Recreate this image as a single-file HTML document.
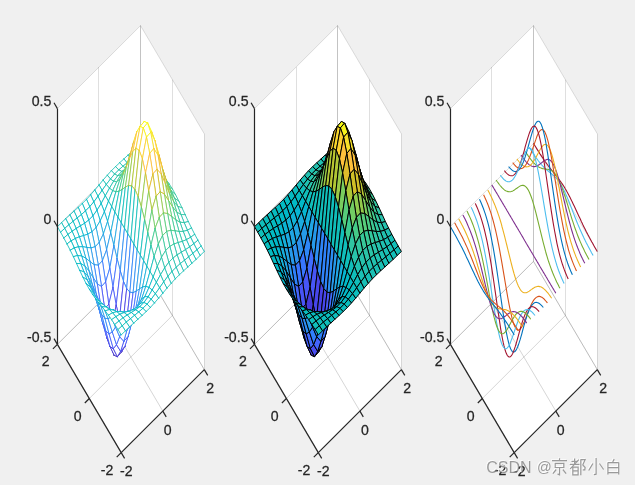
<!DOCTYPE html><html><head><meta charset="utf-8"><style>html,body{margin:0;padding:0;background:#f0f0f0}svg{display:block}</style></head><body><svg width="635" height="485" viewBox="0 0 635 485">
<rect width="635" height="485" fill="#f0f0f0"/>
<polygon points="57.4,344.4 57.4,108.6 140.5,25.6 204.3,133.8 204.3,369.6 121.2,452.6" fill="#fff"/>
<g stroke="#262626" stroke-opacity="0.19" stroke-width="1" fill="none">
<path d="M121.2 452.6L57.4 344.4"/>
<path d="M162.8 411.1L99 302.9"/>
<path d="M204.3 369.6L140.5 261.4"/>
<path d="M121.2 452.6L204.3 369.6"/>
<path d="M89.3 398.5L172.4 315.5"/>
<path d="M57.4 344.4L140.5 261.4"/>
</g>
<g stroke="#262626" stroke-opacity="0.15" stroke-width="1" fill="none">
<path d="M57.5 344.4L57.5 108.6"/>
<path d="M98.5 302.9L98.5 67.1"/>
<path d="M140.5 261.4L140.5 25.6"/>
<path d="M57.4 344.4L140.5 261.4"/>
<path d="M57.4 226.5L140.5 143.5"/>
<path d="M57.4 108.6L140.5 25.6"/>
<path d="M204.5 369.6L204.5 133.8"/>
<path d="M172.5 315.5L172.5 79.7"/>
<path d="M140.5 261.4L140.5 25.6"/>
<path d="M204.3 369.6L140.5 261.4"/>
<path d="M204.3 251.7L140.5 143.5"/>
<path d="M204.3 133.8L140.5 25.6"/>
</g>
<g stroke-width="0.85" stroke-linecap="round" fill="none">
<path d="M139.5 152.4L143.7 148.6L140.5 143.3L136.3 147.3z" fill="#fff"/>
<path d="M139.5 152.4L143.7 148.6" stroke="#13beb8"/>
<path d="M139.5 152.4L136.3 147.3" stroke="#13beb8"/>
<path d="M136.3 147.3L140.5 143.3" stroke="#13beb8"/>
<path d="M143.7 148.6L140.5 143.3" stroke="#13beb8"/>
<path d="M135.4 156.1L139.5 152.4L136.3 147.3L132.2 151.3z" fill="#fff"/>
<path d="M135.4 156.1L139.5 152.4" stroke="#17bfb6"/>
<path d="M135.4 156.1L132.2 151.3" stroke="#17bfb6"/>
<path d="M132.2 151.3L136.3 147.3" stroke="#13beb8"/>
<path d="M139.5 152.4L136.3 147.3" stroke="#13beb8"/>
<path d="M142.7 157.2L146.9 153.7L143.7 148.6L139.5 152.4z" fill="#fff"/>
<path d="M142.7 157.2L146.9 153.7" stroke="#17bfb6"/>
<path d="M142.7 157.2L139.5 152.4" stroke="#17bfb6"/>
<path d="M139.5 152.4L143.7 148.6" stroke="#13beb8"/>
<path d="M146.9 153.7L143.7 148.6" stroke="#13beb8"/>
<path d="M131.2 159.5L135.4 156.1L132.2 151.3L128 155.1z" fill="#fff"/>
<path d="M131.2 159.5L135.4 156.1" stroke="#1ac0b5"/>
<path d="M131.2 159.5L128 155.1" stroke="#1ac0b5"/>
<path d="M128 155.1L132.2 151.3" stroke="#17bfb6"/>
<path d="M135.4 156.1L132.2 151.3" stroke="#17bfb6"/>
<path d="M138.6 160.4L142.7 157.2L139.5 152.4L135.4 156.1z" fill="#fff"/>
<path d="M138.6 160.4L142.7 157.2" stroke="#1ac0b5"/>
<path d="M138.6 160.4L135.4 156.1" stroke="#1ac0b5"/>
<path d="M135.4 156.1L139.5 152.4" stroke="#17bfb6"/>
<path d="M142.7 157.2L139.5 152.4" stroke="#17bfb6"/>
<path d="M145.9 161.5L150.1 158.5L146.9 153.7L142.7 157.2z" fill="#fff"/>
<path d="M145.9 161.5L150.1 158.5" stroke="#1dc0b3"/>
<path d="M145.9 161.5L142.7 157.2" stroke="#1dc0b3"/>
<path d="M142.7 157.2L146.9 153.7" stroke="#17bfb6"/>
<path d="M150.1 158.5L146.9 153.7" stroke="#17bfb6"/>
<path d="M127.1 162.9L131.2 159.5L128 155.1L123.9 158.9z" fill="#fff"/>
<path d="M127.1 162.9L131.2 159.5" stroke="#1dc0b3"/>
<path d="M127.1 162.9L123.9 158.9" stroke="#1dc0b3"/>
<path d="M123.9 158.9L128 155.1" stroke="#17bfb6"/>
<path d="M131.2 159.5L128 155.1" stroke="#1ac0b5"/>
<path d="M134.4 163.2L138.6 160.4L135.4 156.1L131.2 159.5z" fill="#fff"/>
<path d="M134.4 163.2L138.6 160.4" stroke="#20c1b1"/>
<path d="M134.4 163.2L131.2 159.5" stroke="#20c1b1"/>
<path d="M131.2 159.5L135.4 156.1" stroke="#1ac0b5"/>
<path d="M138.6 160.4L135.4 156.1" stroke="#1ac0b5"/>
<path d="M141.8 163.9L145.9 161.5L142.7 157.2L138.6 160.4z" fill="#fff"/>
<path d="M141.8 163.9L145.9 161.5" stroke="#22c1af"/>
<path d="M141.8 163.9L138.6 160.4" stroke="#22c1af"/>
<path d="M138.6 160.4L142.7 157.2" stroke="#1ac0b5"/>
<path d="M145.9 161.5L142.7 157.2" stroke="#1dc0b3"/>
<path d="M149.1 165.4L153.3 163.1L150.1 158.5L145.9 161.5z" fill="#fff"/>
<path d="M149.1 165.4L153.3 163.1" stroke="#22c1af"/>
<path d="M149.1 165.4L145.9 161.5" stroke="#22c1af"/>
<path d="M145.9 161.5L150.1 158.5" stroke="#1dc0b3"/>
<path d="M153.3 163.1L150.1 158.5" stroke="#1ac0b5"/>
<path d="M122.9 166.3L127.1 162.9L123.9 158.9L119.7 162.7z" fill="#fff"/>
<path d="M122.9 166.3L127.1 162.9" stroke="#20c1b1"/>
<path d="M122.9 166.3L119.7 162.7" stroke="#20c1b1"/>
<path d="M119.7 162.7L123.9 158.9" stroke="#1ac0b5"/>
<path d="M127.1 162.9L123.9 158.9" stroke="#1dc0b3"/>
<path d="M130.3 165.7L134.4 163.2L131.2 159.5L127.1 162.9z" fill="#fff"/>
<path d="M130.3 165.7L134.4 163.2" stroke="#25c2ae"/>
<path d="M130.3 165.7L127.1 162.9" stroke="#25c2ae"/>
<path d="M127.1 162.9L131.2 159.5" stroke="#1dc0b3"/>
<path d="M134.4 163.2L131.2 159.5" stroke="#20c1b1"/>
<path d="M137.6 165.6L141.8 163.9L138.6 160.4L134.4 163.2z" fill="#fff"/>
<path d="M137.6 165.6L141.8 163.9" stroke="#29c3aa"/>
<path d="M137.6 165.6L134.4 163.2" stroke="#29c3aa"/>
<path d="M134.4 163.2L138.6 160.4" stroke="#20c1b1"/>
<path d="M141.8 163.9L138.6 160.4" stroke="#22c1af"/>
<path d="M144.9 166.5L149.1 165.4L145.9 161.5L141.8 163.9z" fill="#fff"/>
<path d="M144.9 166.5L149.1 165.4" stroke="#29c3aa"/>
<path d="M144.9 166.5L141.8 163.9" stroke="#29c3aa"/>
<path d="M141.8 163.9L145.9 161.5" stroke="#22c1af"/>
<path d="M149.1 165.4L145.9 161.5" stroke="#22c1af"/>
<path d="M118.8 169.9L122.9 166.3L119.7 162.7L115.6 166.6z" fill="#fff"/>
<path d="M118.8 169.9L122.9 166.3" stroke="#22c1af"/>
<path d="M118.8 169.9L115.6 166.6" stroke="#22c1af"/>
<path d="M115.6 166.6L119.7 162.7" stroke="#1ac0b5"/>
<path d="M122.9 166.3L119.7 162.7" stroke="#20c1b1"/>
<path d="M152.3 168.6L156.4 167.4L153.3 163.1L149.1 165.4z" fill="#fff"/>
<path d="M152.3 168.6L156.4 167.4" stroke="#27c2ac"/>
<path d="M152.3 168.6L149.1 165.4" stroke="#27c2ac"/>
<path d="M149.1 165.4L153.3 163.1" stroke="#22c1af"/>
<path d="M156.4 167.4L153.3 163.1" stroke="#20c1b1"/>
<path d="M126.1 168.4L130.3 165.7L127.1 162.9L122.9 166.3z" fill="#fff"/>
<path d="M126.1 168.4L130.3 165.7" stroke="#29c3aa"/>
<path d="M126.1 168.4L122.9 166.3" stroke="#29c3aa"/>
<path d="M122.9 166.3L127.1 162.9" stroke="#20c1b1"/>
<path d="M130.3 165.7L127.1 162.9" stroke="#25c2ae"/>
<path d="M133.4 166.9L137.6 165.6L134.4 163.2L130.3 165.7z" fill="#fff"/>
<path d="M133.4 166.9L137.6 165.6" stroke="#2fc5a3"/>
<path d="M133.4 166.9L130.3 165.7" stroke="#2fc5a3"/>
<path d="M130.3 165.7L134.4 163.2" stroke="#25c2ae"/>
<path d="M137.6 165.6L134.4 163.2" stroke="#29c3aa"/>
<path d="M140.8 166.6L144.9 166.5L141.8 163.9L137.6 165.6z" fill="#fff"/>
<path d="M140.8 166.6L144.9 166.5" stroke="#32c69f"/>
<path d="M140.8 166.6L137.6 165.6" stroke="#32c69f"/>
<path d="M137.6 165.6L141.8 163.9" stroke="#29c3aa"/>
<path d="M144.9 166.5L141.8 163.9" stroke="#29c3aa"/>
<path d="M114.6 174.1L118.8 169.9L115.6 166.6L111.4 170.7z" fill="#fff"/>
<path d="M114.6 174.1L118.8 169.9" stroke="#20c1b1"/>
<path d="M114.6 174.1L111.4 170.7" stroke="#20c1b1"/>
<path d="M111.4 170.7L115.6 166.6" stroke="#1ac0b5"/>
<path d="M118.8 169.9L115.6 166.6" stroke="#22c1af"/>
<path d="M148.1 168.1L152.3 168.6L149.1 165.4L144.9 166.5z" fill="#fff"/>
<path d="M148.1 168.1L152.3 168.6" stroke="#30c5a1"/>
<path d="M148.1 168.1L144.9 166.5" stroke="#30c5a1"/>
<path d="M144.9 166.5L149.1 165.4" stroke="#29c3aa"/>
<path d="M152.3 168.6L149.1 165.4" stroke="#27c2ac"/>
<path d="M121.9 171.5L126.1 168.4L122.9 166.3L118.8 169.9z" fill="#fff"/>
<path d="M121.9 171.5L126.1 168.4" stroke="#2bc3a8"/>
<path d="M121.9 171.5L118.8 169.9" stroke="#2bc3a8"/>
<path d="M118.8 169.9L122.9 166.3" stroke="#22c1af"/>
<path d="M126.1 168.4L122.9 166.3" stroke="#29c3aa"/>
<path d="M155.5 171.3L159.6 171.4L156.4 167.4L152.3 168.6z" fill="#fff"/>
<path d="M155.5 171.3L159.6 171.4" stroke="#2ec4a4"/>
<path d="M155.5 171.3L152.3 168.6" stroke="#2ec4a4"/>
<path d="M152.3 168.6L156.4 167.4" stroke="#27c2ac"/>
<path d="M159.6 171.4L156.4 167.4" stroke="#22c1af"/>
<path d="M129.3 168.3L133.4 166.9L130.3 165.7L126.1 168.4z" fill="#fff"/>
<path d="M129.3 168.3L133.4 166.9" stroke="#33c79d"/>
<path d="M129.3 168.3L126.1 168.4" stroke="#33c79d"/>
<path d="M126.1 168.4L130.3 165.7" stroke="#29c3aa"/>
<path d="M133.4 166.9L130.3 165.7" stroke="#2fc5a3"/>
<path d="M136.6 165.9L140.8 166.6L137.6 165.6L133.4 166.9z" fill="#fff"/>
<path d="M136.6 165.9L140.8 166.6" stroke="#3cc992"/>
<path d="M136.6 165.9L133.4 166.9" stroke="#3cc992"/>
<path d="M133.4 166.9L137.6 165.6" stroke="#2fc5a3"/>
<path d="M140.8 166.6L137.6 165.6" stroke="#32c69f"/>
<path d="M110.5 179L114.6 174.1L111.4 170.7L107.3 175.2z" fill="#fff"/>
<path d="M110.5 179L114.6 174.1" stroke="#20c1b1"/>
<path d="M110.5 179L107.3 175.2" stroke="#20c1b1"/>
<path d="M107.3 175.2L111.4 170.7" stroke="#17bfb6"/>
<path d="M114.6 174.1L111.4 170.7" stroke="#20c1b1"/>
<path d="M144 165.9L148.1 168.1L144.9 166.5L140.8 166.6z" fill="#fff"/>
<path d="M144 165.9L148.1 168.1" stroke="#40ca8d"/>
<path d="M144 165.9L140.8 166.6" stroke="#40ca8d"/>
<path d="M140.8 166.6L144.9 166.5" stroke="#32c69f"/>
<path d="M148.1 168.1L144.9 166.5" stroke="#30c5a1"/>
<path d="M117.8 175.7L121.9 171.5L118.8 169.9L114.6 174.1z" fill="#fff"/>
<path d="M117.8 175.7L121.9 171.5" stroke="#2bc3a8"/>
<path d="M117.8 175.7L114.6 174.1" stroke="#2bc3a8"/>
<path d="M114.6 174.1L118.8 169.9" stroke="#20c1b1"/>
<path d="M121.9 171.5L118.8 169.9" stroke="#2bc3a8"/>
<path d="M151.3 168.9L155.5 171.3L152.3 168.6L148.1 168.1z" fill="#fff"/>
<path d="M151.3 168.9L155.5 171.3" stroke="#3ac994"/>
<path d="M151.3 168.9L148.1 168.1" stroke="#3ac994"/>
<path d="M148.1 168.1L152.3 168.6" stroke="#30c5a1"/>
<path d="M155.5 171.3L152.3 168.6" stroke="#2ec4a4"/>
<path d="M125.1 170.6L129.3 168.3L126.1 168.4L121.9 171.5z" fill="#fff"/>
<path d="M125.1 170.6L129.3 168.3" stroke="#38c896"/>
<path d="M125.1 170.6L121.9 171.5" stroke="#38c896"/>
<path d="M121.9 171.5L126.1 168.4" stroke="#2bc3a8"/>
<path d="M129.3 168.3L126.1 168.4" stroke="#33c79d"/>
<path d="M158.7 173.9L162.8 175.3L159.6 171.4L155.5 171.3z" fill="#fff"/>
<path d="M158.7 173.9L162.8 175.3" stroke="#32c69f"/>
<path d="M158.7 173.9L155.5 171.3" stroke="#32c69f"/>
<path d="M155.5 171.3L159.6 171.4" stroke="#2ec4a4"/>
<path d="M162.8 175.3L159.6 171.4" stroke="#27c2ac"/>
<path d="M132.5 165.3L136.6 165.9L133.4 166.9L129.3 168.3z" fill="#fff"/>
<path d="M132.5 165.3L136.6 165.9" stroke="#4bcb84"/>
<path d="M132.5 165.3L129.3 168.3" stroke="#4bcb84"/>
<path d="M129.3 168.3L133.4 166.9" stroke="#33c79d"/>
<path d="M136.6 165.9L133.4 166.9" stroke="#3cc992"/>
<path d="M106.3 184.5L110.5 179L107.3 175.2L103.1 180z" fill="#fff"/>
<path d="M106.3 184.5L110.5 179" stroke="#1ac0b5"/>
<path d="M106.3 184.5L103.1 180" stroke="#1ac0b5"/>
<path d="M103.1 180L107.3 175.2" stroke="#17bfb6"/>
<path d="M110.5 179L107.3 175.2" stroke="#20c1b1"/>
<path d="M139.8 162.5L144 165.9L140.8 166.6L136.6 165.9z" fill="#fff"/>
<path d="M139.8 162.5L144 165.9" stroke="#5acc77"/>
<path d="M139.8 162.5L136.6 165.9" stroke="#5acc77"/>
<path d="M136.6 165.9L140.8 166.6" stroke="#3cc992"/>
<path d="M144 165.9L140.8 166.6" stroke="#40ca8d"/>
<path d="M113.6 181.3L117.8 175.7L114.6 174.1L110.5 179z" fill="#fff"/>
<path d="M113.6 181.3L117.8 175.7" stroke="#27c2ac"/>
<path d="M113.6 181.3L110.5 179" stroke="#27c2ac"/>
<path d="M110.5 179L114.6 174.1" stroke="#20c1b1"/>
<path d="M117.8 175.7L114.6 174.1" stroke="#2bc3a8"/>
<path d="M147.2 163.9L151.3 168.9L148.1 168.1L144 165.9z" fill="#fff"/>
<path d="M147.2 163.9L151.3 168.9" stroke="#5acc77"/>
<path d="M147.2 163.9L144 165.9" stroke="#5acc77"/>
<path d="M144 165.9L148.1 168.1" stroke="#40ca8d"/>
<path d="M151.3 168.9L148.1 168.1" stroke="#3ac994"/>
<path d="M121 174.9L125.1 170.6L121.9 171.5L117.8 175.7z" fill="#fff"/>
<path d="M121 174.9L125.1 170.6" stroke="#36c899"/>
<path d="M121 174.9L117.8 175.7" stroke="#36c899"/>
<path d="M117.8 175.7L121.9 171.5" stroke="#2bc3a8"/>
<path d="M125.1 170.6L121.9 171.5" stroke="#38c896"/>
<path d="M154.5 169.3L158.7 173.9L155.5 171.3L151.3 168.9z" fill="#fff"/>
<path d="M154.5 169.3L158.7 173.9" stroke="#4bcb84"/>
<path d="M154.5 169.3L151.3 168.9" stroke="#4bcb84"/>
<path d="M151.3 168.9L155.5 171.3" stroke="#3ac994"/>
<path d="M158.7 173.9L155.5 171.3" stroke="#32c69f"/>
<path d="M128.3 166.5L132.5 165.3L129.3 168.3L125.1 170.6z" fill="#fff"/>
<path d="M128.3 166.5L132.5 165.3" stroke="#57cc7a"/>
<path d="M128.3 166.5L125.1 170.6" stroke="#57cc7a"/>
<path d="M125.1 170.6L129.3 168.3" stroke="#38c896"/>
<path d="M132.5 165.3L129.3 168.3" stroke="#4bcb84"/>
<path d="M102.1 190.4L106.3 184.5L103.1 180L99 185z" fill="#fff"/>
<path d="M102.1 190.4L106.3 184.5" stroke="#10beba"/>
<path d="M102.1 190.4L99 185" stroke="#10beba"/>
<path d="M99 185L103.1 180" stroke="#10beba"/>
<path d="M106.3 184.5L103.1 180" stroke="#1ac0b5"/>
<path d="M161.9 176.8L166 179.4L162.8 175.3L158.7 173.9z" fill="#fff"/>
<path d="M161.9 176.8L166 179.4" stroke="#38c896"/>
<path d="M161.9 176.8L158.7 173.9" stroke="#38c896"/>
<path d="M158.7 173.9L162.8 175.3" stroke="#32c69f"/>
<path d="M166 179.4L162.8 175.3" stroke="#2bc3a8"/>
<path d="M135.7 159.4L139.8 162.5L136.6 165.9L132.5 165.3z" fill="#fff"/>
<path d="M135.7 159.4L139.8 162.5" stroke="#7dcc5b"/>
<path d="M135.7 159.4L132.5 165.3" stroke="#7dcc5b"/>
<path d="M132.5 165.3L136.6 165.9" stroke="#4bcb84"/>
<path d="M139.8 162.5L136.6 165.9" stroke="#5acc77"/>
<path d="M109.5 188.2L113.6 181.3L110.5 179L106.3 184.5z" fill="#fff"/>
<path d="M109.5 188.2L113.6 181.3" stroke="#20c1b1"/>
<path d="M109.5 188.2L106.3 184.5" stroke="#20c1b1"/>
<path d="M106.3 184.5L110.5 179" stroke="#1ac0b5"/>
<path d="M113.6 181.3L110.5 179" stroke="#27c2ac"/>
<path d="M143 157.2L147.2 163.9L144 165.9L139.8 162.5z" fill="#fff"/>
<path d="M143 157.2L147.2 163.9" stroke="#8bcb51"/>
<path d="M143 157.2L139.8 162.5" stroke="#8bcb51"/>
<path d="M139.8 162.5L144 165.9" stroke="#5acc77"/>
<path d="M147.2 163.9L144 165.9" stroke="#5acc77"/>
<path d="M116.8 181.6L121 174.9L117.8 175.7L113.6 181.3z" fill="#fff"/>
<path d="M116.8 181.6L121 174.9" stroke="#32c69f"/>
<path d="M116.8 181.6L113.6 181.3" stroke="#32c69f"/>
<path d="M113.6 181.3L117.8 175.7" stroke="#27c2ac"/>
<path d="M121 174.9L117.8 175.7" stroke="#36c899"/>
<path d="M150.4 161.4L154.5 169.3L151.3 168.9L147.2 163.9z" fill="#fff"/>
<path d="M150.4 161.4L154.5 169.3" stroke="#7dcc5b"/>
<path d="M150.4 161.4L147.2 163.9" stroke="#7dcc5b"/>
<path d="M147.2 163.9L151.3 168.9" stroke="#5acc77"/>
<path d="M154.5 169.3L151.3 168.9" stroke="#4bcb84"/>
<path d="M124.2 170.8L128.3 166.5L125.1 170.6L121 174.9z" fill="#fff"/>
<path d="M124.2 170.8L128.3 166.5" stroke="#57cc7a"/>
<path d="M124.2 170.8L121 174.9" stroke="#57cc7a"/>
<path d="M121 174.9L125.1 170.6" stroke="#36c899"/>
<path d="M128.3 166.5L125.1 170.6" stroke="#57cc7a"/>
<path d="M98 196.3L102.1 190.4L99 185L94.8 190z" fill="#fff"/>
<path d="M98 196.3L102.1 190.4" stroke="#0abdbd"/>
<path d="M98 196.3L94.8 190" stroke="#0abdbd"/>
<path d="M94.8 190L99 185" stroke="#0dbdbc"/>
<path d="M102.1 190.4L99 185" stroke="#10beba"/>
<path d="M157.7 170.2L161.9 176.8L158.7 173.9L154.5 169.3z" fill="#fff"/>
<path d="M157.7 170.2L161.9 176.8" stroke="#5acc77"/>
<path d="M157.7 170.2L154.5 169.3" stroke="#5acc77"/>
<path d="M154.5 169.3L158.7 173.9" stroke="#4bcb84"/>
<path d="M161.9 176.8L158.7 173.9" stroke="#38c896"/>
<path d="M131.5 158.9L135.7 159.4L132.5 165.3L128.3 166.5z" fill="#fff"/>
<path d="M131.5 158.9L135.7 159.4" stroke="#93ca4b"/>
<path d="M131.5 158.9L128.3 166.5" stroke="#93ca4b"/>
<path d="M128.3 166.5L132.5 165.3" stroke="#57cc7a"/>
<path d="M135.7 159.4L132.5 165.3" stroke="#7dcc5b"/>
<path d="M105.3 195.8L109.5 188.2L106.3 184.5L102.1 190.4z" fill="#fff"/>
<path d="M105.3 195.8L109.5 188.2" stroke="#10beba"/>
<path d="M105.3 195.8L102.1 190.4" stroke="#10beba"/>
<path d="M102.1 190.4L106.3 184.5" stroke="#10beba"/>
<path d="M109.5 188.2L106.3 184.5" stroke="#20c1b1"/>
<path d="M165.1 180.4L169.2 183.9L166 179.4L161.9 176.8z" fill="#fff"/>
<path d="M165.1 180.4L169.2 183.9" stroke="#3cc992"/>
<path d="M165.1 180.4L161.9 176.8" stroke="#3cc992"/>
<path d="M161.9 176.8L166 179.4" stroke="#38c896"/>
<path d="M169.2 183.9L166 179.4" stroke="#2cc4a6"/>
<path d="M138.9 151L143 157.2L139.8 162.5L135.7 159.4z" fill="#fff"/>
<path d="M138.9 151L143 157.2" stroke="#b8c431"/>
<path d="M138.9 151L135.7 159.4" stroke="#b8c431"/>
<path d="M135.7 159.4L139.8 162.5" stroke="#7dcc5b"/>
<path d="M143 157.2L139.8 162.5" stroke="#8bcb51"/>
<path d="M112.7 190.7L116.8 181.6L113.6 181.3L109.5 188.2z" fill="#fff"/>
<path d="M112.7 190.7L116.8 181.6" stroke="#29c3aa"/>
<path d="M112.7 190.7L109.5 188.2" stroke="#29c3aa"/>
<path d="M109.5 188.2L113.6 181.3" stroke="#20c1b1"/>
<path d="M116.8 181.6L113.6 181.3" stroke="#32c69f"/>
<path d="M146.2 151.2L150.4 161.4L147.2 163.9L143 157.2z" fill="#fff"/>
<path d="M146.2 151.2L150.4 161.4" stroke="#bec32e"/>
<path d="M146.2 151.2L143 157.2" stroke="#bec32e"/>
<path d="M143 157.2L147.2 163.9" stroke="#8bcb51"/>
<path d="M150.4 161.4L147.2 163.9" stroke="#7dcc5b"/>
<path d="M120 179.3L124.2 170.8L121 174.9L116.8 181.6z" fill="#fff"/>
<path d="M120 179.3L124.2 170.8" stroke="#45cb89"/>
<path d="M120 179.3L116.8 181.6" stroke="#45cb89"/>
<path d="M116.8 181.6L121 174.9" stroke="#32c69f"/>
<path d="M124.2 170.8L121 174.9" stroke="#57cc7a"/>
<path d="M93.8 201.9L98 196.3L94.8 190L90.6 194.8z" fill="#fff"/>
<path d="M93.8 201.9L98 196.3" stroke="#05bbc1"/>
<path d="M93.8 201.9L90.6 194.8" stroke="#05bbc1"/>
<path d="M90.6 194.8L94.8 190" stroke="#0dbdbc"/>
<path d="M98 196.3L94.8 190" stroke="#0abdbd"/>
<path d="M153.6 159.6L157.7 170.2L154.5 169.3L150.4 161.4z" fill="#fff"/>
<path d="M153.6 159.6L157.7 170.2" stroke="#9dc943"/>
<path d="M153.6 159.6L150.4 161.4" stroke="#9dc943"/>
<path d="M150.4 161.4L154.5 169.3" stroke="#7dcc5b"/>
<path d="M157.7 170.2L154.5 169.3" stroke="#5acc77"/>
<path d="M127.4 163.3L131.5 158.9L128.3 166.5L124.2 170.8z" fill="#fff"/>
<path d="M127.4 163.3L131.5 158.9" stroke="#8fcb4e"/>
<path d="M127.4 163.3L124.2 170.8" stroke="#8fcb4e"/>
<path d="M124.2 170.8L128.3 166.5" stroke="#57cc7a"/>
<path d="M131.5 158.9L128.3 166.5" stroke="#93ca4b"/>
<path d="M101.2 203.5L105.3 195.8L102.1 190.4L98 196.3z" fill="#fff"/>
<path d="M101.2 203.5L105.3 195.8" stroke="#05bbc1"/>
<path d="M101.2 203.5L98 196.3" stroke="#05bbc1"/>
<path d="M98 196.3L102.1 190.4" stroke="#0abdbd"/>
<path d="M105.3 195.8L102.1 190.4" stroke="#10beba"/>
<path d="M160.9 172.5L165.1 180.4L161.9 176.8L157.7 170.2z" fill="#fff"/>
<path d="M160.9 172.5L165.1 180.4" stroke="#6bcd69"/>
<path d="M160.9 172.5L157.7 170.2" stroke="#6bcd69"/>
<path d="M157.7 170.2L161.9 176.8" stroke="#5acc77"/>
<path d="M165.1 180.4L161.9 176.8" stroke="#3cc992"/>
<path d="M134.7 148.4L138.9 151L135.7 159.4L131.5 158.9z" fill="#fff"/>
<path d="M134.7 148.4L138.9 151" stroke="#d3bf27"/>
<path d="M134.7 148.4L131.5 158.9" stroke="#d3bf27"/>
<path d="M131.5 158.9L135.7 159.4" stroke="#93ca4b"/>
<path d="M138.9 151L135.7 159.4" stroke="#b8c431"/>
<path d="M108.5 201.2L112.7 190.7L109.5 188.2L105.3 195.8z" fill="#fff"/>
<path d="M108.5 201.2L112.7 190.7" stroke="#10beba"/>
<path d="M108.5 201.2L105.3 195.8" stroke="#10beba"/>
<path d="M105.3 195.8L109.5 188.2" stroke="#10beba"/>
<path d="M112.7 190.7L109.5 188.2" stroke="#29c3aa"/>
<path d="M168.2 185.1L172.4 189L169.2 183.9L165.1 180.4z" fill="#fff"/>
<path d="M168.2 185.1L172.4 189" stroke="#3eca90"/>
<path d="M168.2 185.1L165.1 180.4" stroke="#3eca90"/>
<path d="M165.1 180.4L169.2 183.9" stroke="#3cc992"/>
<path d="M172.4 189L169.2 183.9" stroke="#2ec4a4"/>
<path d="M142.1 141.6L146.2 151.2L143 157.2L138.9 151z" fill="#fff"/>
<path d="M142.1 141.6L146.2 151.2" stroke="#ecba33"/>
<path d="M142.1 141.6L138.9 151" stroke="#ecba33"/>
<path d="M138.9 151L143 157.2" stroke="#b8c431"/>
<path d="M146.2 151.2L143 157.2" stroke="#bec32e"/>
<path d="M115.9 191.8L120 179.3L116.8 181.6L112.7 190.7z" fill="#fff"/>
<path d="M115.9 191.8L120 179.3" stroke="#30c5a1"/>
<path d="M115.9 191.8L112.7 190.7" stroke="#30c5a1"/>
<path d="M112.7 190.7L116.8 181.6" stroke="#29c3aa"/>
<path d="M120 179.3L116.8 181.6" stroke="#45cb89"/>
<path d="M89.7 206.7L93.8 201.9L90.6 194.8L86.5 199.3z" fill="#fff"/>
<path d="M89.7 206.7L93.8 201.9" stroke="#05bbc1"/>
<path d="M89.7 206.7L86.5 199.3" stroke="#05bbc1"/>
<path d="M86.5 199.3L90.6 194.8" stroke="#0abdbd"/>
<path d="M93.8 201.9L90.6 194.8" stroke="#05bbc1"/>
<path d="M149.4 146.3L153.6 159.6L150.4 161.4L146.2 151.2z" fill="#fff"/>
<path d="M149.4 146.3L153.6 159.6" stroke="#e3bc2c"/>
<path d="M149.4 146.3L146.2 151.2" stroke="#e3bc2c"/>
<path d="M146.2 151.2L150.4 161.4" stroke="#bec32e"/>
<path d="M153.6 159.6L150.4 161.4" stroke="#9dc943"/>
<path d="M123.2 174.2L127.4 163.3L124.2 170.8L120 179.3z" fill="#fff"/>
<path d="M123.2 174.2L127.4 163.3" stroke="#72cd64"/>
<path d="M123.2 174.2L120 179.3" stroke="#72cd64"/>
<path d="M120 179.3L124.2 170.8" stroke="#45cb89"/>
<path d="M127.4 163.3L124.2 170.8" stroke="#8fcb4e"/>
<path d="M97 210.3L101.2 203.5L98 196.3L93.8 201.9z" fill="#fff"/>
<path d="M97 210.3L101.2 203.5" stroke="#01b9c6"/>
<path d="M97 210.3L93.8 201.9" stroke="#01b9c6"/>
<path d="M93.8 201.9L98 196.3" stroke="#05bbc1"/>
<path d="M101.2 203.5L98 196.3" stroke="#05bbc1"/>
<path d="M156.7 160L160.9 172.5L157.7 170.2L153.6 159.6z" fill="#fff"/>
<path d="M156.7 160L160.9 172.5" stroke="#b5c533"/>
<path d="M156.7 160L153.6 159.6" stroke="#b5c533"/>
<path d="M153.6 159.6L157.7 170.2" stroke="#9dc943"/>
<path d="M160.9 172.5L157.7 170.2" stroke="#6bcd69"/>
<path d="M130.6 153L134.7 148.4L131.5 158.9L127.4 163.3z" fill="#fff"/>
<path d="M130.6 153L134.7 148.4" stroke="#d0bf27"/>
<path d="M130.6 153L127.4 163.3" stroke="#d0bf27"/>
<path d="M127.4 163.3L131.5 158.9" stroke="#8fcb4e"/>
<path d="M134.7 148.4L131.5 158.9" stroke="#d3bf27"/>
<path d="M104.4 211.8L108.5 201.2L105.3 195.8L101.2 203.5z" fill="#fff"/>
<path d="M104.4 211.8L108.5 201.2" stroke="#01b9c7"/>
<path d="M104.4 211.8L101.2 203.5" stroke="#01b9c7"/>
<path d="M101.2 203.5L105.3 195.8" stroke="#05bbc1"/>
<path d="M108.5 201.2L105.3 195.8" stroke="#10beba"/>
<path d="M164.1 176.7L168.2 185.1L165.1 180.4L160.9 172.5z" fill="#fff"/>
<path d="M164.1 176.7L168.2 185.1" stroke="#6ecd66"/>
<path d="M164.1 176.7L160.9 172.5" stroke="#6ecd66"/>
<path d="M160.9 172.5L165.1 180.4" stroke="#6bcd69"/>
<path d="M168.2 185.1L165.1 180.4" stroke="#3eca90"/>
<path d="M137.9 136.9L142.1 141.6L138.9 151L134.7 148.4z" fill="#fff"/>
<path d="M137.9 136.9L142.1 141.6" stroke="#fec13a"/>
<path d="M137.9 136.9L134.7 148.4" stroke="#fec13a"/>
<path d="M134.7 148.4L138.9 151" stroke="#d3bf27"/>
<path d="M142.1 141.6L138.9 151" stroke="#ecba33"/>
<path d="M111.7 206.6L115.9 191.8L112.7 190.7L108.5 201.2z" fill="#fff"/>
<path d="M111.7 206.6L115.9 191.8" stroke="#10beba"/>
<path d="M111.7 206.6L108.5 201.2" stroke="#10beba"/>
<path d="M108.5 201.2L112.7 190.7" stroke="#10beba"/>
<path d="M115.9 191.8L112.7 190.7" stroke="#30c5a1"/>
<path d="M85.5 210.9L89.7 206.7L86.5 199.3L82.3 203.4z" fill="#fff"/>
<path d="M85.5 210.9L89.7 206.7" stroke="#03bbc2"/>
<path d="M85.5 210.9L82.3 203.4" stroke="#03bbc2"/>
<path d="M82.3 203.4L86.5 199.3" stroke="#0abdbd"/>
<path d="M89.7 206.7L86.5 199.3" stroke="#05bbc1"/>
<path d="M171.4 191.2L175.6 194.7L172.4 189L168.2 185.1z" fill="#fff"/>
<path d="M171.4 191.2L175.6 194.7" stroke="#3cc992"/>
<path d="M171.4 191.2L168.2 185.1" stroke="#3cc992"/>
<path d="M168.2 185.1L172.4 189" stroke="#3eca90"/>
<path d="M175.6 194.7L172.4 189" stroke="#2cc4a6"/>
<path d="M145.2 133.6L149.4 146.3L146.2 151.2L142.1 141.6z" fill="#fff"/>
<path d="M145.2 133.6L149.4 146.3" stroke="#feca33"/>
<path d="M145.2 133.6L142.1 141.6" stroke="#feca33"/>
<path d="M142.1 141.6L146.2 151.2" stroke="#ecba33"/>
<path d="M149.4 146.3L146.2 151.2" stroke="#e3bc2c"/>
<path d="M119.1 191.2L123.2 174.2L120 179.3L115.9 191.8z" fill="#fff"/>
<path d="M119.1 191.2L123.2 174.2" stroke="#3eca90"/>
<path d="M119.1 191.2L115.9 191.8" stroke="#3eca90"/>
<path d="M115.9 191.8L120 179.3" stroke="#30c5a1"/>
<path d="M123.2 174.2L120 179.3" stroke="#72cd64"/>
<path d="M92.9 215.9L97 210.3L93.8 201.9L89.7 206.7z" fill="#fff"/>
<path d="M92.9 215.9L97 210.3" stroke="#01b8c9"/>
<path d="M92.9 215.9L89.7 206.7" stroke="#01b8c9"/>
<path d="M89.7 206.7L93.8 201.9" stroke="#05bbc1"/>
<path d="M97 210.3L93.8 201.9" stroke="#01b9c6"/>
<path d="M152.6 144.4L156.7 160L153.6 159.6L149.4 146.3z" fill="#fff"/>
<path d="M152.6 144.4L156.7 160" stroke="#f7ba3c"/>
<path d="M152.6 144.4L149.4 146.3" stroke="#f7ba3c"/>
<path d="M149.4 146.3L153.6 159.6" stroke="#e3bc2c"/>
<path d="M156.7 160L153.6 159.6" stroke="#b5c533"/>
<path d="M126.4 166.8L130.6 153L127.4 163.3L123.2 174.2z" fill="#fff"/>
<path d="M126.4 166.8L130.6 153" stroke="#abc739"/>
<path d="M126.4 166.8L123.2 174.2" stroke="#abc739"/>
<path d="M123.2 174.2L127.4 163.3" stroke="#72cd64"/>
<path d="M130.6 153L127.4 163.3" stroke="#d0bf27"/>
<path d="M100.2 220.9L104.4 211.8L101.2 203.5L97 210.3z" fill="#fff"/>
<path d="M100.2 220.9L104.4 211.8" stroke="#08b4d1"/>
<path d="M100.2 220.9L97 210.3" stroke="#08b4d1"/>
<path d="M97 210.3L101.2 203.5" stroke="#01b9c6"/>
<path d="M104.4 211.8L101.2 203.5" stroke="#01b9c7"/>
<path d="M159.9 163.5L164.1 176.7L160.9 172.5L156.7 160z" fill="#fff"/>
<path d="M159.9 163.5L164.1 176.7" stroke="#bbc42f"/>
<path d="M159.9 163.5L156.7 160" stroke="#bbc42f"/>
<path d="M156.7 160L160.9 172.5" stroke="#b5c533"/>
<path d="M164.1 176.7L160.9 172.5" stroke="#6ecd66"/>
<path d="M133.7 141.6L137.9 136.9L134.7 148.4L130.6 153z" fill="#fff"/>
<path d="M133.7 141.6L137.9 136.9" stroke="#fec03b"/>
<path d="M133.7 141.6L130.6 153" stroke="#fec03b"/>
<path d="M130.6 153L134.7 148.4" stroke="#d0bf27"/>
<path d="M137.9 136.9L134.7 148.4" stroke="#fec13a"/>
<path d="M107.6 221.5L111.7 206.6L108.5 201.2L104.4 211.8z" fill="#fff"/>
<path d="M107.6 221.5L111.7 206.6" stroke="#06b5cf"/>
<path d="M107.6 221.5L104.4 211.8" stroke="#06b5cf"/>
<path d="M104.4 211.8L108.5 201.2" stroke="#01b9c7"/>
<path d="M111.7 206.6L108.5 201.2" stroke="#10beba"/>
<path d="M81.4 214.6L85.5 210.9L82.3 203.4L78.2 207.3z" fill="#fff"/>
<path d="M81.4 214.6L85.5 210.9" stroke="#05bbc1"/>
<path d="M81.4 214.6L78.2 207.3" stroke="#05bbc1"/>
<path d="M78.2 207.3L82.3 203.4" stroke="#0abdbd"/>
<path d="M85.5 210.9L82.3 203.4" stroke="#03bbc2"/>
<path d="M167.3 183.3L171.4 191.2L168.2 185.1L164.1 176.7z" fill="#fff"/>
<path d="M167.3 183.3L171.4 191.2" stroke="#6bcd69"/>
<path d="M167.3 183.3L164.1 176.7" stroke="#6bcd69"/>
<path d="M164.1 176.7L168.2 185.1" stroke="#6ecd66"/>
<path d="M171.4 191.2L168.2 185.1" stroke="#3cc992"/>
<path d="M141.1 126.9L145.2 133.6L142.1 141.6L137.9 136.9z" fill="#fff"/>
<path d="M141.1 126.9L145.2 133.6" stroke="#f6e028"/>
<path d="M141.1 126.9L137.9 136.9" stroke="#f6e028"/>
<path d="M137.9 136.9L142.1 141.6" stroke="#fec13a"/>
<path d="M145.2 133.6L142.1 141.6" stroke="#feca33"/>
<path d="M114.9 212.1L119.1 191.2L115.9 191.8L111.7 206.6z" fill="#fff"/>
<path d="M114.9 212.1L119.1 191.2" stroke="#10beba"/>
<path d="M114.9 212.1L111.7 206.6" stroke="#10beba"/>
<path d="M111.7 206.6L115.9 191.8" stroke="#10beba"/>
<path d="M119.1 191.2L115.9 191.8" stroke="#3eca90"/>
<path d="M88.7 220.1L92.9 215.9L89.7 206.7L85.5 210.9z" fill="#fff"/>
<path d="M88.7 220.1L92.9 215.9" stroke="#01b8c9"/>
<path d="M88.7 220.1L85.5 210.9" stroke="#01b8c9"/>
<path d="M85.5 210.9L89.7 206.7" stroke="#03bbc2"/>
<path d="M92.9 215.9L89.7 206.7" stroke="#01b8c9"/>
<path d="M174.6 198.4L178.8 201.1L175.6 194.7L171.4 191.2z" fill="#fff"/>
<path d="M174.6 198.4L178.8 201.1" stroke="#38c896"/>
<path d="M174.6 198.4L171.4 191.2" stroke="#38c896"/>
<path d="M171.4 191.2L175.6 194.7" stroke="#3cc992"/>
<path d="M178.8 201.1L175.6 194.7" stroke="#2bc3a8"/>
<path d="M148.4 129.6L152.6 144.4L149.4 146.3L145.2 133.6z" fill="#fff"/>
<path d="M148.4 129.6L152.6 144.4" stroke="#f7dd2a"/>
<path d="M148.4 129.6L145.2 133.6" stroke="#f7dd2a"/>
<path d="M145.2 133.6L149.4 146.3" stroke="#feca33"/>
<path d="M152.6 144.4L149.4 146.3" stroke="#f7ba3c"/>
<path d="M122.2 189.4L126.4 166.8L123.2 174.2L119.1 191.2z" fill="#fff"/>
<path d="M122.2 189.4L126.4 166.8" stroke="#57cc7a"/>
<path d="M122.2 189.4L119.1 191.2" stroke="#57cc7a"/>
<path d="M119.1 191.2L123.2 174.2" stroke="#3eca90"/>
<path d="M126.4 166.8L123.2 174.2" stroke="#abc739"/>
<path d="M96.1 227.6L100.2 220.9L97 210.3L92.9 215.9z" fill="#fff"/>
<path d="M96.1 227.6L100.2 220.9" stroke="#10b2d5"/>
<path d="M96.1 227.6L92.9 215.9" stroke="#10b2d5"/>
<path d="M92.9 215.9L97 210.3" stroke="#01b8c9"/>
<path d="M100.2 220.9L97 210.3" stroke="#08b4d1"/>
<path d="M155.8 147.2L159.9 163.5L156.7 160L152.6 144.4z" fill="#fff"/>
<path d="M155.8 147.2L159.9 163.5" stroke="#fdbd3d"/>
<path d="M155.8 147.2L152.6 144.4" stroke="#fdbd3d"/>
<path d="M152.6 144.4L156.7 160" stroke="#f7ba3c"/>
<path d="M159.9 163.5L156.7 160" stroke="#bbc42f"/>
<path d="M129.6 158.5L133.7 141.6L130.6 153L126.4 166.8z" fill="#fff"/>
<path d="M129.6 158.5L133.7 141.6" stroke="#e0bc2b"/>
<path d="M129.6 158.5L126.4 166.8" stroke="#e0bc2b"/>
<path d="M126.4 166.8L130.6 153" stroke="#abc739"/>
<path d="M133.7 141.6L130.6 153" stroke="#fec03b"/>
<path d="M103.4 234L107.6 221.5L104.4 211.8L100.2 220.9z" fill="#fff"/>
<path d="M103.4 234L107.6 221.5" stroke="#1babde"/>
<path d="M103.4 234L100.2 220.9" stroke="#1babde"/>
<path d="M100.2 220.9L104.4 211.8" stroke="#08b4d1"/>
<path d="M107.6 221.5L104.4 211.8" stroke="#06b5cf"/>
<path d="M77.2 217.9L81.4 214.6L78.2 207.3L74 211.1z" fill="#fff"/>
<path d="M77.2 217.9L81.4 214.6" stroke="#08bcbf"/>
<path d="M77.2 217.9L74 211.1" stroke="#08bcbf"/>
<path d="M74 211.1L78.2 207.3" stroke="#0dbdbc"/>
<path d="M81.4 214.6L78.2 207.3" stroke="#05bbc1"/>
<path d="M163.1 170.8L167.3 183.3L164.1 176.7L159.9 163.5z" fill="#fff"/>
<path d="M163.1 170.8L167.3 183.3" stroke="#b5c533"/>
<path d="M163.1 170.8L159.9 163.5" stroke="#b5c533"/>
<path d="M159.9 163.5L164.1 176.7" stroke="#bbc42f"/>
<path d="M167.3 183.3L164.1 176.7" stroke="#6bcd69"/>
<path d="M136.9 131.7L141.1 126.9L137.9 136.9L133.7 141.6z" fill="#fff"/>
<path d="M136.9 131.7L141.1 126.9" stroke="#f6de29"/>
<path d="M136.9 131.7L133.7 141.6" stroke="#f6de29"/>
<path d="M133.7 141.6L137.9 136.9" stroke="#fec03b"/>
<path d="M141.1 126.9L137.9 136.9" stroke="#f6e028"/>
<path d="M110.7 232.9L114.9 212.1L111.7 206.6L107.6 221.5z" fill="#fff"/>
<path d="M110.7 232.9L114.9 212.1" stroke="#17aeda"/>
<path d="M110.7 232.9L107.6 221.5" stroke="#17aeda"/>
<path d="M107.6 221.5L111.7 206.6" stroke="#06b5cf"/>
<path d="M114.9 212.1L111.7 206.6" stroke="#10beba"/>
<path d="M84.6 223.3L88.7 220.1L85.5 210.9L81.4 214.6z" fill="#fff"/>
<path d="M84.6 223.3L88.7 220.1" stroke="#01b9c7"/>
<path d="M84.6 223.3L81.4 214.6" stroke="#01b9c7"/>
<path d="M81.4 214.6L85.5 210.9" stroke="#05bbc1"/>
<path d="M88.7 220.1L85.5 210.9" stroke="#01b8c9"/>
<path d="M170.5 191.9L174.6 198.4L171.4 191.2L167.3 183.3z" fill="#fff"/>
<path d="M170.5 191.9L174.6 198.4" stroke="#5acc77"/>
<path d="M170.5 191.9L167.3 183.3" stroke="#5acc77"/>
<path d="M167.3 183.3L171.4 191.2" stroke="#6bcd69"/>
<path d="M174.6 198.4L171.4 191.2" stroke="#38c896"/>
<path d="M144.3 121.5L148.4 129.6L145.2 133.6L141.1 126.9z" fill="#fff"/>
<path d="M144.3 121.5L148.4 129.6" stroke="#f7f41c"/>
<path d="M144.3 121.5L141.1 126.9" stroke="#f7f41c"/>
<path d="M141.1 126.9L145.2 133.6" stroke="#f6e028"/>
<path d="M148.4 129.6L145.2 133.6" stroke="#f7dd2a"/>
<path d="M118.1 217.5L122.2 189.4L119.1 191.2L114.9 212.1z" fill="#fff"/>
<path d="M118.1 217.5L122.2 189.4" stroke="#10beba"/>
<path d="M118.1 217.5L114.9 212.1" stroke="#10beba"/>
<path d="M114.9 212.1L119.1 191.2" stroke="#10beba"/>
<path d="M122.2 189.4L119.1 191.2" stroke="#57cc7a"/>
<path d="M91.9 231.8L96.1 227.6L92.9 215.9L88.7 220.1z" fill="#fff"/>
<path d="M91.9 231.8L96.1 227.6" stroke="#12b1d6"/>
<path d="M91.9 231.8L88.7 220.1" stroke="#12b1d6"/>
<path d="M88.7 220.1L92.9 215.9" stroke="#01b8c9"/>
<path d="M96.1 227.6L92.9 215.9" stroke="#10b2d5"/>
<path d="M177.8 206.4L182 207.8L178.8 201.1L174.6 198.4z" fill="#fff"/>
<path d="M177.8 206.4L182 207.8" stroke="#32c69f"/>
<path d="M177.8 206.4L174.6 198.4" stroke="#32c69f"/>
<path d="M174.6 198.4L178.8 201.1" stroke="#38c896"/>
<path d="M182 207.8L178.8 201.1" stroke="#27c2ac"/>
<path d="M151.6 131.6L155.8 147.2L152.6 144.4L148.4 129.6z" fill="#fff"/>
<path d="M151.6 131.6L155.8 147.2" stroke="#f5e327"/>
<path d="M151.6 131.6L148.4 129.6" stroke="#f5e327"/>
<path d="M148.4 129.6L152.6 144.4" stroke="#f7dd2a"/>
<path d="M155.8 147.2L152.6 144.4" stroke="#fdbd3d"/>
<path d="M125.4 187.1L129.6 158.5L126.4 166.8L122.2 189.4z" fill="#fff"/>
<path d="M125.4 187.1L129.6 158.5" stroke="#79cc5e"/>
<path d="M125.4 187.1L122.2 189.4" stroke="#79cc5e"/>
<path d="M122.2 189.4L126.4 166.8" stroke="#57cc7a"/>
<path d="M129.6 158.5L126.4 166.8" stroke="#e0bc2b"/>
<path d="M99.2 242.5L103.4 234L100.2 220.9L96.1 227.6z" fill="#fff"/>
<path d="M99.2 242.5L103.4 234" stroke="#20a5e3"/>
<path d="M99.2 242.5L96.1 227.6" stroke="#20a5e3"/>
<path d="M96.1 227.6L100.2 220.9" stroke="#10b2d5"/>
<path d="M103.4 234L100.2 220.9" stroke="#1babde"/>
<path d="M73.1 221.3L77.2 217.9L74 211.1L69.9 214.9z" fill="#fff"/>
<path d="M73.1 221.3L77.2 217.9" stroke="#0abdbd"/>
<path d="M73.1 221.3L69.9 214.9" stroke="#0abdbd"/>
<path d="M69.9 214.9L74 211.1" stroke="#0dbdbc"/>
<path d="M77.2 217.9L74 211.1" stroke="#08bcbf"/>
<path d="M159 155.2L163.1 170.8L159.9 163.5L155.8 147.2z" fill="#fff"/>
<path d="M159 155.2L163.1 170.8" stroke="#f7ba3c"/>
<path d="M159 155.2L155.8 147.2" stroke="#f7ba3c"/>
<path d="M155.8 147.2L159.9 163.5" stroke="#fdbd3d"/>
<path d="M163.1 170.8L159.9 163.5" stroke="#b5c533"/>
<path d="M132.8 151.5L136.9 131.7L133.7 141.6L129.6 158.5z" fill="#fff"/>
<path d="M132.8 151.5L136.9 131.7" stroke="#fec03b"/>
<path d="M132.8 151.5L129.6 158.5" stroke="#fec03b"/>
<path d="M129.6 158.5L133.7 141.6" stroke="#e0bc2b"/>
<path d="M136.9 131.7L133.7 141.6" stroke="#f6de29"/>
<path d="M106.6 249.9L110.7 232.9L107.6 221.5L103.4 234z" fill="#fff"/>
<path d="M106.6 249.9L110.7 232.9" stroke="#259be8"/>
<path d="M106.6 249.9L103.4 234" stroke="#259be8"/>
<path d="M103.4 234L107.6 221.5" stroke="#1babde"/>
<path d="M110.7 232.9L107.6 221.5" stroke="#17aeda"/>
<path d="M80.4 225.9L84.6 223.3L81.4 214.6L77.2 217.9z" fill="#fff"/>
<path d="M80.4 225.9L84.6 223.3" stroke="#02bac4"/>
<path d="M80.4 225.9L77.2 217.9" stroke="#02bac4"/>
<path d="M77.2 217.9L81.4 214.6" stroke="#08bcbf"/>
<path d="M84.6 223.3L81.4 214.6" stroke="#01b9c7"/>
<path d="M166.3 181.2L170.5 191.9L167.3 183.3L163.1 170.8z" fill="#fff"/>
<path d="M166.3 181.2L170.5 191.9" stroke="#9dc943"/>
<path d="M166.3 181.2L163.1 170.8" stroke="#9dc943"/>
<path d="M163.1 170.8L167.3 183.3" stroke="#b5c533"/>
<path d="M170.5 191.9L167.3 183.3" stroke="#5acc77"/>
<path d="M140.1 126.4L144.3 121.5L141.1 126.9L136.9 131.7z" fill="#fff"/>
<path d="M140.1 126.4L144.3 121.5" stroke="#f7f41c"/>
<path d="M140.1 126.4L136.9 131.7" stroke="#f7f41c"/>
<path d="M136.9 131.7L141.1 126.9" stroke="#f6de29"/>
<path d="M144.3 121.5L141.1 126.9" stroke="#f7f41c"/>
<path d="M113.9 245.5L118.1 217.5L114.9 212.1L110.7 232.9z" fill="#fff"/>
<path d="M113.9 245.5L118.1 217.5" stroke="#20a5e3"/>
<path d="M113.9 245.5L110.7 232.9" stroke="#20a5e3"/>
<path d="M110.7 232.9L114.9 212.1" stroke="#17aeda"/>
<path d="M118.1 217.5L114.9 212.1" stroke="#10beba"/>
<path d="M87.7 234.2L91.9 231.8L88.7 220.1L84.6 223.3z" fill="#fff"/>
<path d="M87.7 234.2L91.9 231.8" stroke="#0bb3d2"/>
<path d="M87.7 234.2L84.6 223.3" stroke="#0bb3d2"/>
<path d="M84.6 223.3L88.7 220.1" stroke="#01b9c7"/>
<path d="M91.9 231.8L88.7 220.1" stroke="#12b1d6"/>
<path d="M173.7 201.8L177.8 206.4L174.6 198.4L170.5 191.9z" fill="#fff"/>
<path d="M173.7 201.8L177.8 206.4" stroke="#4bcb84"/>
<path d="M173.7 201.8L170.5 191.9" stroke="#4bcb84"/>
<path d="M170.5 191.9L174.6 198.4" stroke="#5acc77"/>
<path d="M177.8 206.4L174.6 198.4" stroke="#32c69f"/>
<path d="M147.5 123L151.6 131.6L148.4 129.6L144.3 121.5z" fill="#fff"/>
<path d="M147.5 123L151.6 131.6" stroke="#f9fb15"/>
<path d="M147.5 123L144.3 121.5" stroke="#f9fb15"/>
<path d="M144.3 121.5L148.4 129.6" stroke="#f7f41c"/>
<path d="M151.6 131.6L148.4 129.6" stroke="#f5e327"/>
<path d="M121.3 222.9L125.4 187.1L122.2 189.4L118.1 217.5z" fill="#fff"/>
<path d="M121.3 222.9L125.4 187.1" stroke="#10beba"/>
<path d="M121.3 222.9L118.1 217.5" stroke="#10beba"/>
<path d="M118.1 217.5L122.2 189.4" stroke="#10beba"/>
<path d="M125.4 187.1L122.2 189.4" stroke="#79cc5e"/>
<path d="M95.1 246.8L99.2 242.5L96.1 227.6L91.9 231.8z" fill="#fff"/>
<path d="M95.1 246.8L99.2 242.5" stroke="#20a5e3"/>
<path d="M95.1 246.8L91.9 231.8" stroke="#20a5e3"/>
<path d="M91.9 231.8L96.1 227.6" stroke="#12b1d6"/>
<path d="M99.2 242.5L96.1 227.6" stroke="#20a5e3"/>
<path d="M181 214.6L185.2 214.7L182 207.8L177.8 206.4z" fill="#fff"/>
<path d="M181 214.6L185.2 214.7" stroke="#2ec4a4"/>
<path d="M181 214.6L177.8 206.4" stroke="#2ec4a4"/>
<path d="M177.8 206.4L182 207.8" stroke="#32c69f"/>
<path d="M185.2 214.7L182 207.8" stroke="#22c1af"/>
<path d="M68.9 224.8L73.1 221.3L69.9 214.9L65.7 218.7z" fill="#fff"/>
<path d="M68.9 224.8L73.1 221.3" stroke="#0dbdbc"/>
<path d="M68.9 224.8L65.7 218.7" stroke="#0dbdbc"/>
<path d="M65.7 218.7L69.9 214.9" stroke="#10beba"/>
<path d="M73.1 221.3L69.9 214.9" stroke="#0abdbd"/>
<path d="M154.8 140.4L159 155.2L155.8 147.2L151.6 131.6z" fill="#fff"/>
<path d="M154.8 140.4L159 155.2" stroke="#f7dd2a"/>
<path d="M154.8 140.4L151.6 131.6" stroke="#f7dd2a"/>
<path d="M151.6 131.6L155.8 147.2" stroke="#f5e327"/>
<path d="M159 155.2L155.8 147.2" stroke="#f7ba3c"/>
<path d="M128.6 185.5L132.8 151.5L129.6 158.5L125.4 187.1z" fill="#fff"/>
<path d="M128.6 185.5L132.8 151.5" stroke="#9ac946"/>
<path d="M128.6 185.5L125.4 187.1" stroke="#9ac946"/>
<path d="M125.4 187.1L129.6 158.5" stroke="#79cc5e"/>
<path d="M132.8 151.5L129.6 158.5" stroke="#fec03b"/>
<path d="M102.4 260.8L106.6 249.9L103.4 234L99.2 242.5z" fill="#fff"/>
<path d="M102.4 260.8L106.6 249.9" stroke="#2b91ef"/>
<path d="M102.4 260.8L99.2 242.5" stroke="#2b91ef"/>
<path d="M99.2 242.5L103.4 234" stroke="#20a5e3"/>
<path d="M106.6 249.9L103.4 234" stroke="#259be8"/>
<path d="M76.2 228.5L80.4 225.9L77.2 217.9L73.1 221.3z" fill="#fff"/>
<path d="M76.2 228.5L80.4 225.9" stroke="#05bbc1"/>
<path d="M76.2 228.5L73.1 221.3" stroke="#05bbc1"/>
<path d="M73.1 221.3L77.2 217.9" stroke="#0abdbd"/>
<path d="M80.4 225.9L77.2 217.9" stroke="#02bac4"/>
<path d="M162.2 167.9L166.3 181.2L163.1 170.8L159 155.2z" fill="#fff"/>
<path d="M162.2 167.9L166.3 181.2" stroke="#e3bc2c"/>
<path d="M162.2 167.9L159 155.2" stroke="#e3bc2c"/>
<path d="M159 155.2L163.1 170.8" stroke="#f7ba3c"/>
<path d="M166.3 181.2L163.1 170.8" stroke="#9dc943"/>
<path d="M136 148.2L140.1 126.4L136.9 131.7L132.8 151.5z" fill="#fff"/>
<path d="M136 148.2L140.1 126.4" stroke="#fcd030"/>
<path d="M136 148.2L132.8 151.5" stroke="#fcd030"/>
<path d="M132.8 151.5L136.9 131.7" stroke="#fec03b"/>
<path d="M140.1 126.4L136.9 131.7" stroke="#f7f41c"/>
<path d="M109.8 268.1L113.9 245.5L110.7 232.9L106.6 249.9z" fill="#fff"/>
<path d="M109.8 268.1L113.9 245.5" stroke="#2e87f7"/>
<path d="M109.8 268.1L106.6 249.9" stroke="#2e87f7"/>
<path d="M106.6 249.9L110.7 232.9" stroke="#259be8"/>
<path d="M113.9 245.5L110.7 232.9" stroke="#20a5e3"/>
<path d="M83.6 235.6L87.7 234.2L84.6 223.3L80.4 225.9z" fill="#fff"/>
<path d="M83.6 235.6L87.7 234.2" stroke="#05b6ce"/>
<path d="M83.6 235.6L80.4 225.9" stroke="#05b6ce"/>
<path d="M80.4 225.9L84.6 223.3" stroke="#02bac4"/>
<path d="M87.7 234.2L84.6 223.3" stroke="#0bb3d2"/>
<path d="M169.5 193.8L173.7 201.8L170.5 191.9L166.3 181.2z" fill="#fff"/>
<path d="M169.5 193.8L173.7 201.8" stroke="#7dcc5b"/>
<path d="M169.5 193.8L166.3 181.2" stroke="#7dcc5b"/>
<path d="M166.3 181.2L170.5 191.9" stroke="#9dc943"/>
<path d="M173.7 201.8L170.5 191.9" stroke="#4bcb84"/>
<path d="M143.3 127.9L147.5 123L144.3 121.5L140.1 126.4z" fill="#fff"/>
<path d="M143.3 127.9L147.5 123" stroke="#f9fb15"/>
<path d="M143.3 127.9L140.1 126.4" stroke="#f9fb15"/>
<path d="M140.1 126.4L144.3 121.5" stroke="#f7f41c"/>
<path d="M147.5 123L144.3 121.5" stroke="#f9fb15"/>
<path d="M117.1 258.6L121.3 222.9L118.1 217.5L113.9 245.5z" fill="#fff"/>
<path d="M117.1 258.6L121.3 222.9" stroke="#2699e9"/>
<path d="M117.1 258.6L113.9 245.5" stroke="#2699e9"/>
<path d="M113.9 245.5L118.1 217.5" stroke="#20a5e3"/>
<path d="M121.3 222.9L118.1 217.5" stroke="#10beba"/>
<path d="M90.9 247.9L95.1 246.8L91.9 231.8L87.7 234.2z" fill="#fff"/>
<path d="M90.9 247.9L95.1 246.8" stroke="#1da9e0"/>
<path d="M90.9 247.9L87.7 234.2" stroke="#1da9e0"/>
<path d="M87.7 234.2L91.9 231.8" stroke="#0bb3d2"/>
<path d="M95.1 246.8L91.9 231.8" stroke="#20a5e3"/>
<path d="M176.8 212.2L181 214.6L177.8 206.4L173.7 201.8z" fill="#fff"/>
<path d="M176.8 212.2L181 214.6" stroke="#3ac994"/>
<path d="M176.8 212.2L173.7 201.8" stroke="#3ac994"/>
<path d="M173.7 201.8L177.8 206.4" stroke="#4bcb84"/>
<path d="M181 214.6L177.8 206.4" stroke="#2ec4a4"/>
<path d="M64.7 228.4L68.9 224.8L65.7 218.7L61.6 222.7z" fill="#fff"/>
<path d="M64.7 228.4L68.9 224.8" stroke="#10beba"/>
<path d="M64.7 228.4L61.6 222.7" stroke="#10beba"/>
<path d="M61.6 222.7L65.7 218.7" stroke="#10beba"/>
<path d="M68.9 224.8L65.7 218.7" stroke="#0dbdbc"/>
<path d="M150.7 132.3L154.8 140.4L151.6 131.6L147.5 123z" fill="#fff"/>
<path d="M150.7 132.3L154.8 140.4" stroke="#f7f41c"/>
<path d="M150.7 132.3L147.5 123" stroke="#f7f41c"/>
<path d="M147.5 123L151.6 131.6" stroke="#f9fb15"/>
<path d="M154.8 140.4L151.6 131.6" stroke="#f7dd2a"/>
<path d="M124.5 228.3L128.6 185.5L125.4 187.1L121.3 222.9z" fill="#fff"/>
<path d="M124.5 228.3L128.6 185.5" stroke="#10beba"/>
<path d="M124.5 228.3L121.3 222.9" stroke="#10beba"/>
<path d="M121.3 222.9L125.4 187.1" stroke="#10beba"/>
<path d="M128.6 185.5L125.4 187.1" stroke="#9ac946"/>
<path d="M98.3 265.2L102.4 260.8L99.2 242.5L95.1 246.8z" fill="#fff"/>
<path d="M98.3 265.2L102.4 260.8" stroke="#2b90f0"/>
<path d="M98.3 265.2L95.1 246.8" stroke="#2b90f0"/>
<path d="M95.1 246.8L99.2 242.5" stroke="#20a5e3"/>
<path d="M102.4 260.8L99.2 242.5" stroke="#2b91ef"/>
<path d="M184.2 222.7L188.3 221.5L185.2 214.7L181 214.6z" fill="#fff"/>
<path d="M184.2 222.7L188.3 221.5" stroke="#27c2ac"/>
<path d="M184.2 222.7L181 214.6" stroke="#27c2ac"/>
<path d="M181 214.6L185.2 214.7" stroke="#2ec4a4"/>
<path d="M188.3 221.5L185.2 214.7" stroke="#20c1b1"/>
<path d="M72.1 231.3L76.2 228.5L73.1 221.3L68.9 224.8z" fill="#fff"/>
<path d="M72.1 231.3L76.2 228.5" stroke="#0abdbd"/>
<path d="M72.1 231.3L68.9 224.8" stroke="#0abdbd"/>
<path d="M68.9 224.8L73.1 221.3" stroke="#0dbdbc"/>
<path d="M76.2 228.5L73.1 221.3" stroke="#05bbc1"/>
<path d="M158 155.2L162.2 167.9L159 155.2L154.8 140.4z" fill="#fff"/>
<path d="M158 155.2L162.2 167.9" stroke="#feca33"/>
<path d="M158 155.2L154.8 140.4" stroke="#feca33"/>
<path d="M154.8 140.4L159 155.2" stroke="#f7dd2a"/>
<path d="M162.2 167.9L159 155.2" stroke="#e3bc2c"/>
<path d="M131.8 186L136 148.2L132.8 151.5L128.6 185.5z" fill="#fff"/>
<path d="M131.8 186L136 148.2" stroke="#b1c635"/>
<path d="M131.8 186L128.6 185.5" stroke="#b1c635"/>
<path d="M128.6 185.5L132.8 151.5" stroke="#9ac946"/>
<path d="M136 148.2L132.8 151.5" stroke="#fcd030"/>
<path d="M105.6 282L109.8 268.1L106.6 249.9L102.4 260.8z" fill="#fff"/>
<path d="M105.6 282L109.8 268.1" stroke="#3876fe"/>
<path d="M105.6 282L102.4 260.8" stroke="#3876fe"/>
<path d="M102.4 260.8L106.6 249.9" stroke="#2b91ef"/>
<path d="M109.8 268.1L106.6 249.9" stroke="#2e87f7"/>
<path d="M79.4 236.8L83.6 235.6L80.4 225.9L76.2 228.5z" fill="#fff"/>
<path d="M79.4 236.8L83.6 235.6" stroke="#01b9c7"/>
<path d="M79.4 236.8L76.2 228.5" stroke="#01b9c7"/>
<path d="M76.2 228.5L80.4 225.9" stroke="#05bbc1"/>
<path d="M83.6 235.6L80.4 225.9" stroke="#05b6ce"/>
<path d="M165.3 183.7L169.5 193.8L166.3 181.2L162.2 167.9z" fill="#fff"/>
<path d="M165.3 183.7L169.5 193.8" stroke="#bec32e"/>
<path d="M165.3 183.7L162.2 167.9" stroke="#bec32e"/>
<path d="M162.2 167.9L166.3 181.2" stroke="#e3bc2c"/>
<path d="M169.5 193.8L166.3 181.2" stroke="#7dcc5b"/>
<path d="M139.2 150.4L143.3 127.9L140.1 126.4L136 148.2z" fill="#fff"/>
<path d="M139.2 150.4L143.3 127.9" stroke="#f9d62d"/>
<path d="M139.2 150.4L136 148.2" stroke="#f9d62d"/>
<path d="M136 148.2L140.1 126.4" stroke="#fcd030"/>
<path d="M143.3 127.9L140.1 126.4" stroke="#f9fb15"/>
<path d="M113 287.2L117.1 258.6L113.9 245.5L109.8 268.1z" fill="#fff"/>
<path d="M113 287.2L117.1 258.6" stroke="#406dfe"/>
<path d="M113 287.2L109.8 268.1" stroke="#406dfe"/>
<path d="M109.8 268.1L113.9 245.5" stroke="#2e87f7"/>
<path d="M117.1 258.6L113.9 245.5" stroke="#2699e9"/>
<path d="M86.8 247.4L90.9 247.9L87.7 234.2L83.6 235.6z" fill="#fff"/>
<path d="M86.8 247.4L90.9 247.9" stroke="#15afd9"/>
<path d="M86.8 247.4L83.6 235.6" stroke="#15afd9"/>
<path d="M83.6 235.6L87.7 234.2" stroke="#05b6ce"/>
<path d="M90.9 247.9L87.7 234.2" stroke="#1da9e0"/>
<path d="M172.7 207.2L176.8 212.2L173.7 201.8L169.5 193.8z" fill="#fff"/>
<path d="M172.7 207.2L176.8 212.2" stroke="#5acc77"/>
<path d="M172.7 207.2L169.5 193.8" stroke="#5acc77"/>
<path d="M169.5 193.8L173.7 201.8" stroke="#7dcc5b"/>
<path d="M176.8 212.2L173.7 201.8" stroke="#3ac994"/>
<path d="M60.6 232.2L64.7 228.4L61.6 222.7L57.4 226.7z" fill="#fff"/>
<path d="M60.6 232.2L64.7 228.4" stroke="#10beba"/>
<path d="M60.6 232.2L57.4 226.7" stroke="#10beba"/>
<path d="M57.4 226.7L61.6 222.7" stroke="#10beba"/>
<path d="M64.7 228.4L61.6 222.7" stroke="#10beba"/>
<path d="M146.5 137.2L150.7 132.3L147.5 123L143.3 127.9z" fill="#fff"/>
<path d="M146.5 137.2L150.7 132.3" stroke="#f7f41c"/>
<path d="M146.5 137.2L143.3 127.9" stroke="#f7f41c"/>
<path d="M143.3 127.9L147.5 123" stroke="#f9fb15"/>
<path d="M150.7 132.3L147.5 123" stroke="#f7f41c"/>
<path d="M120.3 271L124.5 228.3L121.3 222.9L117.1 258.6z" fill="#fff"/>
<path d="M120.3 271L124.5 228.3" stroke="#2c8ef2"/>
<path d="M120.3 271L117.1 258.6" stroke="#2c8ef2"/>
<path d="M117.1 258.6L121.3 222.9" stroke="#2699e9"/>
<path d="M124.5 228.3L121.3 222.9" stroke="#10beba"/>
<path d="M94.1 264.7L98.3 265.2L95.1 246.8L90.9 247.9z" fill="#fff"/>
<path d="M94.1 264.7L98.3 265.2" stroke="#2798ea"/>
<path d="M94.1 264.7L90.9 247.9" stroke="#2798ea"/>
<path d="M90.9 247.9L95.1 246.8" stroke="#1da9e0"/>
<path d="M98.3 265.2L95.1 246.8" stroke="#2b90f0"/>
<path d="M180 222.2L184.2 222.7L181 214.6L176.8 212.2z" fill="#fff"/>
<path d="M180 222.2L184.2 222.7" stroke="#30c5a1"/>
<path d="M180 222.2L176.8 212.2" stroke="#30c5a1"/>
<path d="M176.8 212.2L181 214.6" stroke="#3ac994"/>
<path d="M184.2 222.7L181 214.6" stroke="#27c2ac"/>
<path d="M67.9 234.5L72.1 231.3L68.9 224.8L64.7 228.4z" fill="#fff"/>
<path d="M67.9 234.5L72.1 231.3" stroke="#0dbdbc"/>
<path d="M67.9 234.5L64.7 228.4" stroke="#0dbdbc"/>
<path d="M64.7 228.4L68.9 224.8" stroke="#10beba"/>
<path d="M72.1 231.3L68.9 224.8" stroke="#0abdbd"/>
<path d="M153.8 148.6L158 155.2L154.8 140.4L150.7 132.3z" fill="#fff"/>
<path d="M153.8 148.6L158 155.2" stroke="#f6e028"/>
<path d="M153.8 148.6L150.7 132.3" stroke="#f6e028"/>
<path d="M150.7 132.3L154.8 140.4" stroke="#f7f41c"/>
<path d="M158 155.2L154.8 140.4" stroke="#feca33"/>
<path d="M127.7 233.7L131.8 186L128.6 185.5L124.5 228.3z" fill="#fff"/>
<path d="M127.7 233.7L131.8 186" stroke="#10beba"/>
<path d="M127.7 233.7L124.5 228.3" stroke="#10beba"/>
<path d="M124.5 228.3L128.6 185.5" stroke="#10beba"/>
<path d="M131.8 186L128.6 185.5" stroke="#b1c635"/>
<path d="M101.5 286.5L105.6 282L102.4 260.8L98.3 265.2z" fill="#fff"/>
<path d="M101.5 286.5L105.6 282" stroke="#3974fe"/>
<path d="M101.5 286.5L98.3 265.2" stroke="#3974fe"/>
<path d="M98.3 265.2L102.4 260.8" stroke="#2b90f0"/>
<path d="M105.6 282L102.4 260.8" stroke="#3876fe"/>
<path d="M187.4 230.3L191.5 228L188.3 221.5L184.2 222.7z" fill="#fff"/>
<path d="M187.4 230.3L191.5 228" stroke="#22c1af"/>
<path d="M187.4 230.3L184.2 222.7" stroke="#22c1af"/>
<path d="M184.2 222.7L188.3 221.5" stroke="#27c2ac"/>
<path d="M191.5 228L188.3 221.5" stroke="#1ac0b5"/>
<path d="M75.3 238.5L79.4 236.8L76.2 228.5L72.1 231.3z" fill="#fff"/>
<path d="M75.3 238.5L79.4 236.8" stroke="#03bbc2"/>
<path d="M75.3 238.5L72.1 231.3" stroke="#03bbc2"/>
<path d="M72.1 231.3L76.2 228.5" stroke="#0abdbd"/>
<path d="M79.4 236.8L76.2 228.5" stroke="#01b9c7"/>
<path d="M161.2 174.1L165.3 183.7L162.2 167.9L158 155.2z" fill="#fff"/>
<path d="M161.2 174.1L165.3 183.7" stroke="#ecba33"/>
<path d="M161.2 174.1L158 155.2" stroke="#ecba33"/>
<path d="M158 155.2L162.2 167.9" stroke="#feca33"/>
<path d="M165.3 183.7L162.2 167.9" stroke="#bec32e"/>
<path d="M135 189.6L139.2 150.4L136 148.2L131.8 186z" fill="#fff"/>
<path d="M135 189.6L139.2 150.4" stroke="#b8c431"/>
<path d="M135 189.6L131.8 186" stroke="#b8c431"/>
<path d="M131.8 186L136 148.2" stroke="#b1c635"/>
<path d="M139.2 150.4L136 148.2" stroke="#f9d62d"/>
<path d="M108.8 304.2L113 287.2L109.8 268.1L105.6 282z" fill="#fff"/>
<path d="M108.8 304.2L113 287.2" stroke="#4756f7"/>
<path d="M108.8 304.2L105.6 282" stroke="#4756f7"/>
<path d="M105.6 282L109.8 268.1" stroke="#3876fe"/>
<path d="M113 287.2L109.8 268.1" stroke="#406dfe"/>
<path d="M82.6 246.7L86.8 247.4L83.6 235.6L79.4 236.8z" fill="#fff"/>
<path d="M82.6 246.7L86.8 247.4" stroke="#08b4d1"/>
<path d="M82.6 246.7L79.4 236.8" stroke="#08b4d1"/>
<path d="M79.4 236.8L83.6 235.6" stroke="#01b9c7"/>
<path d="M86.8 247.4L83.6 235.6" stroke="#15afd9"/>
<path d="M168.5 200.5L172.7 207.2L169.5 193.8L165.3 183.7z" fill="#fff"/>
<path d="M168.5 200.5L172.7 207.2" stroke="#8bcb51"/>
<path d="M168.5 200.5L165.3 183.7" stroke="#8bcb51"/>
<path d="M165.3 183.7L169.5 193.8" stroke="#bec32e"/>
<path d="M172.7 207.2L169.5 193.8" stroke="#5acc77"/>
<path d="M142.4 159L146.5 137.2L143.3 127.9L139.2 150.4z" fill="#fff"/>
<path d="M142.4 159L146.5 137.2" stroke="#fcd030"/>
<path d="M142.4 159L139.2 150.4" stroke="#fcd030"/>
<path d="M139.2 150.4L143.3 127.9" stroke="#f9d62d"/>
<path d="M146.5 137.2L143.3 127.9" stroke="#f7f41c"/>
<path d="M116.2 305.1L120.3 271L117.1 258.6L113 287.2z" fill="#fff"/>
<path d="M116.2 305.1L120.3 271" stroke="#4756f7"/>
<path d="M116.2 305.1L113 287.2" stroke="#4756f7"/>
<path d="M113 287.2L117.1 258.6" stroke="#406dfe"/>
<path d="M120.3 271L117.1 258.6" stroke="#2c8ef2"/>
<path d="M90 261.6L94.1 264.7L90.9 247.9L86.8 247.4z" fill="#fff"/>
<path d="M90 261.6L94.1 264.7" stroke="#21a3e3"/>
<path d="M90 261.6L86.8 247.4" stroke="#21a3e3"/>
<path d="M86.8 247.4L90.9 247.9" stroke="#15afd9"/>
<path d="M94.1 264.7L90.9 247.9" stroke="#2798ea"/>
<path d="M175.9 220L180 222.2L176.8 212.2L172.7 207.2z" fill="#fff"/>
<path d="M175.9 220L180 222.2" stroke="#40ca8d"/>
<path d="M175.9 220L172.7 207.2" stroke="#40ca8d"/>
<path d="M172.7 207.2L176.8 212.2" stroke="#5acc77"/>
<path d="M180 222.2L176.8 212.2" stroke="#30c5a1"/>
<path d="M63.8 238L67.9 234.5L64.7 228.4L60.6 232.2z" fill="#fff"/>
<path d="M63.8 238L67.9 234.5" stroke="#10beba"/>
<path d="M63.8 238L60.6 232.2" stroke="#10beba"/>
<path d="M60.6 232.2L64.7 228.4" stroke="#10beba"/>
<path d="M67.9 234.5L64.7 228.4" stroke="#0dbdbc"/>
<path d="M149.7 153.4L153.8 148.6L150.7 132.3L146.5 137.2z" fill="#fff"/>
<path d="M149.7 153.4L153.8 148.6" stroke="#f6de29"/>
<path d="M149.7 153.4L146.5 137.2" stroke="#f6de29"/>
<path d="M146.5 137.2L150.7 132.3" stroke="#f7f41c"/>
<path d="M153.8 148.6L150.7 132.3" stroke="#f6e028"/>
<path d="M123.5 281.4L127.7 233.7L124.5 228.3L120.3 271z" fill="#fff"/>
<path d="M123.5 281.4L127.7 233.7" stroke="#2e84f8"/>
<path d="M123.5 281.4L120.3 271" stroke="#2e84f8"/>
<path d="M120.3 271L124.5 228.3" stroke="#2c8ef2"/>
<path d="M127.7 233.7L124.5 228.3" stroke="#10beba"/>
<path d="M97.3 284L101.5 286.5L98.3 265.2L94.1 264.7z" fill="#fff"/>
<path d="M97.3 284L101.5 286.5" stroke="#2f82fa"/>
<path d="M97.3 284L94.1 264.7" stroke="#2f82fa"/>
<path d="M94.1 264.7L98.3 265.2" stroke="#2798ea"/>
<path d="M101.5 286.5L98.3 265.2" stroke="#3974fe"/>
<path d="M183.2 231.4L187.4 230.3L184.2 222.7L180 222.2z" fill="#fff"/>
<path d="M183.2 231.4L187.4 230.3" stroke="#29c3aa"/>
<path d="M183.2 231.4L180 222.2" stroke="#29c3aa"/>
<path d="M180 222.2L184.2 222.7" stroke="#30c5a1"/>
<path d="M187.4 230.3L184.2 222.7" stroke="#22c1af"/>
<path d="M71.1 240.9L75.3 238.5L72.1 231.3L67.9 234.5z" fill="#fff"/>
<path d="M71.1 240.9L75.3 238.5" stroke="#08bcbf"/>
<path d="M71.1 240.9L67.9 234.5" stroke="#08bcbf"/>
<path d="M67.9 234.5L72.1 231.3" stroke="#0dbdbc"/>
<path d="M75.3 238.5L72.1 231.3" stroke="#03bbc2"/>
<path d="M157 169.3L161.2 174.1L158 155.2L153.8 148.6z" fill="#fff"/>
<path d="M157 169.3L161.2 174.1" stroke="#fec13a"/>
<path d="M157 169.3L153.8 148.6" stroke="#fec13a"/>
<path d="M153.8 148.6L158 155.2" stroke="#f6e028"/>
<path d="M161.2 174.1L158 155.2" stroke="#ecba33"/>
<path d="M130.9 239.1L135 189.6L131.8 186L127.7 233.7z" fill="#fff"/>
<path d="M130.9 239.1L135 189.6" stroke="#10beba"/>
<path d="M130.9 239.1L127.7 233.7" stroke="#10beba"/>
<path d="M127.7 233.7L131.8 186" stroke="#10beba"/>
<path d="M135 189.6L131.8 186" stroke="#b8c431"/>
<path d="M104.7 308.9L108.8 304.2L105.6 282L101.5 286.5z" fill="#fff"/>
<path d="M104.7 308.9L108.8 304.2" stroke="#4854f6"/>
<path d="M104.7 308.9L101.5 286.5" stroke="#4854f6"/>
<path d="M101.5 286.5L105.6 282" stroke="#3974fe"/>
<path d="M108.8 304.2L105.6 282" stroke="#4756f7"/>
<path d="M190.6 237.3L194.7 234.3L191.5 228L187.4 230.3z" fill="#fff"/>
<path d="M190.6 237.3L194.7 234.3" stroke="#1dc0b3"/>
<path d="M190.6 237.3L187.4 230.3" stroke="#1dc0b3"/>
<path d="M187.4 230.3L191.5 228" stroke="#22c1af"/>
<path d="M194.7 234.3L191.5 228" stroke="#17bfb6"/>
<path d="M78.5 246.8L82.6 246.7L79.4 236.8L75.3 238.5z" fill="#fff"/>
<path d="M78.5 246.8L82.6 246.7" stroke="#01b9c7"/>
<path d="M78.5 246.8L75.3 238.5" stroke="#01b9c7"/>
<path d="M75.3 238.5L79.4 236.8" stroke="#03bbc2"/>
<path d="M82.6 246.7L79.4 236.8" stroke="#08b4d1"/>
<path d="M164.4 194.2L168.5 200.5L165.3 183.7L161.2 174.1z" fill="#fff"/>
<path d="M164.4 194.2L168.5 200.5" stroke="#b8c431"/>
<path d="M164.4 194.2L161.2 174.1" stroke="#b8c431"/>
<path d="M161.2 174.1L165.3 183.7" stroke="#ecba33"/>
<path d="M168.5 200.5L165.3 183.7" stroke="#8bcb51"/>
<path d="M138.2 196.8L142.4 159L139.2 150.4L135 189.6z" fill="#fff"/>
<path d="M138.2 196.8L142.4 159" stroke="#b1c635"/>
<path d="M138.2 196.8L135 189.6" stroke="#b1c635"/>
<path d="M135 189.6L139.2 150.4" stroke="#b8c431"/>
<path d="M142.4 159L139.2 150.4" stroke="#fcd030"/>
<path d="M112 324.8L116.2 305.1L113 287.2L108.8 304.2z" fill="#fff"/>
<path d="M112 324.8L116.2 305.1" stroke="#463adb"/>
<path d="M112 324.8L108.8 304.2" stroke="#463adb"/>
<path d="M108.8 304.2L113 287.2" stroke="#4756f7"/>
<path d="M116.2 305.1L113 287.2" stroke="#4756f7"/>
<path d="M85.8 258.2L90 261.6L86.8 247.4L82.6 246.7z" fill="#fff"/>
<path d="M85.8 258.2L90 261.6" stroke="#19addb"/>
<path d="M85.8 258.2L82.6 246.7" stroke="#19addb"/>
<path d="M82.6 246.7L86.8 247.4" stroke="#08b4d1"/>
<path d="M90 261.6L86.8 247.4" stroke="#21a3e3"/>
<path d="M171.7 216.6L175.9 220L172.7 207.2L168.5 200.5z" fill="#fff"/>
<path d="M171.7 216.6L175.9 220" stroke="#5acc77"/>
<path d="M171.7 216.6L168.5 200.5" stroke="#5acc77"/>
<path d="M168.5 200.5L172.7 207.2" stroke="#8bcb51"/>
<path d="M175.9 220L172.7 207.2" stroke="#40ca8d"/>
<path d="M145.5 173.1L149.7 153.4L146.5 137.2L142.4 159z" fill="#fff"/>
<path d="M145.5 173.1L149.7 153.4" stroke="#fec03b"/>
<path d="M145.5 173.1L142.4 159" stroke="#fec03b"/>
<path d="M142.4 159L146.5 137.2" stroke="#fcd030"/>
<path d="M149.7 153.4L146.5 137.2" stroke="#f6de29"/>
<path d="M119.4 319.2L123.5 281.4L120.3 271L116.2 305.1z" fill="#fff"/>
<path d="M119.4 319.2L123.5 281.4" stroke="#4746eb"/>
<path d="M119.4 319.2L116.2 305.1" stroke="#4746eb"/>
<path d="M116.2 305.1L120.3 271" stroke="#4756f7"/>
<path d="M123.5 281.4L120.3 271" stroke="#2e84f8"/>
<path d="M93.2 277.7L97.3 284L94.1 264.7L90 261.6z" fill="#fff"/>
<path d="M93.2 277.7L97.3 284" stroke="#2a93ee"/>
<path d="M93.2 277.7L90 261.6" stroke="#2a93ee"/>
<path d="M90 261.6L94.1 264.7" stroke="#21a3e3"/>
<path d="M97.3 284L94.1 264.7" stroke="#2f82fa"/>
<path d="M179.1 231.5L183.2 231.4L180 222.2L175.9 220z" fill="#fff"/>
<path d="M179.1 231.5L183.2 231.4" stroke="#32c69f"/>
<path d="M179.1 231.5L175.9 220" stroke="#32c69f"/>
<path d="M175.9 220L180 222.2" stroke="#40ca8d"/>
<path d="M183.2 231.4L180 222.2" stroke="#29c3aa"/>
<path d="M67 243.9L71.1 240.9L67.9 234.5L63.8 238z" fill="#fff"/>
<path d="M67 243.9L71.1 240.9" stroke="#0dbdbc"/>
<path d="M67 243.9L63.8 238" stroke="#0dbdbc"/>
<path d="M63.8 238L67.9 234.5" stroke="#10beba"/>
<path d="M71.1 240.9L67.9 234.5" stroke="#08bcbf"/>
<path d="M152.9 174L157 169.3L153.8 148.6L149.7 153.4z" fill="#fff"/>
<path d="M152.9 174L157 169.3" stroke="#fec03b"/>
<path d="M152.9 174L149.7 153.4" stroke="#fec03b"/>
<path d="M149.7 153.4L153.8 148.6" stroke="#f6de29"/>
<path d="M157 169.3L153.8 148.6" stroke="#fec13a"/>
<path d="M126.7 288.6L130.9 239.1L127.7 233.7L123.5 281.4z" fill="#fff"/>
<path d="M126.7 288.6L130.9 239.1" stroke="#2f82fa"/>
<path d="M126.7 288.6L123.5 281.4" stroke="#2f82fa"/>
<path d="M123.5 281.4L127.7 233.7" stroke="#2e84f8"/>
<path d="M130.9 239.1L127.7 233.7" stroke="#10beba"/>
<path d="M100.5 304.1L104.7 308.9L101.5 286.5L97.3 284z" fill="#fff"/>
<path d="M100.5 304.1L104.7 308.9" stroke="#4465fd"/>
<path d="M100.5 304.1L97.3 284" stroke="#4465fd"/>
<path d="M97.3 284L101.5 286.5" stroke="#2f82fa"/>
<path d="M104.7 308.9L101.5 286.5" stroke="#4854f6"/>
<path d="M186.4 239.7L190.6 237.3L187.4 230.3L183.2 231.4z" fill="#fff"/>
<path d="M186.4 239.7L190.6 237.3" stroke="#22c1af"/>
<path d="M186.4 239.7L183.2 231.4" stroke="#22c1af"/>
<path d="M183.2 231.4L187.4 230.3" stroke="#29c3aa"/>
<path d="M190.6 237.3L187.4 230.3" stroke="#1dc0b3"/>
<path d="M74.3 247.9L78.5 246.8L75.3 238.5L71.1 240.9z" fill="#fff"/>
<path d="M74.3 247.9L78.5 246.8" stroke="#03bbc2"/>
<path d="M74.3 247.9L71.1 240.9" stroke="#03bbc2"/>
<path d="M71.1 240.9L75.3 238.5" stroke="#08bcbf"/>
<path d="M78.5 246.8L75.3 238.5" stroke="#01b9c7"/>
<path d="M160.2 191.7L164.4 194.2L161.2 174.1L157 169.3z" fill="#fff"/>
<path d="M160.2 191.7L164.4 194.2" stroke="#d3bf27"/>
<path d="M160.2 191.7L157 169.3" stroke="#d3bf27"/>
<path d="M157 169.3L161.2 174.1" stroke="#fec13a"/>
<path d="M164.4 194.2L161.2 174.1" stroke="#b8c431"/>
<path d="M134 244.5L138.2 196.8L135 189.6L130.9 239.1z" fill="#fff"/>
<path d="M134 244.5L138.2 196.8" stroke="#10beba"/>
<path d="M134 244.5L130.9 239.1" stroke="#10beba"/>
<path d="M130.9 239.1L135 189.6" stroke="#10beba"/>
<path d="M138.2 196.8L135 189.6" stroke="#b1c635"/>
<path d="M107.9 329.6L112 324.8L108.8 304.2L104.7 308.9z" fill="#fff"/>
<path d="M107.9 329.6L112 324.8" stroke="#4639d9"/>
<path d="M107.9 329.6L104.7 308.9" stroke="#4639d9"/>
<path d="M104.7 308.9L108.8 304.2" stroke="#4854f6"/>
<path d="M112 324.8L108.8 304.2" stroke="#463adb"/>
<path d="M193.8 243.7L197.9 240.2L194.7 234.3L190.6 237.3z" fill="#fff"/>
<path d="M193.8 243.7L197.9 240.2" stroke="#17bfb6"/>
<path d="M193.8 243.7L190.6 237.3" stroke="#17bfb6"/>
<path d="M190.6 237.3L194.7 234.3" stroke="#1dc0b3"/>
<path d="M197.9 240.2L194.7 234.3" stroke="#13beb8"/>
<path d="M81.7 256L85.8 258.2L82.6 246.7L78.5 246.8z" fill="#fff"/>
<path d="M81.7 256L85.8 258.2" stroke="#06b5cf"/>
<path d="M81.7 256L78.5 246.8" stroke="#06b5cf"/>
<path d="M78.5 246.8L82.6 246.7" stroke="#01b9c7"/>
<path d="M85.8 258.2L82.6 246.7" stroke="#19addb"/>
<path d="M167.6 213.5L171.7 216.6L168.5 200.5L164.4 194.2z" fill="#fff"/>
<path d="M167.6 213.5L171.7 216.6" stroke="#7dcc5b"/>
<path d="M167.6 213.5L164.4 194.2" stroke="#7dcc5b"/>
<path d="M164.4 194.2L168.5 200.5" stroke="#b8c431"/>
<path d="M171.7 216.6L168.5 200.5" stroke="#5acc77"/>
<path d="M141.4 207.2L145.5 173.1L142.4 159L138.2 196.8z" fill="#fff"/>
<path d="M141.4 207.2L145.5 173.1" stroke="#9ac946"/>
<path d="M141.4 207.2L138.2 196.8" stroke="#9ac946"/>
<path d="M138.2 196.8L142.4 159" stroke="#b1c635"/>
<path d="M145.5 173.1L142.4 159" stroke="#fec03b"/>
<path d="M115.2 341L119.4 319.2L116.2 305.1L112 324.8z" fill="#fff"/>
<path d="M115.2 341L119.4 319.2" stroke="#402bb7"/>
<path d="M115.2 341L112 324.8" stroke="#402bb7"/>
<path d="M112 324.8L116.2 305.1" stroke="#463adb"/>
<path d="M119.4 319.2L116.2 305.1" stroke="#4746eb"/>
<path d="M89 271L93.2 277.7L90 261.6L85.8 258.2z" fill="#fff"/>
<path d="M89 271L93.2 277.7" stroke="#21a3e3"/>
<path d="M89 271L85.8 258.2" stroke="#21a3e3"/>
<path d="M85.8 258.2L90 261.6" stroke="#19addb"/>
<path d="M93.2 277.7L90 261.6" stroke="#2a93ee"/>
<path d="M174.9 230.8L179.1 231.5L175.9 220L171.7 216.6z" fill="#fff"/>
<path d="M174.9 230.8L179.1 231.5" stroke="#3cc992"/>
<path d="M174.9 230.8L171.7 216.6" stroke="#3cc992"/>
<path d="M171.7 216.6L175.9 220" stroke="#5acc77"/>
<path d="M179.1 231.5L175.9 220" stroke="#32c69f"/>
<path d="M148.7 191L152.9 174L149.7 153.4L145.5 173.1z" fill="#fff"/>
<path d="M148.7 191L152.9 174" stroke="#e0bc2b"/>
<path d="M148.7 191L145.5 173.1" stroke="#e0bc2b"/>
<path d="M145.5 173.1L149.7 153.4" stroke="#fec03b"/>
<path d="M152.9 174L149.7 153.4" stroke="#fec03b"/>
<path d="M122.5 327.8L126.7 288.6L123.5 281.4L119.4 319.2z" fill="#fff"/>
<path d="M122.5 327.8L126.7 288.6" stroke="#4741e5"/>
<path d="M122.5 327.8L119.4 319.2" stroke="#4741e5"/>
<path d="M119.4 319.2L123.5 281.4" stroke="#4746eb"/>
<path d="M126.7 288.6L123.5 281.4" stroke="#2f82fa"/>
<path d="M96.3 294.5L100.5 304.1L97.3 284L93.2 277.7z" fill="#fff"/>
<path d="M96.3 294.5L100.5 304.1" stroke="#307ffb"/>
<path d="M96.3 294.5L93.2 277.7" stroke="#307ffb"/>
<path d="M93.2 277.7L97.3 284" stroke="#2a93ee"/>
<path d="M100.5 304.1L97.3 284" stroke="#4465fd"/>
<path d="M182.3 241.4L186.4 239.7L183.2 231.4L179.1 231.5z" fill="#fff"/>
<path d="M182.3 241.4L186.4 239.7" stroke="#29c3aa"/>
<path d="M182.3 241.4L179.1 231.5" stroke="#29c3aa"/>
<path d="M179.1 231.5L183.2 231.4" stroke="#32c69f"/>
<path d="M186.4 239.7L183.2 231.4" stroke="#22c1af"/>
<path d="M70.2 250.2L74.3 247.9L71.1 240.9L67 243.9z" fill="#fff"/>
<path d="M70.2 250.2L74.3 247.9" stroke="#0abdbd"/>
<path d="M70.2 250.2L67 243.9" stroke="#0abdbd"/>
<path d="M67 243.9L71.1 240.9" stroke="#0dbdbc"/>
<path d="M74.3 247.9L71.1 240.9" stroke="#03bbc2"/>
<path d="M156.1 196.2L160.2 191.7L157 169.3L152.9 174z" fill="#fff"/>
<path d="M156.1 196.2L160.2 191.7" stroke="#d0bf27"/>
<path d="M156.1 196.2L152.9 174" stroke="#d0bf27"/>
<path d="M152.9 174L157 169.3" stroke="#fec03b"/>
<path d="M160.2 191.7L157 169.3" stroke="#d3bf27"/>
<path d="M129.9 292.2L134 244.5L130.9 239.1L126.7 288.6z" fill="#fff"/>
<path d="M129.9 292.2L134 244.5" stroke="#2e84f8"/>
<path d="M129.9 292.2L126.7 288.6" stroke="#2e84f8"/>
<path d="M126.7 288.6L130.9 239.1" stroke="#2f82fa"/>
<path d="M134 244.5L130.9 239.1" stroke="#10beba"/>
<path d="M103.7 323L107.9 329.6L104.7 308.9L100.5 304.1z" fill="#fff"/>
<path d="M103.7 323L107.9 329.6" stroke="#484cf0"/>
<path d="M103.7 323L100.5 304.1" stroke="#484cf0"/>
<path d="M100.5 304.1L104.7 308.9" stroke="#4465fd"/>
<path d="M107.9 329.6L104.7 308.9" stroke="#4639d9"/>
<path d="M189.6 246.9L193.8 243.7L190.6 237.3L186.4 239.7z" fill="#fff"/>
<path d="M189.6 246.9L193.8 243.7" stroke="#1ac0b5"/>
<path d="M189.6 246.9L186.4 239.7" stroke="#1ac0b5"/>
<path d="M186.4 239.7L190.6 237.3" stroke="#22c1af"/>
<path d="M193.8 243.7L190.6 237.3" stroke="#17bfb6"/>
<path d="M77.5 255.5L81.7 256L78.5 246.8L74.3 247.9z" fill="#fff"/>
<path d="M77.5 255.5L81.7 256" stroke="#01b9c6"/>
<path d="M77.5 255.5L74.3 247.9" stroke="#01b9c6"/>
<path d="M74.3 247.9L78.5 246.8" stroke="#03bbc2"/>
<path d="M81.7 256L78.5 246.8" stroke="#06b5cf"/>
<path d="M163.4 213L167.6 213.5L164.4 194.2L160.2 191.7z" fill="#fff"/>
<path d="M163.4 213L167.6 213.5" stroke="#93ca4b"/>
<path d="M163.4 213L160.2 191.7" stroke="#93ca4b"/>
<path d="M160.2 191.7L164.4 194.2" stroke="#d3bf27"/>
<path d="M167.6 213.5L164.4 194.2" stroke="#7dcc5b"/>
<path d="M137.2 249.9L141.4 207.2L138.2 196.8L134 244.5z" fill="#fff"/>
<path d="M137.2 249.9L141.4 207.2" stroke="#10beba"/>
<path d="M137.2 249.9L134 244.5" stroke="#10beba"/>
<path d="M134 244.5L138.2 196.8" stroke="#10beba"/>
<path d="M141.4 207.2L138.2 196.8" stroke="#9ac946"/>
<path d="M111 345.9L115.2 341L112 324.8L107.9 329.6z" fill="#fff"/>
<path d="M111 345.9L115.2 341" stroke="#402bb7"/>
<path d="M111 345.9L107.9 329.6" stroke="#402bb7"/>
<path d="M107.9 329.6L112 324.8" stroke="#4639d9"/>
<path d="M115.2 341L112 324.8" stroke="#402bb7"/>
<path d="M197 249.8L201.1 246L197.9 240.2L193.8 243.7z" fill="#fff"/>
<path d="M197 249.8L201.1 246" stroke="#13beb8"/>
<path d="M197 249.8L193.8 243.7" stroke="#13beb8"/>
<path d="M193.8 243.7L197.9 240.2" stroke="#17bfb6"/>
<path d="M201.1 246L197.9 240.2" stroke="#13beb8"/>
<path d="M84.8 266L89 271L85.8 258.2L81.7 256z" fill="#fff"/>
<path d="M84.8 266L89 271" stroke="#14b0d8"/>
<path d="M84.8 266L81.7 256" stroke="#14b0d8"/>
<path d="M81.7 256L85.8 258.2" stroke="#06b5cf"/>
<path d="M89 271L85.8 258.2" stroke="#21a3e3"/>
<path d="M170.8 230.3L174.9 230.8L171.7 216.6L167.6 213.5z" fill="#fff"/>
<path d="M170.8 230.3L174.9 230.8" stroke="#4bcb84"/>
<path d="M170.8 230.3L167.6 213.5" stroke="#4bcb84"/>
<path d="M167.6 213.5L171.7 216.6" stroke="#7dcc5b"/>
<path d="M174.9 230.8L171.7 216.6" stroke="#3cc992"/>
<path d="M144.6 219.6L148.7 191L145.5 173.1L141.4 207.2z" fill="#fff"/>
<path d="M144.6 219.6L148.7 191" stroke="#79cc5e"/>
<path d="M144.6 219.6L141.4 207.2" stroke="#79cc5e"/>
<path d="M141.4 207.2L145.5 173.1" stroke="#9ac946"/>
<path d="M148.7 191L145.5 173.1" stroke="#e0bc2b"/>
<path d="M118.4 350.3L122.5 327.8L119.4 319.2L115.2 341z" fill="#fff"/>
<path d="M118.4 350.3L122.5 327.8" stroke="#3e26a8"/>
<path d="M118.4 350.3L115.2 341" stroke="#3e26a8"/>
<path d="M115.2 341L119.4 319.2" stroke="#402bb7"/>
<path d="M122.5 327.8L119.4 319.2" stroke="#4741e5"/>
<path d="M92.2 284.4L96.3 294.5L93.2 277.7L89 271z" fill="#fff"/>
<path d="M92.2 284.4L96.3 294.5" stroke="#2798ea"/>
<path d="M92.2 284.4L89 271" stroke="#2798ea"/>
<path d="M89 271L93.2 277.7" stroke="#21a3e3"/>
<path d="M96.3 294.5L93.2 277.7" stroke="#307ffb"/>
<path d="M178.1 242.6L182.3 241.4L179.1 231.5L174.9 230.8z" fill="#fff"/>
<path d="M178.1 242.6L182.3 241.4" stroke="#2fc5a3"/>
<path d="M178.1 242.6L174.9 230.8" stroke="#2fc5a3"/>
<path d="M174.9 230.8L179.1 231.5" stroke="#3cc992"/>
<path d="M182.3 241.4L179.1 231.5" stroke="#29c3aa"/>
<path d="M151.9 210.1L156.1 196.2L152.9 174L148.7 191z" fill="#fff"/>
<path d="M151.9 210.1L156.1 196.2" stroke="#abc739"/>
<path d="M151.9 210.1L148.7 191" stroke="#abc739"/>
<path d="M148.7 191L152.9 174" stroke="#e0bc2b"/>
<path d="M156.1 196.2L152.9 174" stroke="#d0bf27"/>
<path d="M125.7 330L129.9 292.2L126.7 288.6L122.5 327.8z" fill="#fff"/>
<path d="M125.7 330L129.9 292.2" stroke="#4746eb"/>
<path d="M125.7 330L122.5 327.8" stroke="#4746eb"/>
<path d="M122.5 327.8L126.7 288.6" stroke="#4741e5"/>
<path d="M129.9 292.2L126.7 288.6" stroke="#2e84f8"/>
<path d="M99.5 310.3L103.7 323L100.5 304.1L96.3 294.5z" fill="#fff"/>
<path d="M99.5 310.3L103.7 323" stroke="#416bfe"/>
<path d="M99.5 310.3L96.3 294.5" stroke="#416bfe"/>
<path d="M96.3 294.5L100.5 304.1" stroke="#307ffb"/>
<path d="M103.7 323L100.5 304.1" stroke="#484cf0"/>
<path d="M185.5 249.7L189.6 246.9L186.4 239.7L182.3 241.4z" fill="#fff"/>
<path d="M185.5 249.7L189.6 246.9" stroke="#20c1b1"/>
<path d="M185.5 249.7L182.3 241.4" stroke="#20c1b1"/>
<path d="M182.3 241.4L186.4 239.7" stroke="#29c3aa"/>
<path d="M189.6 246.9L186.4 239.7" stroke="#1ac0b5"/>
<path d="M73.4 256.7L77.5 255.5L74.3 247.9L70.2 250.2z" fill="#fff"/>
<path d="M73.4 256.7L77.5 255.5" stroke="#05bbc1"/>
<path d="M73.4 256.7L70.2 250.2" stroke="#05bbc1"/>
<path d="M70.2 250.2L74.3 247.9" stroke="#0abdbd"/>
<path d="M77.5 255.5L74.3 247.9" stroke="#01b9c6"/>
<path d="M159.3 217.4L163.4 213L160.2 191.7L156.1 196.2z" fill="#fff"/>
<path d="M159.3 217.4L163.4 213" stroke="#8fcb4e"/>
<path d="M159.3 217.4L156.1 196.2" stroke="#8fcb4e"/>
<path d="M156.1 196.2L160.2 191.7" stroke="#d0bf27"/>
<path d="M163.4 213L160.2 191.7" stroke="#93ca4b"/>
<path d="M133.1 292.7L137.2 249.9L134 244.5L129.9 292.2z" fill="#fff"/>
<path d="M133.1 292.7L137.2 249.9" stroke="#2c8ef2"/>
<path d="M133.1 292.7L129.9 292.2" stroke="#2c8ef2"/>
<path d="M129.9 292.2L134 244.5" stroke="#2e84f8"/>
<path d="M137.2 249.9L134 244.5" stroke="#10beba"/>
<path d="M106.9 337.8L111 345.9L107.9 329.6L103.7 323z" fill="#fff"/>
<path d="M106.9 337.8L111 345.9" stroke="#463bde"/>
<path d="M106.9 337.8L103.7 323" stroke="#463bde"/>
<path d="M103.7 323L107.9 329.6" stroke="#484cf0"/>
<path d="M111 345.9L107.9 329.6" stroke="#402bb7"/>
<path d="M192.8 253.4L197 249.8L193.8 243.7L189.6 246.9z" fill="#fff"/>
<path d="M192.8 253.4L197 249.8" stroke="#17bfb6"/>
<path d="M192.8 253.4L189.6 246.9" stroke="#17bfb6"/>
<path d="M189.6 246.9L193.8 243.7" stroke="#1ac0b5"/>
<path d="M197 249.8L193.8 243.7" stroke="#13beb8"/>
<path d="M80.7 263.6L84.8 266L81.7 256L77.5 255.5z" fill="#fff"/>
<path d="M80.7 263.6L84.8 266" stroke="#03b7cc"/>
<path d="M80.7 263.6L77.5 255.5" stroke="#03b7cc"/>
<path d="M77.5 255.5L81.7 256" stroke="#01b9c6"/>
<path d="M84.8 266L81.7 256" stroke="#14b0d8"/>
<path d="M166.6 231.4L170.8 230.3L167.6 213.5L163.4 213z" fill="#fff"/>
<path d="M166.6 231.4L170.8 230.3" stroke="#57cc7a"/>
<path d="M166.6 231.4L163.4 213" stroke="#57cc7a"/>
<path d="M163.4 213L167.6 213.5" stroke="#93ca4b"/>
<path d="M170.8 230.3L167.6 213.5" stroke="#4bcb84"/>
<path d="M140.4 255.3L144.6 219.6L141.4 207.2L137.2 249.9z" fill="#fff"/>
<path d="M140.4 255.3L144.6 219.6" stroke="#10beba"/>
<path d="M140.4 255.3L137.2 249.9" stroke="#10beba"/>
<path d="M137.2 249.9L141.4 207.2" stroke="#10beba"/>
<path d="M144.6 219.6L141.4 207.2" stroke="#79cc5e"/>
<path d="M114.2 355.2L118.4 350.3L115.2 341L111 345.9z" fill="#fff"/>
<path d="M114.2 355.2L118.4 350.3" stroke="#3e26a8"/>
<path d="M114.2 355.2L111 345.9" stroke="#3e26a8"/>
<path d="M111 345.9L115.2 341" stroke="#402bb7"/>
<path d="M118.4 350.3L115.2 341" stroke="#3e26a8"/>
<path d="M200.1 255.5L204.3 251.5L201.1 246L197 249.8z" fill="#fff"/>
<path d="M200.1 255.5L204.3 251.5" stroke="#13beb8"/>
<path d="M200.1 255.5L197 249.8" stroke="#13beb8"/>
<path d="M197 249.8L201.1 246" stroke="#13beb8"/>
<path d="M204.3 251.5L201.1 246" stroke="#13beb8"/>
<path d="M88 276.4L92.2 284.4L89 271L84.8 266z" fill="#fff"/>
<path d="M88 276.4L92.2 284.4" stroke="#1da9e0"/>
<path d="M88 276.4L84.8 266" stroke="#1da9e0"/>
<path d="M84.8 266L89 271" stroke="#14b0d8"/>
<path d="M92.2 284.4L89 271" stroke="#2798ea"/>
<path d="M174 244L178.1 242.6L174.9 230.8L170.8 230.3z" fill="#fff"/>
<path d="M174 244L178.1 242.6" stroke="#33c79d"/>
<path d="M174 244L170.8 230.3" stroke="#33c79d"/>
<path d="M170.8 230.3L174.9 230.8" stroke="#4bcb84"/>
<path d="M178.1 242.6L174.9 230.8" stroke="#2fc5a3"/>
<path d="M147.8 232.7L151.9 210.1L148.7 191L144.6 219.6z" fill="#fff"/>
<path d="M147.8 232.7L151.9 210.1" stroke="#57cc7a"/>
<path d="M147.8 232.7L144.6 219.6" stroke="#57cc7a"/>
<path d="M144.6 219.6L148.7 191" stroke="#79cc5e"/>
<path d="M151.9 210.1L148.7 191" stroke="#abc739"/>
<path d="M121.6 351.8L125.7 330L122.5 327.8L118.4 350.3z" fill="#fff"/>
<path d="M121.6 351.8L125.7 330" stroke="#402bb7"/>
<path d="M121.6 351.8L118.4 350.3" stroke="#402bb7"/>
<path d="M118.4 350.3L122.5 327.8" stroke="#3e26a8"/>
<path d="M125.7 330L122.5 327.8" stroke="#4746eb"/>
<path d="M95.4 297L99.5 310.3L96.3 294.5L92.2 284.4z" fill="#fff"/>
<path d="M95.4 297L99.5 310.3" stroke="#2d8cf3"/>
<path d="M95.4 297L92.2 284.4" stroke="#2d8cf3"/>
<path d="M92.2 284.4L96.3 294.5" stroke="#2798ea"/>
<path d="M99.5 310.3L96.3 294.5" stroke="#416bfe"/>
<path d="M181.3 252.3L185.5 249.7L182.3 241.4L178.1 242.6z" fill="#fff"/>
<path d="M181.3 252.3L185.5 249.7" stroke="#25c2ae"/>
<path d="M181.3 252.3L178.1 242.6" stroke="#25c2ae"/>
<path d="M178.1 242.6L182.3 241.4" stroke="#2fc5a3"/>
<path d="M185.5 249.7L182.3 241.4" stroke="#20c1b1"/>
<path d="M155.1 228.3L159.3 217.4L156.1 196.2L151.9 210.1z" fill="#fff"/>
<path d="M155.1 228.3L159.3 217.4" stroke="#72cd64"/>
<path d="M155.1 228.3L151.9 210.1" stroke="#72cd64"/>
<path d="M151.9 210.1L156.1 196.2" stroke="#abc739"/>
<path d="M159.3 217.4L156.1 196.2" stroke="#8fcb4e"/>
<path d="M128.9 326.7L133.1 292.7L129.9 292.2L125.7 330z" fill="#fff"/>
<path d="M128.9 326.7L133.1 292.7" stroke="#4756f7"/>
<path d="M128.9 326.7L125.7 330" stroke="#4756f7"/>
<path d="M125.7 330L129.9 292.2" stroke="#4746eb"/>
<path d="M133.1 292.7L129.9 292.2" stroke="#2c8ef2"/>
<path d="M102.7 323L106.9 337.8L103.7 323L99.5 310.3z" fill="#fff"/>
<path d="M102.7 323L106.9 337.8" stroke="#465efb"/>
<path d="M102.7 323L99.5 310.3" stroke="#465efb"/>
<path d="M99.5 310.3L103.7 323" stroke="#416bfe"/>
<path d="M106.9 337.8L103.7 323" stroke="#463bde"/>
<path d="M188.6 256.9L192.8 253.4L189.6 246.9L185.5 249.7z" fill="#fff"/>
<path d="M188.6 256.9L192.8 253.4" stroke="#1ac0b5"/>
<path d="M188.6 256.9L185.5 249.7" stroke="#1ac0b5"/>
<path d="M185.5 249.7L189.6 246.9" stroke="#20c1b1"/>
<path d="M192.8 253.4L189.6 246.9" stroke="#17bfb6"/>
<path d="M76.5 263.5L80.7 263.6L77.5 255.5L73.4 256.7z" fill="#fff"/>
<path d="M76.5 263.5L80.7 263.6" stroke="#03bbc2"/>
<path d="M76.5 263.5L73.4 256.7" stroke="#03bbc2"/>
<path d="M73.4 256.7L77.5 255.5" stroke="#05bbc1"/>
<path d="M80.7 263.6L77.5 255.5" stroke="#03b7cc"/>
<path d="M162.5 235.7L166.6 231.4L163.4 213L159.3 217.4z" fill="#fff"/>
<path d="M162.5 235.7L166.6 231.4" stroke="#57cc7a"/>
<path d="M162.5 235.7L159.3 217.4" stroke="#57cc7a"/>
<path d="M159.3 217.4L163.4 213" stroke="#8fcb4e"/>
<path d="M166.6 231.4L163.4 213" stroke="#57cc7a"/>
<path d="M136.3 291.1L140.4 255.3L137.2 249.9L133.1 292.7z" fill="#fff"/>
<path d="M136.3 291.1L140.4 255.3" stroke="#2699e9"/>
<path d="M136.3 291.1L133.1 292.7" stroke="#2699e9"/>
<path d="M133.1 292.7L137.2 249.9" stroke="#2c8ef2"/>
<path d="M140.4 255.3L137.2 249.9" stroke="#10beba"/>
<path d="M110.1 346.6L114.2 355.2L111 345.9L106.9 337.8z" fill="#fff"/>
<path d="M110.1 346.6L114.2 355.2" stroke="#4537d5"/>
<path d="M110.1 346.6L106.9 337.8" stroke="#4537d5"/>
<path d="M106.9 337.8L111 345.9" stroke="#463bde"/>
<path d="M114.2 355.2L111 345.9" stroke="#3e26a8"/>
<path d="M196 259.5L200.1 255.5L197 249.8L192.8 253.4z" fill="#fff"/>
<path d="M196 259.5L200.1 255.5" stroke="#13beb8"/>
<path d="M196 259.5L192.8 253.4" stroke="#13beb8"/>
<path d="M192.8 253.4L197 249.8" stroke="#17bfb6"/>
<path d="M200.1 255.5L197 249.8" stroke="#13beb8"/>
<path d="M83.9 271.8L88 276.4L84.8 266L80.7 263.6z" fill="#fff"/>
<path d="M83.9 271.8L88 276.4" stroke="#08b4d1"/>
<path d="M83.9 271.8L80.7 263.6" stroke="#08b4d1"/>
<path d="M80.7 263.6L84.8 266" stroke="#03b7cc"/>
<path d="M88 276.4L84.8 266" stroke="#1da9e0"/>
<path d="M169.8 246.4L174 244L170.8 230.3L166.6 231.4z" fill="#fff"/>
<path d="M169.8 246.4L174 244" stroke="#38c896"/>
<path d="M169.8 246.4L166.6 231.4" stroke="#38c896"/>
<path d="M166.6 231.4L170.8 230.3" stroke="#57cc7a"/>
<path d="M174 244L170.8 230.3" stroke="#33c79d"/>
<path d="M143.6 260.7L147.8 232.7L144.6 219.6L140.4 255.3z" fill="#fff"/>
<path d="M143.6 260.7L147.8 232.7" stroke="#10beba"/>
<path d="M143.6 260.7L140.4 255.3" stroke="#10beba"/>
<path d="M140.4 255.3L144.6 219.6" stroke="#10beba"/>
<path d="M147.8 232.7L144.6 219.6" stroke="#57cc7a"/>
<path d="M117.4 356.7L121.6 351.8L118.4 350.3L114.2 355.2z" fill="#fff"/>
<path d="M117.4 356.7L121.6 351.8" stroke="#402bb7"/>
<path d="M117.4 356.7L114.2 355.2" stroke="#402bb7"/>
<path d="M114.2 355.2L118.4 350.3" stroke="#3e26a8"/>
<path d="M121.6 351.8L118.4 350.3" stroke="#402bb7"/>
<path d="M91.2 286.3L95.4 297L92.2 284.4L88 276.4z" fill="#fff"/>
<path d="M91.2 286.3L95.4 297" stroke="#21a3e3"/>
<path d="M91.2 286.3L88 276.4" stroke="#21a3e3"/>
<path d="M88 276.4L92.2 284.4" stroke="#1da9e0"/>
<path d="M95.4 297L92.2 284.4" stroke="#2d8cf3"/>
<path d="M177.1 254.9L181.3 252.3L178.1 242.6L174 244z" fill="#fff"/>
<path d="M177.1 254.9L181.3 252.3" stroke="#29c3aa"/>
<path d="M177.1 254.9L174 244" stroke="#29c3aa"/>
<path d="M174 244L178.1 242.6" stroke="#33c79d"/>
<path d="M181.3 252.3L178.1 242.6" stroke="#25c2ae"/>
<path d="M151 245.3L155.1 228.3L151.9 210.1L147.8 232.7z" fill="#fff"/>
<path d="M151 245.3L155.1 228.3" stroke="#3eca90"/>
<path d="M151 245.3L147.8 232.7" stroke="#3eca90"/>
<path d="M147.8 232.7L151.9 210.1" stroke="#57cc7a"/>
<path d="M155.1 228.3L151.9 210.1" stroke="#72cd64"/>
<path d="M124.8 346.5L128.9 326.7L125.7 330L121.6 351.8z" fill="#fff"/>
<path d="M124.8 346.5L128.9 326.7" stroke="#463adb"/>
<path d="M124.8 346.5L121.6 351.8" stroke="#463adb"/>
<path d="M121.6 351.8L125.7 330" stroke="#402bb7"/>
<path d="M128.9 326.7L125.7 330" stroke="#4756f7"/>
<path d="M98.6 307.4L102.7 323L99.5 310.3L95.4 297z" fill="#fff"/>
<path d="M98.6 307.4L102.7 323" stroke="#2e83f9"/>
<path d="M98.6 307.4L95.4 297" stroke="#2e83f9"/>
<path d="M95.4 297L99.5 310.3" stroke="#2d8cf3"/>
<path d="M102.7 323L99.5 310.3" stroke="#465efb"/>
<path d="M184.5 260.3L188.6 256.9L185.5 249.7L181.3 252.3z" fill="#fff"/>
<path d="M184.5 260.3L188.6 256.9" stroke="#1dc0b3"/>
<path d="M184.5 260.3L181.3 252.3" stroke="#1dc0b3"/>
<path d="M181.3 252.3L185.5 249.7" stroke="#25c2ae"/>
<path d="M188.6 256.9L185.5 249.7" stroke="#1ac0b5"/>
<path d="M158.3 244.2L162.5 235.7L159.3 217.4L155.1 228.3z" fill="#fff"/>
<path d="M158.3 244.2L162.5 235.7" stroke="#45cb89"/>
<path d="M158.3 244.2L155.1 228.3" stroke="#45cb89"/>
<path d="M155.1 228.3L159.3 217.4" stroke="#72cd64"/>
<path d="M162.5 235.7L159.3 217.4" stroke="#57cc7a"/>
<path d="M132.1 319.7L136.3 291.1L133.1 292.7L128.9 326.7z" fill="#fff"/>
<path d="M132.1 319.7L136.3 291.1" stroke="#406dfe"/>
<path d="M132.1 319.7L128.9 326.7" stroke="#406dfe"/>
<path d="M128.9 326.7L133.1 292.7" stroke="#4756f7"/>
<path d="M136.3 291.1L133.1 292.7" stroke="#2699e9"/>
<path d="M105.9 331L110.1 346.6L106.9 337.8L102.7 323z" fill="#fff"/>
<path d="M105.9 331L110.1 346.6" stroke="#4759f8"/>
<path d="M105.9 331L102.7 323" stroke="#4759f8"/>
<path d="M102.7 323L106.9 337.8" stroke="#465efb"/>
<path d="M110.1 346.6L106.9 337.8" stroke="#4537d5"/>
<path d="M191.8 263.3L196 259.5L192.8 253.4L188.6 256.9z" fill="#fff"/>
<path d="M191.8 263.3L196 259.5" stroke="#17bfb6"/>
<path d="M191.8 263.3L188.6 256.9" stroke="#17bfb6"/>
<path d="M188.6 256.9L192.8 253.4" stroke="#1ac0b5"/>
<path d="M196 259.5L192.8 253.4" stroke="#13beb8"/>
<path d="M79.7 270.4L83.9 271.8L80.7 263.6L76.5 263.5z" fill="#fff"/>
<path d="M79.7 270.4L83.9 271.8" stroke="#01b9c6"/>
<path d="M79.7 270.4L76.5 263.5" stroke="#01b9c6"/>
<path d="M76.5 263.5L80.7 263.6" stroke="#03bbc2"/>
<path d="M83.9 271.8L80.7 263.6" stroke="#08b4d1"/>
<path d="M165.6 250.6L169.8 246.4L166.6 231.4L162.5 235.7z" fill="#fff"/>
<path d="M165.6 250.6L169.8 246.4" stroke="#36c899"/>
<path d="M165.6 250.6L162.5 235.7" stroke="#36c899"/>
<path d="M162.5 235.7L166.6 231.4" stroke="#57cc7a"/>
<path d="M169.8 246.4L166.6 231.4" stroke="#38c896"/>
<path d="M139.5 288.8L143.6 260.7L140.4 255.3L136.3 291.1z" fill="#fff"/>
<path d="M139.5 288.8L143.6 260.7" stroke="#20a5e3"/>
<path d="M139.5 288.8L136.3 291.1" stroke="#20a5e3"/>
<path d="M136.3 291.1L140.4 255.3" stroke="#2699e9"/>
<path d="M143.6 260.7L140.4 255.3" stroke="#10beba"/>
<path d="M113.3 348.6L117.4 356.7L114.2 355.2L110.1 346.6z" fill="#fff"/>
<path d="M113.3 348.6L117.4 356.7" stroke="#463bde"/>
<path d="M113.3 348.6L110.1 346.6" stroke="#463bde"/>
<path d="M110.1 346.6L114.2 355.2" stroke="#4537d5"/>
<path d="M117.4 356.7L114.2 355.2" stroke="#402bb7"/>
<path d="M87.1 279.8L91.2 286.3L88 276.4L83.9 271.8z" fill="#fff"/>
<path d="M87.1 279.8L91.2 286.3" stroke="#12b1d6"/>
<path d="M87.1 279.8L83.9 271.8" stroke="#12b1d6"/>
<path d="M83.9 271.8L88 276.4" stroke="#08b4d1"/>
<path d="M91.2 286.3L88 276.4" stroke="#21a3e3"/>
<path d="M173 258.1L177.1 254.9L174 244L169.8 246.4z" fill="#fff"/>
<path d="M173 258.1L177.1 254.9" stroke="#2bc3a8"/>
<path d="M173 258.1L169.8 246.4" stroke="#2bc3a8"/>
<path d="M169.8 246.4L174 244" stroke="#38c896"/>
<path d="M177.1 254.9L174 244" stroke="#29c3aa"/>
<path d="M146.8 266.2L151 245.3L147.8 232.7L143.6 260.7z" fill="#fff"/>
<path d="M146.8 266.2L151 245.3" stroke="#10beba"/>
<path d="M146.8 266.2L143.6 260.7" stroke="#10beba"/>
<path d="M143.6 260.7L147.8 232.7" stroke="#10beba"/>
<path d="M151 245.3L147.8 232.7" stroke="#3eca90"/>
<path d="M120.6 351.3L124.8 346.5L121.6 351.8L117.4 356.7z" fill="#fff"/>
<path d="M120.6 351.3L124.8 346.5" stroke="#4639d9"/>
<path d="M120.6 351.3L117.4 356.7" stroke="#4639d9"/>
<path d="M117.4 356.7L121.6 351.8" stroke="#402bb7"/>
<path d="M124.8 346.5L121.6 351.8" stroke="#463adb"/>
<path d="M94.4 294.9L98.6 307.4L95.4 297L91.2 286.3z" fill="#fff"/>
<path d="M94.4 294.9L98.6 307.4" stroke="#249ee6"/>
<path d="M94.4 294.9L91.2 286.3" stroke="#249ee6"/>
<path d="M91.2 286.3L95.4 297" stroke="#21a3e3"/>
<path d="M98.6 307.4L95.4 297" stroke="#2e83f9"/>
<path d="M180.3 263.6L184.5 260.3L181.3 252.3L177.1 254.9z" fill="#fff"/>
<path d="M180.3 263.6L184.5 260.3" stroke="#20c1b1"/>
<path d="M180.3 263.6L177.1 254.9" stroke="#20c1b1"/>
<path d="M177.1 254.9L181.3 252.3" stroke="#29c3aa"/>
<path d="M184.5 260.3L181.3 252.3" stroke="#1dc0b3"/>
<path d="M154.1 256.7L158.3 244.2L155.1 228.3L151 245.3z" fill="#fff"/>
<path d="M154.1 256.7L158.3 244.2" stroke="#30c5a1"/>
<path d="M154.1 256.7L151 245.3" stroke="#30c5a1"/>
<path d="M151 245.3L155.1 228.3" stroke="#3eca90"/>
<path d="M158.3 244.2L155.1 228.3" stroke="#45cb89"/>
<path d="M128 336.6L132.1 319.7L128.9 326.7L124.8 346.5z" fill="#fff"/>
<path d="M128 336.6L132.1 319.7" stroke="#4756f7"/>
<path d="M128 336.6L124.8 346.5" stroke="#4756f7"/>
<path d="M124.8 346.5L128.9 326.7" stroke="#463adb"/>
<path d="M132.1 319.7L128.9 326.7" stroke="#406dfe"/>
<path d="M101.8 314.7L105.9 331L102.7 323L98.6 307.4z" fill="#fff"/>
<path d="M101.8 314.7L105.9 331" stroke="#2f80fa"/>
<path d="M101.8 314.7L98.6 307.4" stroke="#2f80fa"/>
<path d="M98.6 307.4L102.7 323" stroke="#2e83f9"/>
<path d="M105.9 331L102.7 323" stroke="#4759f8"/>
<path d="M187.7 267.1L191.8 263.3L188.6 256.9L184.5 260.3z" fill="#fff"/>
<path d="M187.7 267.1L191.8 263.3" stroke="#17bfb6"/>
<path d="M187.7 267.1L184.5 260.3" stroke="#17bfb6"/>
<path d="M184.5 260.3L188.6 256.9" stroke="#1dc0b3"/>
<path d="M191.8 263.3L188.6 256.9" stroke="#17bfb6"/>
<path d="M161.5 257.3L165.6 250.6L162.5 235.7L158.3 244.2z" fill="#fff"/>
<path d="M161.5 257.3L165.6 250.6" stroke="#32c69f"/>
<path d="M161.5 257.3L158.3 244.2" stroke="#32c69f"/>
<path d="M158.3 244.2L162.5 235.7" stroke="#45cb89"/>
<path d="M165.6 250.6L162.5 235.7" stroke="#36c899"/>
<path d="M135.3 311.4L139.5 288.8L136.3 291.1L132.1 319.7z" fill="#fff"/>
<path d="M135.3 311.4L139.5 288.8" stroke="#2e87f7"/>
<path d="M135.3 311.4L132.1 319.7" stroke="#2e87f7"/>
<path d="M132.1 319.7L136.3 291.1" stroke="#406dfe"/>
<path d="M139.5 288.8L136.3 291.1" stroke="#20a5e3"/>
<path d="M109.1 333.8L113.3 348.6L110.1 346.6L105.9 331z" fill="#fff"/>
<path d="M109.1 333.8L113.3 348.6" stroke="#465efb"/>
<path d="M109.1 333.8L105.9 331" stroke="#465efb"/>
<path d="M105.9 331L110.1 346.6" stroke="#4759f8"/>
<path d="M113.3 348.6L110.1 346.6" stroke="#463bde"/>
<path d="M82.9 277.1L87.1 279.8L83.9 271.8L79.7 270.4z" fill="#fff"/>
<path d="M82.9 277.1L87.1 279.8" stroke="#01b8c9"/>
<path d="M82.9 277.1L79.7 270.4" stroke="#01b8c9"/>
<path d="M79.7 270.4L83.9 271.8" stroke="#01b9c6"/>
<path d="M87.1 279.8L83.9 271.8" stroke="#12b1d6"/>
<path d="M168.8 262.3L173 258.1L169.8 246.4L165.6 250.6z" fill="#fff"/>
<path d="M168.8 262.3L173 258.1" stroke="#2bc3a8"/>
<path d="M168.8 262.3L165.6 250.6" stroke="#2bc3a8"/>
<path d="M165.6 250.6L169.8 246.4" stroke="#36c899"/>
<path d="M173 258.1L169.8 246.4" stroke="#2bc3a8"/>
<path d="M142.6 287L146.8 266.2L143.6 260.7L139.5 288.8z" fill="#fff"/>
<path d="M142.6 287L146.8 266.2" stroke="#17aeda"/>
<path d="M142.6 287L139.5 288.8" stroke="#17aeda"/>
<path d="M139.5 288.8L143.6 260.7" stroke="#20a5e3"/>
<path d="M146.8 266.2L143.6 260.7" stroke="#10beba"/>
<path d="M116.5 344.6L120.6 351.3L117.4 356.7L113.3 348.6z" fill="#fff"/>
<path d="M116.5 344.6L120.6 351.3" stroke="#484cf0"/>
<path d="M116.5 344.6L113.3 348.6" stroke="#484cf0"/>
<path d="M113.3 348.6L117.4 356.7" stroke="#463bde"/>
<path d="M120.6 351.3L117.4 356.7" stroke="#4639d9"/>
<path d="M90.3 287L94.4 294.9L91.2 286.3L87.1 279.8z" fill="#fff"/>
<path d="M90.3 287L94.4 294.9" stroke="#15afd9"/>
<path d="M90.3 287L87.1 279.8" stroke="#15afd9"/>
<path d="M87.1 279.8L91.2 286.3" stroke="#12b1d6"/>
<path d="M94.4 294.9L91.2 286.3" stroke="#249ee6"/>
<path d="M176.2 267.3L180.3 263.6L177.1 254.9L173 258.1z" fill="#fff"/>
<path d="M176.2 267.3L180.3 263.6" stroke="#22c1af"/>
<path d="M176.2 267.3L173 258.1" stroke="#22c1af"/>
<path d="M173 258.1L177.1 254.9" stroke="#2bc3a8"/>
<path d="M180.3 263.6L177.1 254.9" stroke="#20c1b1"/>
<path d="M150 271.6L154.1 256.7L151 245.3L146.8 266.2z" fill="#fff"/>
<path d="M150 271.6L154.1 256.7" stroke="#10beba"/>
<path d="M150 271.6L146.8 266.2" stroke="#10beba"/>
<path d="M146.8 266.2L151 245.3" stroke="#10beba"/>
<path d="M154.1 256.7L151 245.3" stroke="#30c5a1"/>
<path d="M123.8 341.3L128 336.6L124.8 346.5L120.6 351.3z" fill="#fff"/>
<path d="M123.8 341.3L128 336.6" stroke="#4854f6"/>
<path d="M123.8 341.3L120.6 351.3" stroke="#4854f6"/>
<path d="M120.6 351.3L124.8 346.5" stroke="#4639d9"/>
<path d="M128 336.6L124.8 346.5" stroke="#4756f7"/>
<path d="M97.6 301.5L101.8 314.7L98.6 307.4L94.4 294.9z" fill="#fff"/>
<path d="M97.6 301.5L101.8 314.7" stroke="#259ce7"/>
<path d="M97.6 301.5L94.4 294.9" stroke="#259ce7"/>
<path d="M94.4 294.9L98.6 307.4" stroke="#249ee6"/>
<path d="M101.8 314.7L98.6 307.4" stroke="#2f80fa"/>
<path d="M183.5 270.9L187.7 267.1L184.5 260.3L180.3 263.6z" fill="#fff"/>
<path d="M183.5 270.9L187.7 267.1" stroke="#1ac0b5"/>
<path d="M183.5 270.9L180.3 263.6" stroke="#1ac0b5"/>
<path d="M180.3 263.6L184.5 260.3" stroke="#20c1b1"/>
<path d="M187.7 267.1L184.5 260.3" stroke="#17bfb6"/>
<path d="M157.3 266.4L161.5 257.3L158.3 244.2L154.1 256.7z" fill="#fff"/>
<path d="M157.3 266.4L161.5 257.3" stroke="#29c3aa"/>
<path d="M157.3 266.4L154.1 256.7" stroke="#29c3aa"/>
<path d="M154.1 256.7L158.3 244.2" stroke="#30c5a1"/>
<path d="M161.5 257.3L158.3 244.2" stroke="#32c69f"/>
<path d="M131.1 325.2L135.3 311.4L132.1 319.7L128 336.6z" fill="#fff"/>
<path d="M131.1 325.2L135.3 311.4" stroke="#3876fe"/>
<path d="M131.1 325.2L128 336.6" stroke="#3876fe"/>
<path d="M128 336.6L132.1 319.7" stroke="#4756f7"/>
<path d="M135.3 311.4L132.1 319.7" stroke="#2e87f7"/>
<path d="M105 318.2L109.1 333.8L105.9 331L101.8 314.7z" fill="#fff"/>
<path d="M105 318.2L109.1 333.8" stroke="#2e83f9"/>
<path d="M105 318.2L101.8 314.7" stroke="#2e83f9"/>
<path d="M101.8 314.7L105.9 331" stroke="#2f80fa"/>
<path d="M109.1 333.8L105.9 331" stroke="#465efb"/>
<path d="M164.7 267.9L168.8 262.3L165.6 250.6L161.5 257.3z" fill="#fff"/>
<path d="M164.7 267.9L168.8 262.3" stroke="#27c2ac"/>
<path d="M164.7 267.9L161.5 257.3" stroke="#27c2ac"/>
<path d="M161.5 257.3L165.6 250.6" stroke="#32c69f"/>
<path d="M168.8 262.3L165.6 250.6" stroke="#2bc3a8"/>
<path d="M138.5 304L142.6 287L139.5 288.8L135.3 311.4z" fill="#fff"/>
<path d="M138.5 304L142.6 287" stroke="#259be8"/>
<path d="M138.5 304L135.3 311.4" stroke="#259be8"/>
<path d="M135.3 311.4L139.5 288.8" stroke="#2e87f7"/>
<path d="M142.6 287L139.5 288.8" stroke="#17aeda"/>
<path d="M112.3 331.9L116.5 344.6L113.3 348.6L109.1 333.8z" fill="#fff"/>
<path d="M112.3 331.9L116.5 344.6" stroke="#416bfe"/>
<path d="M112.3 331.9L109.1 333.8" stroke="#416bfe"/>
<path d="M109.1 333.8L113.3 348.6" stroke="#465efb"/>
<path d="M116.5 344.6L113.3 348.6" stroke="#484cf0"/>
<path d="M86.1 283.5L90.3 287L87.1 279.8L82.9 277.1z" fill="#fff"/>
<path d="M86.1 283.5L90.3 287" stroke="#02b7ca"/>
<path d="M86.1 283.5L82.9 277.1" stroke="#02b7ca"/>
<path d="M82.9 277.1L87.1 279.8" stroke="#01b8c9"/>
<path d="M90.3 287L87.1 279.8" stroke="#15afd9"/>
<path d="M172 271.5L176.2 267.3L173 258.1L168.8 262.3z" fill="#fff"/>
<path d="M172 271.5L176.2 267.3" stroke="#20c1b1"/>
<path d="M172 271.5L168.8 262.3" stroke="#20c1b1"/>
<path d="M168.8 262.3L173 258.1" stroke="#2bc3a8"/>
<path d="M176.2 267.3L173 258.1" stroke="#22c1af"/>
<path d="M145.8 286.4L150 271.6L146.8 266.2L142.6 287z" fill="#fff"/>
<path d="M145.8 286.4L150 271.6" stroke="#06b5cf"/>
<path d="M145.8 286.4L142.6 287" stroke="#06b5cf"/>
<path d="M142.6 287L146.8 266.2" stroke="#17aeda"/>
<path d="M150 271.6L146.8 266.2" stroke="#10beba"/>
<path d="M119.6 336.6L123.8 341.3L120.6 351.3L116.5 344.6z" fill="#fff"/>
<path d="M119.6 336.6L123.8 341.3" stroke="#4465fd"/>
<path d="M119.6 336.6L116.5 344.6" stroke="#4465fd"/>
<path d="M116.5 344.6L120.6 351.3" stroke="#484cf0"/>
<path d="M123.8 341.3L120.6 351.3" stroke="#4854f6"/>
<path d="M93.5 293.1L97.6 301.5L94.4 294.9L90.3 287z" fill="#fff"/>
<path d="M93.5 293.1L97.6 301.5" stroke="#17aeda"/>
<path d="M93.5 293.1L90.3 287" stroke="#17aeda"/>
<path d="M90.3 287L94.4 294.9" stroke="#15afd9"/>
<path d="M97.6 301.5L94.4 294.9" stroke="#259ce7"/>
<path d="M179.4 274.8L183.5 270.9L180.3 263.6L176.2 267.3z" fill="#fff"/>
<path d="M179.4 274.8L183.5 270.9" stroke="#1ac0b5"/>
<path d="M179.4 274.8L176.2 267.3" stroke="#1ac0b5"/>
<path d="M176.2 267.3L180.3 263.6" stroke="#22c1af"/>
<path d="M183.5 270.9L180.3 263.6" stroke="#1ac0b5"/>
<path d="M153.2 277L157.3 266.4L154.1 256.7L150 271.6z" fill="#fff"/>
<path d="M153.2 277L157.3 266.4" stroke="#10beba"/>
<path d="M153.2 277L150 271.6" stroke="#10beba"/>
<path d="M150 271.6L154.1 256.7" stroke="#10beba"/>
<path d="M157.3 266.4L154.1 256.7" stroke="#29c3aa"/>
<path d="M127 329.8L131.1 325.2L128 336.6L123.8 341.3z" fill="#fff"/>
<path d="M127 329.8L131.1 325.2" stroke="#3974fe"/>
<path d="M127 329.8L123.8 341.3" stroke="#3974fe"/>
<path d="M123.8 341.3L128 336.6" stroke="#4854f6"/>
<path d="M131.1 325.2L128 336.6" stroke="#3876fe"/>
<path d="M100.8 305.7L105 318.2L101.8 314.7L97.6 301.5z" fill="#fff"/>
<path d="M100.8 305.7L105 318.2" stroke="#249ee6"/>
<path d="M100.8 305.7L97.6 301.5" stroke="#249ee6"/>
<path d="M97.6 301.5L101.8 314.7" stroke="#259ce7"/>
<path d="M105 318.2L101.8 314.7" stroke="#2e83f9"/>
<path d="M160.5 274.7L164.7 267.9L161.5 257.3L157.3 266.4z" fill="#fff"/>
<path d="M160.5 274.7L164.7 267.9" stroke="#20c1b1"/>
<path d="M160.5 274.7L157.3 266.4" stroke="#20c1b1"/>
<path d="M157.3 266.4L161.5 257.3" stroke="#29c3aa"/>
<path d="M164.7 267.9L161.5 257.3" stroke="#27c2ac"/>
<path d="M134.3 314.9L138.5 304L135.3 311.4L131.1 325.2z" fill="#fff"/>
<path d="M134.3 314.9L138.5 304" stroke="#2b91ef"/>
<path d="M134.3 314.9L131.1 325.2" stroke="#2b91ef"/>
<path d="M131.1 325.2L135.3 311.4" stroke="#3876fe"/>
<path d="M138.5 304L135.3 311.4" stroke="#259be8"/>
<path d="M108.1 318.6L112.3 331.9L109.1 333.8L105 318.2z" fill="#fff"/>
<path d="M108.1 318.6L112.3 331.9" stroke="#2d8cf3"/>
<path d="M108.1 318.6L105 318.2" stroke="#2d8cf3"/>
<path d="M105 318.2L109.1 333.8" stroke="#2e83f9"/>
<path d="M112.3 331.9L109.1 333.8" stroke="#416bfe"/>
<path d="M167.9 276.3L172 271.5L168.8 262.3L164.7 267.9z" fill="#fff"/>
<path d="M167.9 276.3L172 271.5" stroke="#20c1b1"/>
<path d="M167.9 276.3L164.7 267.9" stroke="#20c1b1"/>
<path d="M164.7 267.9L168.8 262.3" stroke="#27c2ac"/>
<path d="M172 271.5L168.8 262.3" stroke="#20c1b1"/>
<path d="M141.7 298.9L145.8 286.4L142.6 287L138.5 304z" fill="#fff"/>
<path d="M141.7 298.9L145.8 286.4" stroke="#1babde"/>
<path d="M141.7 298.9L138.5 304" stroke="#1babde"/>
<path d="M138.5 304L142.6 287" stroke="#259be8"/>
<path d="M145.8 286.4L142.6 287" stroke="#06b5cf"/>
<path d="M115.5 327L119.6 336.6L116.5 344.6L112.3 331.9z" fill="#fff"/>
<path d="M115.5 327L119.6 336.6" stroke="#307ffb"/>
<path d="M115.5 327L112.3 331.9" stroke="#307ffb"/>
<path d="M112.3 331.9L116.5 344.6" stroke="#416bfe"/>
<path d="M119.6 336.6L116.5 344.6" stroke="#4465fd"/>
<path d="M89.3 289.2L93.5 293.1L90.3 287L86.1 283.5z" fill="#fff"/>
<path d="M89.3 289.2L93.5 293.1" stroke="#03b7cc"/>
<path d="M89.3 289.2L86.1 283.5" stroke="#03b7cc"/>
<path d="M86.1 283.5L90.3 287" stroke="#02b7ca"/>
<path d="M93.5 293.1L90.3 287" stroke="#17aeda"/>
<path d="M175.2 278.9L179.4 274.8L176.2 267.3L172 271.5z" fill="#fff"/>
<path d="M175.2 278.9L179.4 274.8" stroke="#1ac0b5"/>
<path d="M175.2 278.9L172 271.5" stroke="#1ac0b5"/>
<path d="M172 271.5L176.2 267.3" stroke="#20c1b1"/>
<path d="M179.4 274.8L176.2 267.3" stroke="#1ac0b5"/>
<path d="M149 287.5L153.2 277L150 271.6L145.8 286.4z" fill="#fff"/>
<path d="M149 287.5L153.2 277" stroke="#01b9c7"/>
<path d="M149 287.5L145.8 286.4" stroke="#01b9c7"/>
<path d="M145.8 286.4L150 271.6" stroke="#06b5cf"/>
<path d="M153.2 277L150 271.6" stroke="#10beba"/>
<path d="M122.8 327.2L127 329.8L123.8 341.3L119.6 336.6z" fill="#fff"/>
<path d="M122.8 327.2L127 329.8" stroke="#2f82fa"/>
<path d="M122.8 327.2L119.6 336.6" stroke="#2f82fa"/>
<path d="M119.6 336.6L123.8 341.3" stroke="#4465fd"/>
<path d="M127 329.8L123.8 341.3" stroke="#3974fe"/>
<path d="M96.6 297.8L100.8 305.7L97.6 301.5L93.5 293.1z" fill="#fff"/>
<path d="M96.6 297.8L100.8 305.7" stroke="#15afd9"/>
<path d="M96.6 297.8L93.5 293.1" stroke="#15afd9"/>
<path d="M93.5 293.1L97.6 301.5" stroke="#17aeda"/>
<path d="M100.8 305.7L97.6 301.5" stroke="#249ee6"/>
<path d="M156.4 282.4L160.5 274.7L157.3 266.4L153.2 277z" fill="#fff"/>
<path d="M156.4 282.4L160.5 274.7" stroke="#10beba"/>
<path d="M156.4 282.4L153.2 277" stroke="#10beba"/>
<path d="M153.2 277L157.3 266.4" stroke="#10beba"/>
<path d="M160.5 274.7L157.3 266.4" stroke="#20c1b1"/>
<path d="M130.2 319.3L134.3 314.9L131.1 325.2L127 329.8z" fill="#fff"/>
<path d="M130.2 319.3L134.3 314.9" stroke="#2b90f0"/>
<path d="M130.2 319.3L127 329.8" stroke="#2b90f0"/>
<path d="M127 329.8L131.1 325.2" stroke="#3974fe"/>
<path d="M134.3 314.9L131.1 325.2" stroke="#2b91ef"/>
<path d="M104 308L108.1 318.6L105 318.2L100.8 305.7z" fill="#fff"/>
<path d="M104 308L108.1 318.6" stroke="#21a3e3"/>
<path d="M104 308L100.8 305.7" stroke="#21a3e3"/>
<path d="M100.8 305.7L105 318.2" stroke="#249ee6"/>
<path d="M108.1 318.6L105 318.2" stroke="#2d8cf3"/>
<path d="M163.7 281.9L167.9 276.3L164.7 267.9L160.5 274.7z" fill="#fff"/>
<path d="M163.7 281.9L167.9 276.3" stroke="#1ac0b5"/>
<path d="M163.7 281.9L160.5 274.7" stroke="#1ac0b5"/>
<path d="M160.5 274.7L164.7 267.9" stroke="#20c1b1"/>
<path d="M167.9 276.3L164.7 267.9" stroke="#20c1b1"/>
<path d="M137.5 307.4L141.7 298.9L138.5 304L134.3 314.9z" fill="#fff"/>
<path d="M137.5 307.4L141.7 298.9" stroke="#20a5e3"/>
<path d="M137.5 307.4L134.3 314.9" stroke="#20a5e3"/>
<path d="M134.3 314.9L138.5 304" stroke="#2b91ef"/>
<path d="M141.7 298.9L138.5 304" stroke="#1babde"/>
<path d="M111.3 316.8L115.5 327L112.3 331.9L108.1 318.6z" fill="#fff"/>
<path d="M111.3 316.8L115.5 327" stroke="#2798ea"/>
<path d="M111.3 316.8L108.1 318.6" stroke="#2798ea"/>
<path d="M108.1 318.6L112.3 331.9" stroke="#2d8cf3"/>
<path d="M115.5 327L112.3 331.9" stroke="#307ffb"/>
<path d="M171.1 283.4L175.2 278.9L172 271.5L167.9 276.3z" fill="#fff"/>
<path d="M171.1 283.4L175.2 278.9" stroke="#17bfb6"/>
<path d="M171.1 283.4L167.9 276.3" stroke="#17bfb6"/>
<path d="M167.9 276.3L172 271.5" stroke="#20c1b1"/>
<path d="M175.2 278.9L172 271.5" stroke="#1ac0b5"/>
<path d="M144.9 296.6L149 287.5L145.8 286.4L141.7 298.9z" fill="#fff"/>
<path d="M144.9 296.6L149 287.5" stroke="#08b4d1"/>
<path d="M144.9 296.6L141.7 298.9" stroke="#08b4d1"/>
<path d="M141.7 298.9L145.8 286.4" stroke="#1babde"/>
<path d="M149 287.5L145.8 286.4" stroke="#01b9c7"/>
<path d="M118.7 321L122.8 327.2L119.6 336.6L115.5 327z" fill="#fff"/>
<path d="M118.7 321L122.8 327.2" stroke="#2a93ee"/>
<path d="M118.7 321L115.5 327" stroke="#2a93ee"/>
<path d="M115.5 327L119.6 336.6" stroke="#307ffb"/>
<path d="M122.8 327.2L119.6 336.6" stroke="#2f82fa"/>
<path d="M92.5 294.3L96.6 297.8L93.5 293.1L89.3 289.2z" fill="#fff"/>
<path d="M92.5 294.3L96.6 297.8" stroke="#02b7ca"/>
<path d="M92.5 294.3L89.3 289.2" stroke="#02b7ca"/>
<path d="M89.3 289.2L93.5 293.1" stroke="#03b7cc"/>
<path d="M96.6 297.8L93.5 293.1" stroke="#15afd9"/>
<path d="M152.2 290L156.4 282.4L153.2 277L149 287.5z" fill="#fff"/>
<path d="M152.2 290L156.4 282.4" stroke="#05bbc1"/>
<path d="M152.2 290L149 287.5" stroke="#05bbc1"/>
<path d="M149 287.5L153.2 277" stroke="#01b9c7"/>
<path d="M156.4 282.4L153.2 277" stroke="#10beba"/>
<path d="M126 318.8L130.2 319.3L127 329.8L122.8 327.2z" fill="#fff"/>
<path d="M126 318.8L130.2 319.3" stroke="#2798ea"/>
<path d="M126 318.8L122.8 327.2" stroke="#2798ea"/>
<path d="M122.8 327.2L127 329.8" stroke="#2f82fa"/>
<path d="M130.2 319.3L127 329.8" stroke="#2b90f0"/>
<path d="M99.8 301.4L104 308L100.8 305.7L96.6 297.8z" fill="#fff"/>
<path d="M99.8 301.4L104 308" stroke="#12b1d6"/>
<path d="M99.8 301.4L96.6 297.8" stroke="#12b1d6"/>
<path d="M96.6 297.8L100.8 305.7" stroke="#15afd9"/>
<path d="M104 308L100.8 305.7" stroke="#21a3e3"/>
<path d="M159.6 287.8L163.7 281.9L160.5 274.7L156.4 282.4z" fill="#fff"/>
<path d="M159.6 287.8L163.7 281.9" stroke="#10beba"/>
<path d="M159.6 287.8L156.4 282.4" stroke="#10beba"/>
<path d="M156.4 282.4L160.5 274.7" stroke="#10beba"/>
<path d="M163.7 281.9L160.5 274.7" stroke="#1ac0b5"/>
<path d="M133.4 311.7L137.5 307.4L134.3 314.9L130.2 319.3z" fill="#fff"/>
<path d="M133.4 311.7L137.5 307.4" stroke="#20a5e3"/>
<path d="M133.4 311.7L130.2 319.3" stroke="#20a5e3"/>
<path d="M130.2 319.3L134.3 314.9" stroke="#2b90f0"/>
<path d="M137.5 307.4L134.3 314.9" stroke="#20a5e3"/>
<path d="M107.2 308.9L111.3 316.8L108.1 318.6L104 308z" fill="#fff"/>
<path d="M107.2 308.9L111.3 316.8" stroke="#1da9e0"/>
<path d="M107.2 308.9L104 308" stroke="#1da9e0"/>
<path d="M104 308L108.1 318.6" stroke="#21a3e3"/>
<path d="M111.3 316.8L108.1 318.6" stroke="#2798ea"/>
<path d="M166.9 288.2L171.1 283.4L167.9 276.3L163.7 281.9z" fill="#fff"/>
<path d="M166.9 288.2L171.1 283.4" stroke="#17bfb6"/>
<path d="M166.9 288.2L163.7 281.9" stroke="#17bfb6"/>
<path d="M163.7 281.9L167.9 276.3" stroke="#1ac0b5"/>
<path d="M171.1 283.4L167.9 276.3" stroke="#17bfb6"/>
<path d="M140.7 303.3L144.9 296.6L141.7 298.9L137.5 307.4z" fill="#fff"/>
<path d="M140.7 303.3L144.9 296.6" stroke="#10b2d5"/>
<path d="M140.7 303.3L137.5 307.4" stroke="#10b2d5"/>
<path d="M137.5 307.4L141.7 298.9" stroke="#20a5e3"/>
<path d="M144.9 296.6L141.7 298.9" stroke="#08b4d1"/>
<path d="M114.5 314.3L118.7 321L115.5 327L111.3 316.8z" fill="#fff"/>
<path d="M114.5 314.3L118.7 321" stroke="#21a3e3"/>
<path d="M114.5 314.3L111.3 316.8" stroke="#21a3e3"/>
<path d="M111.3 316.8L115.5 327" stroke="#2798ea"/>
<path d="M118.7 321L115.5 327" stroke="#2a93ee"/>
<path d="M148.1 296.9L152.2 290L149 287.5L144.9 296.6z" fill="#fff"/>
<path d="M148.1 296.9L152.2 290" stroke="#01b9c6"/>
<path d="M148.1 296.9L144.9 296.6" stroke="#01b9c6"/>
<path d="M144.9 296.6L149 287.5" stroke="#08b4d1"/>
<path d="M152.2 290L149 287.5" stroke="#05bbc1"/>
<path d="M121.9 315.7L126 318.8L122.8 327.2L118.7 321z" fill="#fff"/>
<path d="M121.9 315.7L126 318.8" stroke="#21a3e3"/>
<path d="M121.9 315.7L118.7 321" stroke="#21a3e3"/>
<path d="M118.7 321L122.8 327.2" stroke="#2a93ee"/>
<path d="M126 318.8L122.8 327.2" stroke="#2798ea"/>
<path d="M95.7 298.8L99.8 301.4L96.6 297.8L92.5 294.3z" fill="#fff"/>
<path d="M95.7 298.8L99.8 301.4" stroke="#01b8c9"/>
<path d="M95.7 298.8L92.5 294.3" stroke="#01b8c9"/>
<path d="M92.5 294.3L96.6 297.8" stroke="#02b7ca"/>
<path d="M99.8 301.4L96.6 297.8" stroke="#12b1d6"/>
<path d="M155.4 293.7L159.6 287.8L156.4 282.4L152.2 290z" fill="#fff"/>
<path d="M155.4 293.7L159.6 287.8" stroke="#0abdbd"/>
<path d="M155.4 293.7L152.2 290" stroke="#0abdbd"/>
<path d="M152.2 290L156.4 282.4" stroke="#05bbc1"/>
<path d="M159.6 287.8L156.4 282.4" stroke="#10beba"/>
<path d="M129.2 312.9L133.4 311.7L130.2 319.3L126 318.8z" fill="#fff"/>
<path d="M129.2 312.9L133.4 311.7" stroke="#1da9e0"/>
<path d="M129.2 312.9L126 318.8" stroke="#1da9e0"/>
<path d="M126 318.8L130.2 319.3" stroke="#2798ea"/>
<path d="M133.4 311.7L130.2 319.3" stroke="#20a5e3"/>
<path d="M103 304.3L107.2 308.9L104 308L99.8 301.4z" fill="#fff"/>
<path d="M103 304.3L107.2 308.9" stroke="#08b4d1"/>
<path d="M103 304.3L99.8 301.4" stroke="#08b4d1"/>
<path d="M99.8 301.4L104 308" stroke="#12b1d6"/>
<path d="M107.2 308.9L104 308" stroke="#1da9e0"/>
<path d="M162.8 293.2L166.9 288.2L163.7 281.9L159.6 287.8z" fill="#fff"/>
<path d="M162.8 293.2L166.9 288.2" stroke="#10beba"/>
<path d="M162.8 293.2L159.6 287.8" stroke="#10beba"/>
<path d="M159.6 287.8L163.7 281.9" stroke="#10beba"/>
<path d="M166.9 288.2L163.7 281.9" stroke="#17bfb6"/>
<path d="M136.6 307.6L140.7 303.3L137.5 307.4L133.4 311.7z" fill="#fff"/>
<path d="M136.6 307.6L140.7 303.3" stroke="#12b1d6"/>
<path d="M136.6 307.6L133.4 311.7" stroke="#12b1d6"/>
<path d="M133.4 311.7L137.5 307.4" stroke="#20a5e3"/>
<path d="M140.7 303.3L137.5 307.4" stroke="#10b2d5"/>
<path d="M110.4 309.3L114.5 314.3L111.3 316.8L107.2 308.9z" fill="#fff"/>
<path d="M110.4 309.3L114.5 314.3" stroke="#14b0d8"/>
<path d="M110.4 309.3L107.2 308.9" stroke="#14b0d8"/>
<path d="M107.2 308.9L111.3 316.8" stroke="#1da9e0"/>
<path d="M114.5 314.3L111.3 316.8" stroke="#21a3e3"/>
<path d="M143.9 302.5L148.1 296.9L144.9 296.6L140.7 303.3z" fill="#fff"/>
<path d="M143.9 302.5L148.1 296.9" stroke="#01b8c9"/>
<path d="M143.9 302.5L140.7 303.3" stroke="#01b8c9"/>
<path d="M140.7 303.3L144.9 296.6" stroke="#10b2d5"/>
<path d="M148.1 296.9L144.9 296.6" stroke="#01b9c6"/>
<path d="M117.7 312.3L121.9 315.7L118.7 321L114.5 314.3z" fill="#fff"/>
<path d="M117.7 312.3L121.9 315.7" stroke="#19addb"/>
<path d="M117.7 312.3L114.5 314.3" stroke="#19addb"/>
<path d="M114.5 314.3L118.7 321" stroke="#21a3e3"/>
<path d="M121.9 315.7L118.7 321" stroke="#21a3e3"/>
<path d="M151.2 299.2L155.4 293.7L152.2 290L148.1 296.9z" fill="#fff"/>
<path d="M151.2 299.2L155.4 293.7" stroke="#05bbc1"/>
<path d="M151.2 299.2L148.1 296.9" stroke="#05bbc1"/>
<path d="M148.1 296.9L152.2 290" stroke="#01b9c6"/>
<path d="M155.4 293.7L152.2 290" stroke="#0abdbd"/>
<path d="M125.1 312.3L129.2 312.9L126 318.8L121.9 315.7z" fill="#fff"/>
<path d="M125.1 312.3L129.2 312.9" stroke="#15afd9"/>
<path d="M125.1 312.3L121.9 315.7" stroke="#15afd9"/>
<path d="M121.9 315.7L126 318.8" stroke="#21a3e3"/>
<path d="M129.2 312.9L126 318.8" stroke="#1da9e0"/>
<path d="M98.9 302.9L103 304.3L99.8 301.4L95.7 298.8z" fill="#fff"/>
<path d="M98.9 302.9L103 304.3" stroke="#01b9c6"/>
<path d="M98.9 302.9L95.7 298.8" stroke="#01b9c6"/>
<path d="M95.7 298.8L99.8 301.4" stroke="#01b8c9"/>
<path d="M103 304.3L99.8 301.4" stroke="#08b4d1"/>
<path d="M158.6 298.2L162.8 293.2L159.6 287.8L155.4 293.7z" fill="#fff"/>
<path d="M158.6 298.2L162.8 293.2" stroke="#0dbdbc"/>
<path d="M158.6 298.2L155.4 293.7" stroke="#0dbdbc"/>
<path d="M155.4 293.7L159.6 287.8" stroke="#0abdbd"/>
<path d="M162.8 293.2L159.6 287.8" stroke="#10beba"/>
<path d="M132.4 309.9L136.6 307.6L133.4 311.7L129.2 312.9z" fill="#fff"/>
<path d="M132.4 309.9L136.6 307.6" stroke="#0bb3d2"/>
<path d="M132.4 309.9L129.2 312.9" stroke="#0bb3d2"/>
<path d="M129.2 312.9L133.4 311.7" stroke="#1da9e0"/>
<path d="M136.6 307.6L133.4 311.7" stroke="#12b1d6"/>
<path d="M106.2 306.9L110.4 309.3L107.2 308.9L103 304.3z" fill="#fff"/>
<path d="M106.2 306.9L110.4 309.3" stroke="#03b7cc"/>
<path d="M106.2 306.9L103 304.3" stroke="#03b7cc"/>
<path d="M103 304.3L107.2 308.9" stroke="#08b4d1"/>
<path d="M110.4 309.3L107.2 308.9" stroke="#14b0d8"/>
<path d="M139.8 306.7L143.9 302.5L140.7 303.3L136.6 307.6z" fill="#fff"/>
<path d="M139.8 306.7L143.9 302.5" stroke="#01b8c9"/>
<path d="M139.8 306.7L136.6 307.6" stroke="#01b8c9"/>
<path d="M136.6 307.6L140.7 303.3" stroke="#12b1d6"/>
<path d="M143.9 302.5L140.7 303.3" stroke="#01b8c9"/>
<path d="M113.6 310.1L117.7 312.3L114.5 314.3L110.4 309.3z" fill="#fff"/>
<path d="M113.6 310.1L117.7 312.3" stroke="#06b5cf"/>
<path d="M113.6 310.1L110.4 309.3" stroke="#06b5cf"/>
<path d="M110.4 309.3L114.5 314.3" stroke="#14b0d8"/>
<path d="M117.7 312.3L114.5 314.3" stroke="#19addb"/>
<path d="M147.1 304.1L151.2 299.2L148.1 296.9L143.9 302.5z" fill="#fff"/>
<path d="M147.1 304.1L151.2 299.2" stroke="#05bbc1"/>
<path d="M147.1 304.1L143.9 302.5" stroke="#05bbc1"/>
<path d="M143.9 302.5L148.1 296.9" stroke="#01b8c9"/>
<path d="M151.2 299.2L148.1 296.9" stroke="#05bbc1"/>
<path d="M120.9 311.6L125.1 312.3L121.9 315.7L117.7 312.3z" fill="#fff"/>
<path d="M120.9 311.6L125.1 312.3" stroke="#08b4d1"/>
<path d="M120.9 311.6L117.7 312.3" stroke="#08b4d1"/>
<path d="M117.7 312.3L121.9 315.7" stroke="#19addb"/>
<path d="M125.1 312.3L121.9 315.7" stroke="#15afd9"/>
<path d="M154.4 303L158.6 298.2L155.4 293.7L151.2 299.2z" fill="#fff"/>
<path d="M154.4 303L158.6 298.2" stroke="#0dbdbc"/>
<path d="M154.4 303L151.2 299.2" stroke="#0dbdbc"/>
<path d="M151.2 299.2L155.4 293.7" stroke="#05bbc1"/>
<path d="M158.6 298.2L155.4 293.7" stroke="#0dbdbc"/>
<path d="M128.2 311.3L132.4 309.9L129.2 312.9L125.1 312.3z" fill="#fff"/>
<path d="M128.2 311.3L132.4 309.9" stroke="#05b6ce"/>
<path d="M128.2 311.3L125.1 312.3" stroke="#05b6ce"/>
<path d="M125.1 312.3L129.2 312.9" stroke="#15afd9"/>
<path d="M132.4 309.9L129.2 312.9" stroke="#0bb3d2"/>
<path d="M102.1 306.8L106.2 306.9L103 304.3L98.9 302.9z" fill="#fff"/>
<path d="M102.1 306.8L106.2 306.9" stroke="#03bbc2"/>
<path d="M102.1 306.8L98.9 302.9" stroke="#03bbc2"/>
<path d="M98.9 302.9L103 304.3" stroke="#01b9c6"/>
<path d="M106.2 306.9L103 304.3" stroke="#03b7cc"/>
<path d="M135.6 309.8L139.8 306.7L136.6 307.6L132.4 309.9z" fill="#fff"/>
<path d="M135.6 309.8L139.8 306.7" stroke="#01b9c7"/>
<path d="M135.6 309.8L132.4 309.9" stroke="#01b9c7"/>
<path d="M132.4 309.9L136.6 307.6" stroke="#0bb3d2"/>
<path d="M139.8 306.7L136.6 307.6" stroke="#01b8c9"/>
<path d="M109.4 309.6L113.6 310.1L110.4 309.3L106.2 306.9z" fill="#fff"/>
<path d="M109.4 309.6L113.6 310.1" stroke="#01b9c6"/>
<path d="M109.4 309.6L106.2 306.9" stroke="#01b9c6"/>
<path d="M106.2 306.9L110.4 309.3" stroke="#03b7cc"/>
<path d="M113.6 310.1L110.4 309.3" stroke="#06b5cf"/>
<path d="M142.9 308.3L147.1 304.1L143.9 302.5L139.8 306.7z" fill="#fff"/>
<path d="M142.9 308.3L147.1 304.1" stroke="#03bbc2"/>
<path d="M142.9 308.3L139.8 306.7" stroke="#03bbc2"/>
<path d="M139.8 306.7L143.9 302.5" stroke="#01b8c9"/>
<path d="M147.1 304.1L143.9 302.5" stroke="#05bbc1"/>
<path d="M116.8 311.7L120.9 311.6L117.7 312.3L113.6 310.1z" fill="#fff"/>
<path d="M116.8 311.7L120.9 311.6" stroke="#01b9c7"/>
<path d="M116.8 311.7L113.6 310.1" stroke="#01b9c7"/>
<path d="M113.6 310.1L117.7 312.3" stroke="#06b5cf"/>
<path d="M120.9 311.6L117.7 312.3" stroke="#08b4d1"/>
<path d="M150.3 307.5L154.4 303L151.2 299.2L147.1 304.1z" fill="#fff"/>
<path d="M150.3 307.5L154.4 303" stroke="#0abdbd"/>
<path d="M150.3 307.5L147.1 304.1" stroke="#0abdbd"/>
<path d="M147.1 304.1L151.2 299.2" stroke="#05bbc1"/>
<path d="M154.4 303L151.2 299.2" stroke="#0dbdbc"/>
<path d="M124.1 312.6L128.2 311.3L125.1 312.3L120.9 311.6z" fill="#fff"/>
<path d="M124.1 312.6L128.2 311.3" stroke="#01b9c7"/>
<path d="M124.1 312.6L120.9 311.6" stroke="#01b9c7"/>
<path d="M120.9 311.6L125.1 312.3" stroke="#08b4d1"/>
<path d="M128.2 311.3L125.1 312.3" stroke="#05b6ce"/>
<path d="M131.4 312.5L135.6 309.8L132.4 309.9L128.2 311.3z" fill="#fff"/>
<path d="M131.4 312.5L135.6 309.8" stroke="#02bac4"/>
<path d="M131.4 312.5L128.2 311.3" stroke="#02bac4"/>
<path d="M128.2 311.3L132.4 309.9" stroke="#05b6ce"/>
<path d="M135.6 309.8L132.4 309.9" stroke="#01b9c7"/>
<path d="M105.2 310.8L109.4 309.6L106.2 306.9L102.1 306.8z" fill="#fff"/>
<path d="M105.2 310.8L109.4 309.6" stroke="#05bbc1"/>
<path d="M105.2 310.8L102.1 306.8" stroke="#05bbc1"/>
<path d="M102.1 306.8L106.2 306.9" stroke="#03bbc2"/>
<path d="M109.4 309.6L106.2 306.9" stroke="#01b9c6"/>
<path d="M138.8 311.9L142.9 308.3L139.8 306.7L135.6 309.8z" fill="#fff"/>
<path d="M138.8 311.9L142.9 308.3" stroke="#05bbc1"/>
<path d="M138.8 311.9L135.6 309.8" stroke="#05bbc1"/>
<path d="M135.6 309.8L139.8 306.7" stroke="#01b9c7"/>
<path d="M142.9 308.3L139.8 306.7" stroke="#03bbc2"/>
<path d="M112.6 312.8L116.8 311.7L113.6 310.1L109.4 309.6z" fill="#fff"/>
<path d="M112.6 312.8L116.8 311.7" stroke="#03bbc2"/>
<path d="M112.6 312.8L109.4 309.6" stroke="#03bbc2"/>
<path d="M109.4 309.6L113.6 310.1" stroke="#01b9c6"/>
<path d="M116.8 311.7L113.6 310.1" stroke="#01b9c7"/>
<path d="M146.1 311.6L150.3 307.5L147.1 304.1L142.9 308.3z" fill="#fff"/>
<path d="M146.1 311.6L150.3 307.5" stroke="#0abdbd"/>
<path d="M146.1 311.6L142.9 308.3" stroke="#0abdbd"/>
<path d="M142.9 308.3L147.1 304.1" stroke="#03bbc2"/>
<path d="M150.3 307.5L147.1 304.1" stroke="#0abdbd"/>
<path d="M119.9 314.3L124.1 312.6L120.9 311.6L116.8 311.7z" fill="#fff"/>
<path d="M119.9 314.3L124.1 312.6" stroke="#03bbc2"/>
<path d="M119.9 314.3L116.8 311.7" stroke="#03bbc2"/>
<path d="M116.8 311.7L120.9 311.6" stroke="#01b9c7"/>
<path d="M124.1 312.6L120.9 311.6" stroke="#01b9c7"/>
<path d="M127.3 315L131.4 312.5L128.2 311.3L124.1 312.6z" fill="#fff"/>
<path d="M127.3 315L131.4 312.5" stroke="#05bbc1"/>
<path d="M127.3 315L124.1 312.6" stroke="#05bbc1"/>
<path d="M124.1 312.6L128.2 311.3" stroke="#01b9c7"/>
<path d="M131.4 312.5L128.2 311.3" stroke="#02bac4"/>
<path d="M134.6 315.3L138.8 311.9L135.6 309.8L131.4 312.5z" fill="#fff"/>
<path d="M134.6 315.3L138.8 311.9" stroke="#08bcbf"/>
<path d="M134.6 315.3L131.4 312.5" stroke="#08bcbf"/>
<path d="M131.4 312.5L135.6 309.8" stroke="#02bac4"/>
<path d="M138.8 311.9L135.6 309.8" stroke="#05bbc1"/>
<path d="M108.4 315.1L112.6 312.8L109.4 309.6L105.2 310.8z" fill="#fff"/>
<path d="M108.4 315.1L112.6 312.8" stroke="#0abdbd"/>
<path d="M108.4 315.1L105.2 310.8" stroke="#0abdbd"/>
<path d="M105.2 310.8L109.4 309.6" stroke="#05bbc1"/>
<path d="M112.6 312.8L109.4 309.6" stroke="#03bbc2"/>
<path d="M142 315.5L146.1 311.6L142.9 308.3L138.8 311.9z" fill="#fff"/>
<path d="M142 315.5L146.1 311.6" stroke="#0abdbd"/>
<path d="M142 315.5L138.8 311.9" stroke="#0abdbd"/>
<path d="M138.8 311.9L142.9 308.3" stroke="#05bbc1"/>
<path d="M146.1 311.6L142.9 308.3" stroke="#0abdbd"/>
<path d="M115.8 316.7L119.9 314.3L116.8 311.7L112.6 312.8z" fill="#fff"/>
<path d="M115.8 316.7L119.9 314.3" stroke="#08bcbf"/>
<path d="M115.8 316.7L112.6 312.8" stroke="#08bcbf"/>
<path d="M112.6 312.8L116.8 311.7" stroke="#03bbc2"/>
<path d="M119.9 314.3L116.8 311.7" stroke="#03bbc2"/>
<path d="M123.1 317.8L127.3 315L124.1 312.6L119.9 314.3z" fill="#fff"/>
<path d="M123.1 317.8L127.3 315" stroke="#0abdbd"/>
<path d="M123.1 317.8L119.9 314.3" stroke="#0abdbd"/>
<path d="M119.9 314.3L124.1 312.6" stroke="#03bbc2"/>
<path d="M127.3 315L124.1 312.6" stroke="#05bbc1"/>
<path d="M130.5 318.7L134.6 315.3L131.4 312.5L127.3 315z" fill="#fff"/>
<path d="M130.5 318.7L134.6 315.3" stroke="#0abdbd"/>
<path d="M130.5 318.7L127.3 315" stroke="#0abdbd"/>
<path d="M127.3 315L131.4 312.5" stroke="#05bbc1"/>
<path d="M134.6 315.3L131.4 312.5" stroke="#08bcbf"/>
<path d="M137.8 319.3L142 315.5L138.8 311.9L134.6 315.3z" fill="#fff"/>
<path d="M137.8 319.3L142 315.5" stroke="#0dbdbc"/>
<path d="M137.8 319.3L134.6 315.3" stroke="#0dbdbc"/>
<path d="M134.6 315.3L138.8 311.9" stroke="#08bcbf"/>
<path d="M142 315.5L138.8 311.9" stroke="#0abdbd"/>
<path d="M111.6 319.7L115.8 316.7L112.6 312.8L108.4 315.1z" fill="#fff"/>
<path d="M111.6 319.7L115.8 316.7" stroke="#0dbdbc"/>
<path d="M111.6 319.7L108.4 315.1" stroke="#0dbdbc"/>
<path d="M108.4 315.1L112.6 312.8" stroke="#0abdbd"/>
<path d="M115.8 316.7L112.6 312.8" stroke="#08bcbf"/>
<path d="M119 321L123.1 317.8L119.9 314.3L115.8 316.7z" fill="#fff"/>
<path d="M119 321L123.1 317.8" stroke="#0dbdbc"/>
<path d="M119 321L115.8 316.7" stroke="#0dbdbc"/>
<path d="M115.8 316.7L119.9 314.3" stroke="#08bcbf"/>
<path d="M123.1 317.8L119.9 314.3" stroke="#0abdbd"/>
<path d="M126.3 322.1L130.5 318.7L127.3 315L123.1 317.8z" fill="#fff"/>
<path d="M126.3 322.1L130.5 318.7" stroke="#0dbdbc"/>
<path d="M126.3 322.1L123.1 317.8" stroke="#0dbdbc"/>
<path d="M123.1 317.8L127.3 315" stroke="#0abdbd"/>
<path d="M130.5 318.7L127.3 315" stroke="#0abdbd"/>
<path d="M133.7 323.1L137.8 319.3L134.6 315.3L130.5 318.7z" fill="#fff"/>
<path d="M133.7 323.1L137.8 319.3" stroke="#0dbdbc"/>
<path d="M133.7 323.1L130.5 318.7" stroke="#0dbdbc"/>
<path d="M130.5 318.7L134.6 315.3" stroke="#0abdbd"/>
<path d="M137.8 319.3L134.6 315.3" stroke="#0dbdbc"/>
<path d="M114.8 324.5L119 321L115.8 316.7L111.6 319.7z" fill="#fff"/>
<path d="M114.8 324.5L119 321" stroke="#10beba"/>
<path d="M114.8 324.5L111.6 319.7" stroke="#10beba"/>
<path d="M111.6 319.7L115.8 316.7" stroke="#0dbdbc"/>
<path d="M119 321L115.8 316.7" stroke="#0dbdbc"/>
<path d="M122.2 325.8L126.3 322.1L123.1 317.8L119 321z" fill="#fff"/>
<path d="M122.2 325.8L126.3 322.1" stroke="#10beba"/>
<path d="M122.2 325.8L119 321" stroke="#10beba"/>
<path d="M119 321L123.1 317.8" stroke="#0dbdbc"/>
<path d="M126.3 322.1L123.1 317.8" stroke="#0dbdbc"/>
<path d="M129.5 326.9L133.7 323.1L130.5 318.7L126.3 322.1z" fill="#fff"/>
<path d="M129.5 326.9L133.7 323.1" stroke="#10beba"/>
<path d="M129.5 326.9L126.3 322.1" stroke="#10beba"/>
<path d="M126.3 322.1L130.5 318.7" stroke="#0dbdbc"/>
<path d="M133.7 323.1L130.5 318.7" stroke="#0dbdbc"/>
<path d="M118 329.6L122.2 325.8L119 321L114.8 324.5z" fill="#fff"/>
<path d="M118 329.6L122.2 325.8" stroke="#10beba"/>
<path d="M118 329.6L114.8 324.5" stroke="#10beba"/>
<path d="M114.8 324.5L119 321" stroke="#10beba"/>
<path d="M122.2 325.8L119 321" stroke="#10beba"/>
<path d="M125.4 330.9L129.5 326.9L126.3 322.1L122.2 325.8z" fill="#fff"/>
<path d="M125.4 330.9L129.5 326.9" stroke="#10beba"/>
<path d="M125.4 330.9L122.2 325.8" stroke="#10beba"/>
<path d="M122.2 325.8L126.3 322.1" stroke="#10beba"/>
<path d="M129.5 326.9L126.3 322.1" stroke="#10beba"/>
<path d="M121.2 334.9L125.4 330.9L122.2 325.8L118 329.6z" fill="#fff"/>
<path d="M121.2 334.9L125.4 330.9" stroke="#10beba"/>
<path d="M121.2 334.9L118 329.6" stroke="#10beba"/>
<path d="M118 329.6L122.2 325.8" stroke="#10beba"/>
<path d="M125.4 330.9L122.2 325.8" stroke="#10beba"/>
</g>
<g stroke="#262626" stroke-width="1.2" fill="none">
<path d="M57.5 344.4L57.5 108.6"/>
<path d="M57.4 344.4L121.2 452.6"/>
<path d="M121.2 452.6L204.3 369.6"/>
<path d="M57.4 344.4L54 338.6"/>
<path d="M57.4 226.5L54 220.7"/>
<path d="M57.4 108.6L54 102.8"/>
<path d="M121.2 452.6L116.7 457.1"/>
<path d="M89.3 398.5L84.8 403"/>
<path d="M57.4 344.4L52.9 348.9"/>
<path d="M121.2 452.6L124.6 458.4"/>
<path d="M162.8 411.1L166.2 416.9"/>
<path d="M204.3 369.6L207.7 375.4"/>
</g>
<g font-family="Liberation Sans, sans-serif" font-size="13.33" fill="#262626" stroke="#262626" stroke-width="0.25" opacity="0.999">
<text transform="translate(51.4 105.6) scale(1.06 1.09)" text-anchor="end">0.5</text>
<text transform="translate(51.4 223.6) scale(1.06 1.09)" text-anchor="end">0</text>
<text transform="translate(51.4 341.8) scale(1.06 1.09)" text-anchor="end">-0.5</text>
<text transform="translate(49.7 366) scale(1.06 1.09)" text-anchor="end">2</text>
<text transform="translate(81.5 420.9) scale(1.06 1.09)" text-anchor="end">0</text>
<text transform="translate(113.3 475) scale(1.06 1.09)" text-anchor="end">-2</text>
<text transform="translate(120 476) scale(1.06 1.09)" text-anchor="start">-2</text>
<text transform="translate(163.8 434.5) scale(1.06 1.09)" text-anchor="start">0</text>
<text transform="translate(206.2 392.6) scale(1.06 1.09)" text-anchor="start">2</text>
</g>
<polygon points="254.5,344.4 254.5,108.6 337.6,25.6 401.4,133.8 401.4,369.6 318.3,452.6" fill="#fff"/>
<g stroke="#262626" stroke-opacity="0.19" stroke-width="1" fill="none">
<path d="M318.3 452.6L254.5 344.4"/>
<path d="M359.9 411.1L296.1 302.9"/>
<path d="M401.4 369.6L337.6 261.4"/>
<path d="M318.3 452.6L401.4 369.6"/>
<path d="M286.4 398.5L369.5 315.5"/>
<path d="M254.5 344.4L337.6 261.4"/>
</g>
<g stroke="#262626" stroke-opacity="0.15" stroke-width="1" fill="none">
<path d="M254.5 344.4L254.5 108.6"/>
<path d="M296.5 302.9L296.5 67.1"/>
<path d="M337.5 261.4L337.5 25.6"/>
<path d="M254.5 344.4L337.6 261.4"/>
<path d="M254.5 226.5L337.6 143.5"/>
<path d="M254.5 108.6L337.6 25.6"/>
<path d="M401.5 369.6L401.5 133.8"/>
<path d="M369.5 315.5L369.5 79.7"/>
<path d="M337.5 261.4L337.5 25.6"/>
<path d="M401.4 369.6L337.6 261.4"/>
<path d="M401.4 251.7L337.6 143.5"/>
<path d="M401.4 133.8L337.6 25.6"/>
</g>
<g stroke="#000" stroke-width="1" stroke-linejoin="round">
<path d="M336.6 152.4L340.8 148.6L337.6 143.3L333.4 147.3z" fill="#13beb8"/>
<path d="M332.5 156.1L336.6 152.4L333.4 147.3L329.3 151.3z" fill="#17bfb6"/>
<path d="M339.8 157.2L344 153.7L340.8 148.6L336.6 152.4z" fill="#17bfb6"/>
<path d="M328.3 159.5L332.5 156.1L329.3 151.3L325.1 155.1z" fill="#1ac0b5"/>
<path d="M335.7 160.4L339.8 157.2L336.6 152.4L332.5 156.1z" fill="#1ac0b5"/>
<path d="M343 161.5L347.2 158.5L344 153.7L339.8 157.2z" fill="#1dc0b3"/>
<path d="M324.2 162.9L328.3 159.5L325.1 155.1L321 158.9z" fill="#1dc0b3"/>
<path d="M331.5 163.2L335.7 160.4L332.5 156.1L328.3 159.5z" fill="#20c1b1"/>
<path d="M338.9 163.9L343 161.5L339.8 157.2L335.7 160.4z" fill="#22c1af"/>
<path d="M346.2 165.4L350.4 163.1L347.2 158.5L343 161.5z" fill="#22c1af"/>
<path d="M320 166.3L324.2 162.9L321 158.9L316.8 162.7z" fill="#20c1b1"/>
<path d="M327.4 165.7L331.5 163.2L328.3 159.5L324.2 162.9z" fill="#25c2ae"/>
<path d="M334.7 165.6L338.9 163.9L335.7 160.4L331.5 163.2z" fill="#29c3aa"/>
<path d="M342 166.5L346.2 165.4L343 161.5L338.9 163.9z" fill="#29c3aa"/>
<path d="M315.9 169.9L320 166.3L316.8 162.7L312.7 166.6z" fill="#22c1af"/>
<path d="M349.4 168.6L353.5 167.4L350.4 163.1L346.2 165.4z" fill="#27c2ac"/>
<path d="M323.2 168.4L327.4 165.7L324.2 162.9L320 166.3z" fill="#29c3aa"/>
<path d="M330.5 166.9L334.7 165.6L331.5 163.2L327.4 165.7z" fill="#2fc5a3"/>
<path d="M337.9 166.6L342 166.5L338.9 163.9L334.7 165.6z" fill="#32c69f"/>
<path d="M311.7 174.1L315.9 169.9L312.7 166.6L308.5 170.7z" fill="#20c1b1"/>
<path d="M345.2 168.1L349.4 168.6L346.2 165.4L342 166.5z" fill="#30c5a1"/>
<path d="M319 171.5L323.2 168.4L320 166.3L315.9 169.9z" fill="#2bc3a8"/>
<path d="M352.6 171.3L356.7 171.4L353.5 167.4L349.4 168.6z" fill="#2ec4a4"/>
<path d="M326.4 168.3L330.5 166.9L327.4 165.7L323.2 168.4z" fill="#33c79d"/>
<path d="M333.7 165.9L337.9 166.6L334.7 165.6L330.5 166.9z" fill="#3cc992"/>
<path d="M307.6 179L311.7 174.1L308.5 170.7L304.4 175.2z" fill="#20c1b1"/>
<path d="M341.1 165.9L345.2 168.1L342 166.5L337.9 166.6z" fill="#40ca8d"/>
<path d="M314.9 175.7L319 171.5L315.9 169.9L311.7 174.1z" fill="#2bc3a8"/>
<path d="M348.4 168.9L352.6 171.3L349.4 168.6L345.2 168.1z" fill="#3ac994"/>
<path d="M322.2 170.6L326.4 168.3L323.2 168.4L319 171.5z" fill="#38c896"/>
<path d="M355.8 173.9L359.9 175.3L356.7 171.4L352.6 171.3z" fill="#32c69f"/>
<path d="M329.6 165.3L333.7 165.9L330.5 166.9L326.4 168.3z" fill="#4bcb84"/>
<path d="M303.4 184.5L307.6 179L304.4 175.2L300.2 180z" fill="#1ac0b5"/>
<path d="M336.9 162.5L341.1 165.9L337.9 166.6L333.7 165.9z" fill="#5acc77"/>
<path d="M310.7 181.3L314.9 175.7L311.7 174.1L307.6 179z" fill="#27c2ac"/>
<path d="M344.3 163.9L348.4 168.9L345.2 168.1L341.1 165.9z" fill="#5acc77"/>
<path d="M318.1 174.9L322.2 170.6L319 171.5L314.9 175.7z" fill="#36c899"/>
<path d="M351.6 169.3L355.8 173.9L352.6 171.3L348.4 168.9z" fill="#4bcb84"/>
<path d="M325.4 166.5L329.6 165.3L326.4 168.3L322.2 170.6z" fill="#57cc7a"/>
<path d="M299.2 190.4L303.4 184.5L300.2 180L296.1 185z" fill="#10beba"/>
<path d="M359 176.8L363.1 179.4L359.9 175.3L355.8 173.9z" fill="#38c896"/>
<path d="M332.8 159.4L336.9 162.5L333.7 165.9L329.6 165.3z" fill="#7dcc5b"/>
<path d="M306.6 188.2L310.7 181.3L307.6 179L303.4 184.5z" fill="#20c1b1"/>
<path d="M340.1 157.2L344.3 163.9L341.1 165.9L336.9 162.5z" fill="#8bcb51"/>
<path d="M313.9 181.6L318.1 174.9L314.9 175.7L310.7 181.3z" fill="#32c69f"/>
<path d="M347.5 161.4L351.6 169.3L348.4 168.9L344.3 163.9z" fill="#7dcc5b"/>
<path d="M321.3 170.8L325.4 166.5L322.2 170.6L318.1 174.9z" fill="#57cc7a"/>
<path d="M295.1 196.3L299.2 190.4L296.1 185L291.9 190z" fill="#0abdbd"/>
<path d="M354.8 170.2L359 176.8L355.8 173.9L351.6 169.3z" fill="#5acc77"/>
<path d="M328.6 158.9L332.8 159.4L329.6 165.3L325.4 166.5z" fill="#93ca4b"/>
<path d="M302.4 195.8L306.6 188.2L303.4 184.5L299.2 190.4z" fill="#10beba"/>
<path d="M362.2 180.4L366.3 183.9L363.1 179.4L359 176.8z" fill="#3cc992"/>
<path d="M336 151L340.1 157.2L336.9 162.5L332.8 159.4z" fill="#b8c431"/>
<path d="M309.8 190.7L313.9 181.6L310.7 181.3L306.6 188.2z" fill="#29c3aa"/>
<path d="M343.3 151.2L347.5 161.4L344.3 163.9L340.1 157.2z" fill="#bec32e"/>
<path d="M317.1 179.3L321.3 170.8L318.1 174.9L313.9 181.6z" fill="#45cb89"/>
<path d="M290.9 201.9L295.1 196.3L291.9 190L287.7 194.8z" fill="#05bbc1"/>
<path d="M350.7 159.6L354.8 170.2L351.6 169.3L347.5 161.4z" fill="#9dc943"/>
<path d="M324.5 163.3L328.6 158.9L325.4 166.5L321.3 170.8z" fill="#8fcb4e"/>
<path d="M298.3 203.5L302.4 195.8L299.2 190.4L295.1 196.3z" fill="#05bbc1"/>
<path d="M358 172.5L362.2 180.4L359 176.8L354.8 170.2z" fill="#6bcd69"/>
<path d="M331.8 148.4L336 151L332.8 159.4L328.6 158.9z" fill="#d3bf27"/>
<path d="M305.6 201.2L309.8 190.7L306.6 188.2L302.4 195.8z" fill="#10beba"/>
<path d="M365.3 185.1L369.5 189L366.3 183.9L362.2 180.4z" fill="#3eca90"/>
<path d="M339.2 141.6L343.3 151.2L340.1 157.2L336 151z" fill="#ecba33"/>
<path d="M313 191.8L317.1 179.3L313.9 181.6L309.8 190.7z" fill="#30c5a1"/>
<path d="M286.8 206.7L290.9 201.9L287.7 194.8L283.6 199.3z" fill="#05bbc1"/>
<path d="M346.5 146.3L350.7 159.6L347.5 161.4L343.3 151.2z" fill="#e3bc2c"/>
<path d="M320.3 174.2L324.5 163.3L321.3 170.8L317.1 179.3z" fill="#72cd64"/>
<path d="M294.1 210.3L298.3 203.5L295.1 196.3L290.9 201.9z" fill="#01b9c6"/>
<path d="M353.8 160L358 172.5L354.8 170.2L350.7 159.6z" fill="#b5c533"/>
<path d="M327.7 153L331.8 148.4L328.6 158.9L324.5 163.3z" fill="#d0bf27"/>
<path d="M301.5 211.8L305.6 201.2L302.4 195.8L298.3 203.5z" fill="#01b9c7"/>
<path d="M361.2 176.7L365.3 185.1L362.2 180.4L358 172.5z" fill="#6ecd66"/>
<path d="M335 136.9L339.2 141.6L336 151L331.8 148.4z" fill="#fec13a"/>
<path d="M308.8 206.6L313 191.8L309.8 190.7L305.6 201.2z" fill="#10beba"/>
<path d="M282.6 210.9L286.8 206.7L283.6 199.3L279.4 203.4z" fill="#03bbc2"/>
<path d="M368.5 191.2L372.7 194.7L369.5 189L365.3 185.1z" fill="#3cc992"/>
<path d="M342.3 133.6L346.5 146.3L343.3 151.2L339.2 141.6z" fill="#feca33"/>
<path d="M316.2 191.2L320.3 174.2L317.1 179.3L313 191.8z" fill="#3eca90"/>
<path d="M290 215.9L294.1 210.3L290.9 201.9L286.8 206.7z" fill="#01b8c9"/>
<path d="M349.7 144.4L353.8 160L350.7 159.6L346.5 146.3z" fill="#f7ba3c"/>
<path d="M323.5 166.8L327.7 153L324.5 163.3L320.3 174.2z" fill="#abc739"/>
<path d="M297.3 220.9L301.5 211.8L298.3 203.5L294.1 210.3z" fill="#08b4d1"/>
<path d="M357 163.5L361.2 176.7L358 172.5L353.8 160z" fill="#bbc42f"/>
<path d="M330.8 141.6L335 136.9L331.8 148.4L327.7 153z" fill="#fec03b"/>
<path d="M304.7 221.5L308.8 206.6L305.6 201.2L301.5 211.8z" fill="#06b5cf"/>
<path d="M278.5 214.6L282.6 210.9L279.4 203.4L275.3 207.3z" fill="#05bbc1"/>
<path d="M364.4 183.3L368.5 191.2L365.3 185.1L361.2 176.7z" fill="#6bcd69"/>
<path d="M338.2 126.9L342.3 133.6L339.2 141.6L335 136.9z" fill="#f6e028"/>
<path d="M312 212.1L316.2 191.2L313 191.8L308.8 206.6z" fill="#10beba"/>
<path d="M285.8 220.1L290 215.9L286.8 206.7L282.6 210.9z" fill="#01b8c9"/>
<path d="M371.7 198.4L375.9 201.1L372.7 194.7L368.5 191.2z" fill="#38c896"/>
<path d="M345.5 129.6L349.7 144.4L346.5 146.3L342.3 133.6z" fill="#f7dd2a"/>
<path d="M319.3 189.4L323.5 166.8L320.3 174.2L316.2 191.2z" fill="#57cc7a"/>
<path d="M293.2 227.6L297.3 220.9L294.1 210.3L290 215.9z" fill="#10b2d5"/>
<path d="M352.9 147.2L357 163.5L353.8 160L349.7 144.4z" fill="#fdbd3d"/>
<path d="M326.7 158.5L330.8 141.6L327.7 153L323.5 166.8z" fill="#e0bc2b"/>
<path d="M300.5 234L304.7 221.5L301.5 211.8L297.3 220.9z" fill="#1babde"/>
<path d="M274.3 217.9L278.5 214.6L275.3 207.3L271.1 211.1z" fill="#08bcbf"/>
<path d="M360.2 170.8L364.4 183.3L361.2 176.7L357 163.5z" fill="#b5c533"/>
<path d="M334 131.7L338.2 126.9L335 136.9L330.8 141.6z" fill="#f6de29"/>
<path d="M307.8 232.9L312 212.1L308.8 206.6L304.7 221.5z" fill="#17aeda"/>
<path d="M281.7 223.3L285.8 220.1L282.6 210.9L278.5 214.6z" fill="#01b9c7"/>
<path d="M367.6 191.9L371.7 198.4L368.5 191.2L364.4 183.3z" fill="#5acc77"/>
<path d="M341.4 121.5L345.5 129.6L342.3 133.6L338.2 126.9z" fill="#f7f41c"/>
<path d="M315.2 217.5L319.3 189.4L316.2 191.2L312 212.1z" fill="#10beba"/>
<path d="M289 231.8L293.2 227.6L290 215.9L285.8 220.1z" fill="#12b1d6"/>
<path d="M374.9 206.4L379.1 207.8L375.9 201.1L371.7 198.4z" fill="#32c69f"/>
<path d="M348.7 131.6L352.9 147.2L349.7 144.4L345.5 129.6z" fill="#f5e327"/>
<path d="M322.5 187.1L326.7 158.5L323.5 166.8L319.3 189.4z" fill="#79cc5e"/>
<path d="M296.3 242.5L300.5 234L297.3 220.9L293.2 227.6z" fill="#20a5e3"/>
<path d="M270.2 221.3L274.3 217.9L271.1 211.1L267 214.9z" fill="#0abdbd"/>
<path d="M356.1 155.2L360.2 170.8L357 163.5L352.9 147.2z" fill="#f7ba3c"/>
<path d="M329.9 151.5L334 131.7L330.8 141.6L326.7 158.5z" fill="#fec03b"/>
<path d="M303.7 249.9L307.8 232.9L304.7 221.5L300.5 234z" fill="#259be8"/>
<path d="M277.5 225.9L281.7 223.3L278.5 214.6L274.3 217.9z" fill="#02bac4"/>
<path d="M363.4 181.2L367.6 191.9L364.4 183.3L360.2 170.8z" fill="#9dc943"/>
<path d="M337.2 126.4L341.4 121.5L338.2 126.9L334 131.7z" fill="#f7f41c"/>
<path d="M311 245.5L315.2 217.5L312 212.1L307.8 232.9z" fill="#20a5e3"/>
<path d="M284.8 234.2L289 231.8L285.8 220.1L281.7 223.3z" fill="#0bb3d2"/>
<path d="M370.8 201.8L374.9 206.4L371.7 198.4L367.6 191.9z" fill="#4bcb84"/>
<path d="M344.6 123L348.7 131.6L345.5 129.6L341.4 121.5z" fill="#f9fb15"/>
<path d="M318.4 222.9L322.5 187.1L319.3 189.4L315.2 217.5z" fill="#10beba"/>
<path d="M292.2 246.8L296.3 242.5L293.2 227.6L289 231.8z" fill="#20a5e3"/>
<path d="M378.1 214.6L382.3 214.7L379.1 207.8L374.9 206.4z" fill="#2ec4a4"/>
<path d="M266 224.8L270.2 221.3L267 214.9L262.8 218.7z" fill="#0dbdbc"/>
<path d="M351.9 140.4L356.1 155.2L352.9 147.2L348.7 131.6z" fill="#f7dd2a"/>
<path d="M325.7 185.5L329.9 151.5L326.7 158.5L322.5 187.1z" fill="#9ac946"/>
<path d="M299.5 260.8L303.7 249.9L300.5 234L296.3 242.5z" fill="#2b91ef"/>
<path d="M273.3 228.5L277.5 225.9L274.3 217.9L270.2 221.3z" fill="#05bbc1"/>
<path d="M359.3 167.9L363.4 181.2L360.2 170.8L356.1 155.2z" fill="#e3bc2c"/>
<path d="M333.1 148.2L337.2 126.4L334 131.7L329.9 151.5z" fill="#fcd030"/>
<path d="M306.9 268.1L311 245.5L307.8 232.9L303.7 249.9z" fill="#2e87f7"/>
<path d="M280.7 235.6L284.8 234.2L281.7 223.3L277.5 225.9z" fill="#05b6ce"/>
<path d="M366.6 193.8L370.8 201.8L367.6 191.9L363.4 181.2z" fill="#7dcc5b"/>
<path d="M340.4 127.9L344.6 123L341.4 121.5L337.2 126.4z" fill="#f9fb15"/>
<path d="M314.2 258.6L318.4 222.9L315.2 217.5L311 245.5z" fill="#2699e9"/>
<path d="M288 247.9L292.2 246.8L289 231.8L284.8 234.2z" fill="#1da9e0"/>
<path d="M373.9 212.2L378.1 214.6L374.9 206.4L370.8 201.8z" fill="#3ac994"/>
<path d="M261.8 228.4L266 224.8L262.8 218.7L258.7 222.7z" fill="#10beba"/>
<path d="M347.8 132.3L351.9 140.4L348.7 131.6L344.6 123z" fill="#f7f41c"/>
<path d="M321.6 228.3L325.7 185.5L322.5 187.1L318.4 222.9z" fill="#10beba"/>
<path d="M295.4 265.2L299.5 260.8L296.3 242.5L292.2 246.8z" fill="#2b90f0"/>
<path d="M381.3 222.7L385.4 221.5L382.3 214.7L378.1 214.6z" fill="#27c2ac"/>
<path d="M269.2 231.3L273.3 228.5L270.2 221.3L266 224.8z" fill="#0abdbd"/>
<path d="M355.1 155.2L359.3 167.9L356.1 155.2L351.9 140.4z" fill="#feca33"/>
<path d="M328.9 186L333.1 148.2L329.9 151.5L325.7 185.5z" fill="#b1c635"/>
<path d="M302.7 282L306.9 268.1L303.7 249.9L299.5 260.8z" fill="#3876fe"/>
<path d="M276.5 236.8L280.7 235.6L277.5 225.9L273.3 228.5z" fill="#01b9c7"/>
<path d="M362.4 183.7L366.6 193.8L363.4 181.2L359.3 167.9z" fill="#bec32e"/>
<path d="M336.3 150.4L340.4 127.9L337.2 126.4L333.1 148.2z" fill="#f9d62d"/>
<path d="M310.1 287.2L314.2 258.6L311 245.5L306.9 268.1z" fill="#406dfe"/>
<path d="M283.9 247.4L288 247.9L284.8 234.2L280.7 235.6z" fill="#15afd9"/>
<path d="M369.8 207.2L373.9 212.2L370.8 201.8L366.6 193.8z" fill="#5acc77"/>
<path d="M257.7 232.2L261.8 228.4L258.7 222.7L254.5 226.7z" fill="#10beba"/>
<path d="M343.6 137.2L347.8 132.3L344.6 123L340.4 127.9z" fill="#f7f41c"/>
<path d="M317.4 271L321.6 228.3L318.4 222.9L314.2 258.6z" fill="#2c8ef2"/>
<path d="M291.2 264.7L295.4 265.2L292.2 246.8L288 247.9z" fill="#2798ea"/>
<path d="M377.1 222.2L381.3 222.7L378.1 214.6L373.9 212.2z" fill="#30c5a1"/>
<path d="M265 234.5L269.2 231.3L266 224.8L261.8 228.4z" fill="#0dbdbc"/>
<path d="M350.9 148.6L355.1 155.2L351.9 140.4L347.8 132.3z" fill="#f6e028"/>
<path d="M324.8 233.7L328.9 186L325.7 185.5L321.6 228.3z" fill="#10beba"/>
<path d="M298.6 286.5L302.7 282L299.5 260.8L295.4 265.2z" fill="#3974fe"/>
<path d="M384.5 230.3L388.6 228L385.4 221.5L381.3 222.7z" fill="#22c1af"/>
<path d="M272.4 238.5L276.5 236.8L273.3 228.5L269.2 231.3z" fill="#03bbc2"/>
<path d="M358.3 174.1L362.4 183.7L359.3 167.9L355.1 155.2z" fill="#ecba33"/>
<path d="M332.1 189.6L336.3 150.4L333.1 148.2L328.9 186z" fill="#b8c431"/>
<path d="M305.9 304.2L310.1 287.2L306.9 268.1L302.7 282z" fill="#4756f7"/>
<path d="M279.7 246.7L283.9 247.4L280.7 235.6L276.5 236.8z" fill="#08b4d1"/>
<path d="M365.6 200.5L369.8 207.2L366.6 193.8L362.4 183.7z" fill="#8bcb51"/>
<path d="M339.5 159L343.6 137.2L340.4 127.9L336.3 150.4z" fill="#fcd030"/>
<path d="M313.3 305.1L317.4 271L314.2 258.6L310.1 287.2z" fill="#4756f7"/>
<path d="M287.1 261.6L291.2 264.7L288 247.9L283.9 247.4z" fill="#21a3e3"/>
<path d="M373 220L377.1 222.2L373.9 212.2L369.8 207.2z" fill="#40ca8d"/>
<path d="M260.9 238L265 234.5L261.8 228.4L257.7 232.2z" fill="#10beba"/>
<path d="M346.8 153.4L350.9 148.6L347.8 132.3L343.6 137.2z" fill="#f6de29"/>
<path d="M320.6 281.4L324.8 233.7L321.6 228.3L317.4 271z" fill="#2e84f8"/>
<path d="M294.4 284L298.6 286.5L295.4 265.2L291.2 264.7z" fill="#2f82fa"/>
<path d="M380.3 231.4L384.5 230.3L381.3 222.7L377.1 222.2z" fill="#29c3aa"/>
<path d="M268.2 240.9L272.4 238.5L269.2 231.3L265 234.5z" fill="#08bcbf"/>
<path d="M354.1 169.3L358.3 174.1L355.1 155.2L350.9 148.6z" fill="#fec13a"/>
<path d="M328 239.1L332.1 189.6L328.9 186L324.8 233.7z" fill="#10beba"/>
<path d="M301.8 308.9L305.9 304.2L302.7 282L298.6 286.5z" fill="#4854f6"/>
<path d="M387.7 237.3L391.8 234.3L388.6 228L384.5 230.3z" fill="#1dc0b3"/>
<path d="M275.6 246.8L279.7 246.7L276.5 236.8L272.4 238.5z" fill="#01b9c7"/>
<path d="M361.5 194.2L365.6 200.5L362.4 183.7L358.3 174.1z" fill="#b8c431"/>
<path d="M335.3 196.8L339.5 159L336.3 150.4L332.1 189.6z" fill="#b1c635"/>
<path d="M309.1 324.8L313.3 305.1L310.1 287.2L305.9 304.2z" fill="#463adb"/>
<path d="M282.9 258.2L287.1 261.6L283.9 247.4L279.7 246.7z" fill="#19addb"/>
<path d="M368.8 216.6L373 220L369.8 207.2L365.6 200.5z" fill="#5acc77"/>
<path d="M342.6 173.1L346.8 153.4L343.6 137.2L339.5 159z" fill="#fec03b"/>
<path d="M316.4 319.2L320.6 281.4L317.4 271L313.3 305.1z" fill="#4746eb"/>
<path d="M290.3 277.7L294.4 284L291.2 264.7L287.1 261.6z" fill="#2a93ee"/>
<path d="M376.2 231.5L380.3 231.4L377.1 222.2L373 220z" fill="#32c69f"/>
<path d="M264.1 243.9L268.2 240.9L265 234.5L260.9 238z" fill="#0dbdbc"/>
<path d="M350 174L354.1 169.3L350.9 148.6L346.8 153.4z" fill="#fec03b"/>
<path d="M323.8 288.6L328 239.1L324.8 233.7L320.6 281.4z" fill="#2f82fa"/>
<path d="M297.6 304.1L301.8 308.9L298.6 286.5L294.4 284z" fill="#4465fd"/>
<path d="M383.5 239.7L387.7 237.3L384.5 230.3L380.3 231.4z" fill="#22c1af"/>
<path d="M271.4 247.9L275.6 246.8L272.4 238.5L268.2 240.9z" fill="#03bbc2"/>
<path d="M357.3 191.7L361.5 194.2L358.3 174.1L354.1 169.3z" fill="#d3bf27"/>
<path d="M331.1 244.5L335.3 196.8L332.1 189.6L328 239.1z" fill="#10beba"/>
<path d="M304.9 329.6L309.1 324.8L305.9 304.2L301.8 308.9z" fill="#4639d9"/>
<path d="M390.9 243.7L395 240.2L391.8 234.3L387.7 237.3z" fill="#17bfb6"/>
<path d="M278.8 256L282.9 258.2L279.7 246.7L275.6 246.8z" fill="#06b5cf"/>
<path d="M364.7 213.5L368.8 216.6L365.6 200.5L361.5 194.2z" fill="#7dcc5b"/>
<path d="M338.5 207.2L342.6 173.1L339.5 159L335.3 196.8z" fill="#9ac946"/>
<path d="M312.3 341L316.4 319.2L313.3 305.1L309.1 324.8z" fill="#402bb7"/>
<path d="M286.1 271L290.3 277.7L287.1 261.6L282.9 258.2z" fill="#21a3e3"/>
<path d="M372 230.8L376.2 231.5L373 220L368.8 216.6z" fill="#3cc992"/>
<path d="M345.8 191L350 174L346.8 153.4L342.6 173.1z" fill="#e0bc2b"/>
<path d="M319.6 327.8L323.8 288.6L320.6 281.4L316.4 319.2z" fill="#4741e5"/>
<path d="M293.4 294.5L297.6 304.1L294.4 284L290.3 277.7z" fill="#307ffb"/>
<path d="M379.4 241.4L383.5 239.7L380.3 231.4L376.2 231.5z" fill="#29c3aa"/>
<path d="M267.3 250.2L271.4 247.9L268.2 240.9L264.1 243.9z" fill="#0abdbd"/>
<path d="M353.2 196.2L357.3 191.7L354.1 169.3L350 174z" fill="#d0bf27"/>
<path d="M327 292.2L331.1 244.5L328 239.1L323.8 288.6z" fill="#2e84f8"/>
<path d="M300.8 323L304.9 329.6L301.8 308.9L297.6 304.1z" fill="#484cf0"/>
<path d="M386.7 246.9L390.9 243.7L387.7 237.3L383.5 239.7z" fill="#1ac0b5"/>
<path d="M274.6 255.5L278.8 256L275.6 246.8L271.4 247.9z" fill="#01b9c6"/>
<path d="M360.5 213L364.7 213.5L361.5 194.2L357.3 191.7z" fill="#93ca4b"/>
<path d="M334.3 249.9L338.5 207.2L335.3 196.8L331.1 244.5z" fill="#10beba"/>
<path d="M308.1 345.9L312.3 341L309.1 324.8L304.9 329.6z" fill="#402bb7"/>
<path d="M394.1 249.8L398.2 246L395 240.2L390.9 243.7z" fill="#13beb8"/>
<path d="M281.9 266L286.1 271L282.9 258.2L278.8 256z" fill="#14b0d8"/>
<path d="M367.9 230.3L372 230.8L368.8 216.6L364.7 213.5z" fill="#4bcb84"/>
<path d="M341.7 219.6L345.8 191L342.6 173.1L338.5 207.2z" fill="#79cc5e"/>
<path d="M315.5 350.3L319.6 327.8L316.4 319.2L312.3 341z" fill="#3e26a8"/>
<path d="M289.3 284.4L293.4 294.5L290.3 277.7L286.1 271z" fill="#2798ea"/>
<path d="M375.2 242.6L379.4 241.4L376.2 231.5L372 230.8z" fill="#2fc5a3"/>
<path d="M349 210.1L353.2 196.2L350 174L345.8 191z" fill="#abc739"/>
<path d="M322.8 330L327 292.2L323.8 288.6L319.6 327.8z" fill="#4746eb"/>
<path d="M296.6 310.3L300.8 323L297.6 304.1L293.4 294.5z" fill="#416bfe"/>
<path d="M382.6 249.7L386.7 246.9L383.5 239.7L379.4 241.4z" fill="#20c1b1"/>
<path d="M270.5 256.7L274.6 255.5L271.4 247.9L267.3 250.2z" fill="#05bbc1"/>
<path d="M356.4 217.4L360.5 213L357.3 191.7L353.2 196.2z" fill="#8fcb4e"/>
<path d="M330.2 292.7L334.3 249.9L331.1 244.5L327 292.2z" fill="#2c8ef2"/>
<path d="M304 337.8L308.1 345.9L304.9 329.6L300.8 323z" fill="#463bde"/>
<path d="M389.9 253.4L394.1 249.8L390.9 243.7L386.7 246.9z" fill="#17bfb6"/>
<path d="M277.8 263.6L281.9 266L278.8 256L274.6 255.5z" fill="#03b7cc"/>
<path d="M363.7 231.4L367.9 230.3L364.7 213.5L360.5 213z" fill="#57cc7a"/>
<path d="M337.5 255.3L341.7 219.6L338.5 207.2L334.3 249.9z" fill="#10beba"/>
<path d="M311.3 355.2L315.5 350.3L312.3 341L308.1 345.9z" fill="#3e26a8"/>
<path d="M397.2 255.5L401.4 251.5L398.2 246L394.1 249.8z" fill="#13beb8"/>
<path d="M285.1 276.4L289.3 284.4L286.1 271L281.9 266z" fill="#1da9e0"/>
<path d="M371.1 244L375.2 242.6L372 230.8L367.9 230.3z" fill="#33c79d"/>
<path d="M344.9 232.7L349 210.1L345.8 191L341.7 219.6z" fill="#57cc7a"/>
<path d="M318.7 351.8L322.8 330L319.6 327.8L315.5 350.3z" fill="#402bb7"/>
<path d="M292.5 297L296.6 310.3L293.4 294.5L289.3 284.4z" fill="#2d8cf3"/>
<path d="M378.4 252.3L382.6 249.7L379.4 241.4L375.2 242.6z" fill="#25c2ae"/>
<path d="M352.2 228.3L356.4 217.4L353.2 196.2L349 210.1z" fill="#72cd64"/>
<path d="M326 326.7L330.2 292.7L327 292.2L322.8 330z" fill="#4756f7"/>
<path d="M299.8 323L304 337.8L300.8 323L296.6 310.3z" fill="#465efb"/>
<path d="M385.7 256.9L389.9 253.4L386.7 246.9L382.6 249.7z" fill="#1ac0b5"/>
<path d="M273.6 263.5L277.8 263.6L274.6 255.5L270.5 256.7z" fill="#03bbc2"/>
<path d="M359.6 235.7L363.7 231.4L360.5 213L356.4 217.4z" fill="#57cc7a"/>
<path d="M333.4 291.1L337.5 255.3L334.3 249.9L330.2 292.7z" fill="#2699e9"/>
<path d="M307.2 346.6L311.3 355.2L308.1 345.9L304 337.8z" fill="#4537d5"/>
<path d="M393.1 259.5L397.2 255.5L394.1 249.8L389.9 253.4z" fill="#13beb8"/>
<path d="M281 271.8L285.1 276.4L281.9 266L277.8 263.6z" fill="#08b4d1"/>
<path d="M366.9 246.4L371.1 244L367.9 230.3L363.7 231.4z" fill="#38c896"/>
<path d="M340.7 260.7L344.9 232.7L341.7 219.6L337.5 255.3z" fill="#10beba"/>
<path d="M314.5 356.7L318.7 351.8L315.5 350.3L311.3 355.2z" fill="#402bb7"/>
<path d="M288.3 286.3L292.5 297L289.3 284.4L285.1 276.4z" fill="#21a3e3"/>
<path d="M374.2 254.9L378.4 252.3L375.2 242.6L371.1 244z" fill="#29c3aa"/>
<path d="M348.1 245.3L352.2 228.3L349 210.1L344.9 232.7z" fill="#3eca90"/>
<path d="M321.9 346.5L326 326.7L322.8 330L318.7 351.8z" fill="#463adb"/>
<path d="M295.7 307.4L299.8 323L296.6 310.3L292.5 297z" fill="#2e83f9"/>
<path d="M381.6 260.3L385.7 256.9L382.6 249.7L378.4 252.3z" fill="#1dc0b3"/>
<path d="M355.4 244.2L359.6 235.7L356.4 217.4L352.2 228.3z" fill="#45cb89"/>
<path d="M329.2 319.7L333.4 291.1L330.2 292.7L326 326.7z" fill="#406dfe"/>
<path d="M303 331L307.2 346.6L304 337.8L299.8 323z" fill="#4759f8"/>
<path d="M388.9 263.3L393.1 259.5L389.9 253.4L385.7 256.9z" fill="#17bfb6"/>
<path d="M276.8 270.4L281 271.8L277.8 263.6L273.6 263.5z" fill="#01b9c6"/>
<path d="M362.7 250.6L366.9 246.4L363.7 231.4L359.6 235.7z" fill="#36c899"/>
<path d="M336.6 288.8L340.7 260.7L337.5 255.3L333.4 291.1z" fill="#20a5e3"/>
<path d="M310.4 348.6L314.5 356.7L311.3 355.2L307.2 346.6z" fill="#463bde"/>
<path d="M284.2 279.8L288.3 286.3L285.1 276.4L281 271.8z" fill="#12b1d6"/>
<path d="M370.1 258.1L374.2 254.9L371.1 244L366.9 246.4z" fill="#2bc3a8"/>
<path d="M343.9 266.2L348.1 245.3L344.9 232.7L340.7 260.7z" fill="#10beba"/>
<path d="M317.7 351.3L321.9 346.5L318.7 351.8L314.5 356.7z" fill="#4639d9"/>
<path d="M291.5 294.9L295.7 307.4L292.5 297L288.3 286.3z" fill="#249ee6"/>
<path d="M377.4 263.6L381.6 260.3L378.4 252.3L374.2 254.9z" fill="#20c1b1"/>
<path d="M351.2 256.7L355.4 244.2L352.2 228.3L348.1 245.3z" fill="#30c5a1"/>
<path d="M325.1 336.6L329.2 319.7L326 326.7L321.9 346.5z" fill="#4756f7"/>
<path d="M298.9 314.7L303 331L299.8 323L295.7 307.4z" fill="#2f80fa"/>
<path d="M384.8 267.1L388.9 263.3L385.7 256.9L381.6 260.3z" fill="#17bfb6"/>
<path d="M358.6 257.3L362.7 250.6L359.6 235.7L355.4 244.2z" fill="#32c69f"/>
<path d="M332.4 311.4L336.6 288.8L333.4 291.1L329.2 319.7z" fill="#2e87f7"/>
<path d="M306.2 333.8L310.4 348.6L307.2 346.6L303 331z" fill="#465efb"/>
<path d="M280 277.1L284.2 279.8L281 271.8L276.8 270.4z" fill="#01b8c9"/>
<path d="M365.9 262.3L370.1 258.1L366.9 246.4L362.7 250.6z" fill="#2bc3a8"/>
<path d="M339.7 287L343.9 266.2L340.7 260.7L336.6 288.8z" fill="#17aeda"/>
<path d="M313.6 344.6L317.7 351.3L314.5 356.7L310.4 348.6z" fill="#484cf0"/>
<path d="M287.4 287L291.5 294.9L288.3 286.3L284.2 279.8z" fill="#15afd9"/>
<path d="M373.3 267.3L377.4 263.6L374.2 254.9L370.1 258.1z" fill="#22c1af"/>
<path d="M347.1 271.6L351.2 256.7L348.1 245.3L343.9 266.2z" fill="#10beba"/>
<path d="M320.9 341.3L325.1 336.6L321.9 346.5L317.7 351.3z" fill="#4854f6"/>
<path d="M294.7 301.5L298.9 314.7L295.7 307.4L291.5 294.9z" fill="#259ce7"/>
<path d="M380.6 270.9L384.8 267.1L381.6 260.3L377.4 263.6z" fill="#1ac0b5"/>
<path d="M354.4 266.4L358.6 257.3L355.4 244.2L351.2 256.7z" fill="#29c3aa"/>
<path d="M328.2 325.2L332.4 311.4L329.2 319.7L325.1 336.6z" fill="#3876fe"/>
<path d="M302.1 318.2L306.2 333.8L303 331L298.9 314.7z" fill="#2e83f9"/>
<path d="M361.8 267.9L365.9 262.3L362.7 250.6L358.6 257.3z" fill="#27c2ac"/>
<path d="M335.6 304L339.7 287L336.6 288.8L332.4 311.4z" fill="#259be8"/>
<path d="M309.4 331.9L313.6 344.6L310.4 348.6L306.2 333.8z" fill="#416bfe"/>
<path d="M283.2 283.5L287.4 287L284.2 279.8L280 277.1z" fill="#02b7ca"/>
<path d="M369.1 271.5L373.3 267.3L370.1 258.1L365.9 262.3z" fill="#20c1b1"/>
<path d="M342.9 286.4L347.1 271.6L343.9 266.2L339.7 287z" fill="#06b5cf"/>
<path d="M316.7 336.6L320.9 341.3L317.7 351.3L313.6 344.6z" fill="#4465fd"/>
<path d="M290.6 293.1L294.7 301.5L291.5 294.9L287.4 287z" fill="#17aeda"/>
<path d="M376.5 274.8L380.6 270.9L377.4 263.6L373.3 267.3z" fill="#1ac0b5"/>
<path d="M350.3 277L354.4 266.4L351.2 256.7L347.1 271.6z" fill="#10beba"/>
<path d="M324.1 329.8L328.2 325.2L325.1 336.6L320.9 341.3z" fill="#3974fe"/>
<path d="M297.9 305.7L302.1 318.2L298.9 314.7L294.7 301.5z" fill="#249ee6"/>
<path d="M357.6 274.7L361.8 267.9L358.6 257.3L354.4 266.4z" fill="#20c1b1"/>
<path d="M331.4 314.9L335.6 304L332.4 311.4L328.2 325.2z" fill="#2b91ef"/>
<path d="M305.2 318.6L309.4 331.9L306.2 333.8L302.1 318.2z" fill="#2d8cf3"/>
<path d="M365 276.3L369.1 271.5L365.9 262.3L361.8 267.9z" fill="#20c1b1"/>
<path d="M338.8 298.9L342.9 286.4L339.7 287L335.6 304z" fill="#1babde"/>
<path d="M312.6 327L316.7 336.6L313.6 344.6L309.4 331.9z" fill="#307ffb"/>
<path d="M286.4 289.2L290.6 293.1L287.4 287L283.2 283.5z" fill="#03b7cc"/>
<path d="M372.3 278.9L376.5 274.8L373.3 267.3L369.1 271.5z" fill="#1ac0b5"/>
<path d="M346.1 287.5L350.3 277L347.1 271.6L342.9 286.4z" fill="#01b9c7"/>
<path d="M319.9 327.2L324.1 329.8L320.9 341.3L316.7 336.6z" fill="#2f82fa"/>
<path d="M293.7 297.8L297.9 305.7L294.7 301.5L290.6 293.1z" fill="#15afd9"/>
<path d="M353.5 282.4L357.6 274.7L354.4 266.4L350.3 277z" fill="#10beba"/>
<path d="M327.3 319.3L331.4 314.9L328.2 325.2L324.1 329.8z" fill="#2b90f0"/>
<path d="M301.1 308L305.2 318.6L302.1 318.2L297.9 305.7z" fill="#21a3e3"/>
<path d="M360.8 281.9L365 276.3L361.8 267.9L357.6 274.7z" fill="#1ac0b5"/>
<path d="M334.6 307.4L338.8 298.9L335.6 304L331.4 314.9z" fill="#20a5e3"/>
<path d="M308.4 316.8L312.6 327L309.4 331.9L305.2 318.6z" fill="#2798ea"/>
<path d="M368.2 283.4L372.3 278.9L369.1 271.5L365 276.3z" fill="#17bfb6"/>
<path d="M342 296.6L346.1 287.5L342.9 286.4L338.8 298.9z" fill="#08b4d1"/>
<path d="M315.8 321L319.9 327.2L316.7 336.6L312.6 327z" fill="#2a93ee"/>
<path d="M289.6 294.3L293.7 297.8L290.6 293.1L286.4 289.2z" fill="#02b7ca"/>
<path d="M349.3 290L353.5 282.4L350.3 277L346.1 287.5z" fill="#05bbc1"/>
<path d="M323.1 318.8L327.3 319.3L324.1 329.8L319.9 327.2z" fill="#2798ea"/>
<path d="M296.9 301.4L301.1 308L297.9 305.7L293.7 297.8z" fill="#12b1d6"/>
<path d="M356.7 287.8L360.8 281.9L357.6 274.7L353.5 282.4z" fill="#10beba"/>
<path d="M330.5 311.7L334.6 307.4L331.4 314.9L327.3 319.3z" fill="#20a5e3"/>
<path d="M304.3 308.9L308.4 316.8L305.2 318.6L301.1 308z" fill="#1da9e0"/>
<path d="M364 288.2L368.2 283.4L365 276.3L360.8 281.9z" fill="#17bfb6"/>
<path d="M337.8 303.3L342 296.6L338.8 298.9L334.6 307.4z" fill="#10b2d5"/>
<path d="M311.6 314.3L315.8 321L312.6 327L308.4 316.8z" fill="#21a3e3"/>
<path d="M345.2 296.9L349.3 290L346.1 287.5L342 296.6z" fill="#01b9c6"/>
<path d="M319 315.7L323.1 318.8L319.9 327.2L315.8 321z" fill="#21a3e3"/>
<path d="M292.8 298.8L296.9 301.4L293.7 297.8L289.6 294.3z" fill="#01b8c9"/>
<path d="M352.5 293.7L356.7 287.8L353.5 282.4L349.3 290z" fill="#0abdbd"/>
<path d="M326.3 312.9L330.5 311.7L327.3 319.3L323.1 318.8z" fill="#1da9e0"/>
<path d="M300.1 304.3L304.3 308.9L301.1 308L296.9 301.4z" fill="#08b4d1"/>
<path d="M359.9 293.2L364 288.2L360.8 281.9L356.7 287.8z" fill="#10beba"/>
<path d="M333.7 307.6L337.8 303.3L334.6 307.4L330.5 311.7z" fill="#12b1d6"/>
<path d="M307.5 309.3L311.6 314.3L308.4 316.8L304.3 308.9z" fill="#14b0d8"/>
<path d="M341 302.5L345.2 296.9L342 296.6L337.8 303.3z" fill="#01b8c9"/>
<path d="M314.8 312.3L319 315.7L315.8 321L311.6 314.3z" fill="#19addb"/>
<path d="M348.4 299.2L352.5 293.7L349.3 290L345.2 296.9z" fill="#05bbc1"/>
<path d="M322.2 312.3L326.3 312.9L323.1 318.8L319 315.7z" fill="#15afd9"/>
<path d="M296 302.9L300.1 304.3L296.9 301.4L292.8 298.8z" fill="#01b9c6"/>
<path d="M355.7 298.2L359.9 293.2L356.7 287.8L352.5 293.7z" fill="#0dbdbc"/>
<path d="M329.5 309.9L333.7 307.6L330.5 311.7L326.3 312.9z" fill="#0bb3d2"/>
<path d="M303.3 306.9L307.5 309.3L304.3 308.9L300.1 304.3z" fill="#03b7cc"/>
<path d="M336.9 306.7L341 302.5L337.8 303.3L333.7 307.6z" fill="#01b8c9"/>
<path d="M310.7 310.1L314.8 312.3L311.6 314.3L307.5 309.3z" fill="#06b5cf"/>
<path d="M344.2 304.1L348.4 299.2L345.2 296.9L341 302.5z" fill="#05bbc1"/>
<path d="M318 311.6L322.2 312.3L319 315.7L314.8 312.3z" fill="#08b4d1"/>
<path d="M351.5 303L355.7 298.2L352.5 293.7L348.4 299.2z" fill="#0dbdbc"/>
<path d="M325.4 311.3L329.5 309.9L326.3 312.9L322.2 312.3z" fill="#05b6ce"/>
<path d="M299.2 306.8L303.3 306.9L300.1 304.3L296 302.9z" fill="#03bbc2"/>
<path d="M332.7 309.8L336.9 306.7L333.7 307.6L329.5 309.9z" fill="#01b9c7"/>
<path d="M306.5 309.6L310.7 310.1L307.5 309.3L303.3 306.9z" fill="#01b9c6"/>
<path d="M340 308.3L344.2 304.1L341 302.5L336.9 306.7z" fill="#03bbc2"/>
<path d="M313.9 311.7L318 311.6L314.8 312.3L310.7 310.1z" fill="#01b9c7"/>
<path d="M347.4 307.5L351.5 303L348.4 299.2L344.2 304.1z" fill="#0abdbd"/>
<path d="M321.2 312.6L325.4 311.3L322.2 312.3L318 311.6z" fill="#01b9c7"/>
<path d="M328.5 312.5L332.7 309.8L329.5 309.9L325.4 311.3z" fill="#02bac4"/>
<path d="M302.4 310.8L306.5 309.6L303.3 306.9L299.2 306.8z" fill="#05bbc1"/>
<path d="M335.9 311.9L340 308.3L336.9 306.7L332.7 309.8z" fill="#05bbc1"/>
<path d="M309.7 312.8L313.9 311.7L310.7 310.1L306.5 309.6z" fill="#03bbc2"/>
<path d="M343.2 311.6L347.4 307.5L344.2 304.1L340 308.3z" fill="#0abdbd"/>
<path d="M317 314.3L321.2 312.6L318 311.6L313.9 311.7z" fill="#03bbc2"/>
<path d="M324.4 315L328.5 312.5L325.4 311.3L321.2 312.6z" fill="#05bbc1"/>
<path d="M331.7 315.3L335.9 311.9L332.7 309.8L328.5 312.5z" fill="#08bcbf"/>
<path d="M305.5 315.1L309.7 312.8L306.5 309.6L302.4 310.8z" fill="#0abdbd"/>
<path d="M339.1 315.5L343.2 311.6L340 308.3L335.9 311.9z" fill="#0abdbd"/>
<path d="M312.9 316.7L317 314.3L313.9 311.7L309.7 312.8z" fill="#08bcbf"/>
<path d="M320.2 317.8L324.4 315L321.2 312.6L317 314.3z" fill="#0abdbd"/>
<path d="M327.6 318.7L331.7 315.3L328.5 312.5L324.4 315z" fill="#0abdbd"/>
<path d="M334.9 319.3L339.1 315.5L335.9 311.9L331.7 315.3z" fill="#0dbdbc"/>
<path d="M308.7 319.7L312.9 316.7L309.7 312.8L305.5 315.1z" fill="#0dbdbc"/>
<path d="M316.1 321L320.2 317.8L317 314.3L312.9 316.7z" fill="#0dbdbc"/>
<path d="M323.4 322.1L327.6 318.7L324.4 315L320.2 317.8z" fill="#0dbdbc"/>
<path d="M330.8 323.1L334.9 319.3L331.7 315.3L327.6 318.7z" fill="#0dbdbc"/>
<path d="M311.9 324.5L316.1 321L312.9 316.7L308.7 319.7z" fill="#10beba"/>
<path d="M319.3 325.8L323.4 322.1L320.2 317.8L316.1 321z" fill="#10beba"/>
<path d="M326.6 326.9L330.8 323.1L327.6 318.7L323.4 322.1z" fill="#10beba"/>
<path d="M315.1 329.6L319.3 325.8L316.1 321L311.9 324.5z" fill="#10beba"/>
<path d="M322.5 330.9L326.6 326.9L323.4 322.1L319.3 325.8z" fill="#10beba"/>
<path d="M318.3 334.9L322.5 330.9L319.3 325.8L315.1 329.6z" fill="#10beba"/>
</g>
<g stroke="#262626" stroke-width="1.2" fill="none">
<path d="M254.5 344.4L254.5 108.6"/>
<path d="M254.5 344.4L318.3 452.6"/>
<path d="M318.3 452.6L401.4 369.6"/>
<path d="M254.5 344.4L251.1 338.6"/>
<path d="M254.5 226.5L251.1 220.7"/>
<path d="M254.5 108.6L251.1 102.8"/>
<path d="M318.3 452.6L313.8 457.1"/>
<path d="M286.4 398.5L281.9 403"/>
<path d="M254.5 344.4L250 348.9"/>
<path d="M318.3 452.6L321.7 458.4"/>
<path d="M359.9 411.1L363.3 416.9"/>
<path d="M401.4 369.6L404.8 375.4"/>
</g>
<g font-family="Liberation Sans, sans-serif" font-size="13.33" fill="#262626" stroke="#262626" stroke-width="0.25" opacity="0.999">
<text transform="translate(248.5 105.6) scale(1.06 1.09)" text-anchor="end">0.5</text>
<text transform="translate(248.5 223.6) scale(1.06 1.09)" text-anchor="end">0</text>
<text transform="translate(248.5 341.8) scale(1.06 1.09)" text-anchor="end">-0.5</text>
<text transform="translate(246.8 366) scale(1.06 1.09)" text-anchor="end">2</text>
<text transform="translate(278.6 420.9) scale(1.06 1.09)" text-anchor="end">0</text>
<text transform="translate(310.4 475) scale(1.06 1.09)" text-anchor="end">-2</text>
<text transform="translate(317.1 476) scale(1.06 1.09)" text-anchor="start">-2</text>
<text transform="translate(360.9 434.5) scale(1.06 1.09)" text-anchor="start">0</text>
<text transform="translate(403.3 392.6) scale(1.06 1.09)" text-anchor="start">2</text>
</g>
<polygon points="450.4,344.4 450.4,108.6 533.5,25.6 597.3,133.8 597.3,369.6 514.2,452.6" fill="#fff"/>
<g stroke="#262626" stroke-opacity="0.19" stroke-width="1" fill="none">
<path d="M514.2 452.6L450.4 344.4"/>
<path d="M555.8 411.1L491.9 302.9"/>
<path d="M597.3 369.6L533.5 261.4"/>
<path d="M514.2 452.6L597.3 369.6"/>
<path d="M482.3 398.5L565.4 315.5"/>
<path d="M450.4 344.4L533.5 261.4"/>
</g>
<g stroke="#262626" stroke-opacity="0.15" stroke-width="1" fill="none">
<path d="M450.5 344.4L450.5 108.6"/>
<path d="M491.5 302.9L491.5 67.1"/>
<path d="M533.5 261.4L533.5 25.6"/>
<path d="M450.4 344.4L533.5 261.4"/>
<path d="M450.4 226.5L533.5 143.5"/>
<path d="M450.4 108.6L533.5 25.6"/>
<path d="M597.5 369.6L597.5 133.8"/>
<path d="M565.5 315.5L565.5 79.7"/>
<path d="M533.5 261.4L533.5 25.6"/>
<path d="M597.3 369.6L533.5 261.4"/>
<path d="M597.3 251.7L533.5 143.5"/>
<path d="M597.3 133.8L533.5 25.6"/>
</g>
<g stroke-width="1.1" stroke-linejoin="round" fill="none">
<polyline points="597.3,251.5 596.5,250.2 595.7,248.8 594.9,247.4 594.1,246 593.3,244.5 592.5,243.1 591.7,241.7 590.9,240.2 590.1,238.7 589.3,237.3 588.5,235.8 587.7,234.3 586.9,232.7 586.1,231.2 585.3,229.6 584.5,228 583.7,226.4 582.9,224.8 582.1,223.1 581.3,221.5 580.6,219.8 579.8,218.1 579,216.4 578.2,214.7 577.4,213 576.6,211.2 575.8,209.5 575,207.8 574.2,206.1 573.4,204.4 572.6,202.7 571.8,201.1 571,199.4 570.2,197.8 569.4,196.2 568.6,194.7 567.8,193.2 567,191.8 566.2,190.3 565.4,189 564.6,187.6 563.8,186.3 563,185.1 562.2,183.9 561.4,182.7 560.6,181.6 559.8,180.5 559,179.4 558.2,178.4 557.4,177.3 556.6,176.3 555.8,175.3 555,174.4 554.2,173.4 553.4,172.4 552.6,171.4 551.8,170.4 551,169.4 550.2,168.4 549.4,167.4 548.7,166.3 547.9,165.3 547.1,164.2 546.3,163.1 545.5,162 544.7,160.8 543.9,159.7 543.1,158.5 542.3,157.3 541.5,156.1 540.7,154.9 539.9,153.7 539.1,152.4 538.3,151.1 537.5,149.9 536.7,148.6 535.9,147.3 535.1,146 534.3,144.7 533.5,143.3" stroke="#a2142f"/>
<polyline points="593.1,255.5 592.3,254.1 591.5,252.7 590.8,251.3 590,249.8 589.2,248.3 588.4,246.8 587.6,245.3 586.8,243.7 586,242.2 585.2,240.6 584.4,238.9 583.6,237.3 582.8,235.6 582,233.8 581.2,232.1 580.4,230.3 579.6,228.4 578.8,226.5 578,224.6 577.2,222.7 576.4,220.7 575.6,218.7 574.8,216.7 574,214.6 573.2,212.6 572.4,210.5 571.6,208.4 570.8,206.4 570,204.3 569.2,202.3 568.4,200.3 567.6,198.4 566.8,196.5 566,194.7 565.2,192.9 564.4,191.2 563.6,189.6 562.8,188 562,186.5 561.2,185.1 560.4,183.8 559.6,182.6 558.9,181.4 558.1,180.4 557.3,179.4 556.5,178.4 555.7,177.6 554.9,176.8 554.1,176 553.3,175.3 552.5,174.6 551.7,173.9 550.9,173.3 550.1,172.6 549.3,172 548.5,171.3 547.7,170.7 546.9,170 546.1,169.3 545.3,168.6 544.5,167.8 543.7,167 542.9,166.2 542.1,165.4 541.3,164.5 540.5,163.5 539.7,162.5 538.9,161.5 538.1,160.5 537.3,159.4 536.5,158.3 535.7,157.2 534.9,156 534.1,154.8 533.3,153.6 532.5,152.4 531.7,151.2 530.9,149.9 530.1,148.6 529.3,147.3" stroke="#4dbeee"/>
<polyline points="589,259.5 588.2,258 587.4,256.5 586.6,255 585.8,253.4 585,251.9 584.2,250.3 583.4,248.6 582.6,246.9 581.8,245.2 581,243.4 580.2,241.6 579.4,239.7 578.6,237.7 577.8,235.7 577,233.6 576.2,231.4 575.4,229.2 574.6,227 573.8,224.6 573,222.2 572.2,219.8 571.4,217.3 570.6,214.7 569.8,212.2 569.1,209.6 568.3,207 567.5,204.4 566.7,201.8 565.9,199.2 565.1,196.7 564.3,194.3 563.5,191.9 562.7,189.6 561.9,187.4 561.1,185.3 560.3,183.3 559.5,181.4 558.7,179.7 557.9,178.2 557.1,176.7 556.3,175.5 555.5,174.3 554.7,173.3 553.9,172.5 553.1,171.7 552.3,171.1 551.5,170.6 550.7,170.2 549.9,169.9 549.1,169.7 548.3,169.5 547.5,169.3 546.7,169.2 545.9,169.1 545.1,169 544.3,168.9 543.5,168.7 542.7,168.6 541.9,168.4 541.1,168.1 540.3,167.8 539.5,167.4 538.7,167 537.9,166.5 537.2,166 536.4,165.4 535.6,164.7 534.8,163.9 534,163.1 533.2,162.3 532.4,161.3 531.6,160.4 530.8,159.4 530,158.3 529.2,157.2 528.4,156.1 527.6,154.9 526.8,153.7 526,152.5 525.2,151.3" stroke="#77ac30"/>
<polyline points="584.8,263.3 584,261.8 583.2,260.2 582.4,258.6 581.6,256.9 580.8,255.2 580,253.5 579.3,251.6 578.5,249.7 577.7,247.8 576.9,245.7 576.1,243.6 575.3,241.4 574.5,239.1 573.7,236.6 572.9,234.1 572.1,231.5 571.3,228.8 570.5,225.9 569.7,223 568.9,220 568.1,216.9 567.3,213.7 566.5,210.5 565.7,207.2 564.9,203.8 564.1,200.5 563.3,197.2 562.5,193.8 561.7,190.6 560.9,187.4 560.1,184.2 559.3,181.2 558.5,178.4 557.7,175.7 556.9,173.1 556.1,170.8 555.3,168.6 554.5,166.7 553.7,165 552.9,163.5 552.1,162.3 551.3,161.3 550.5,160.5 549.7,160 548.9,159.6 548.1,159.4 547.4,159.4 546.6,159.6 545.8,159.9 545,160.3 544.2,160.8 543.4,161.4 542.6,162 541.8,162.6 541,163.3 540.2,163.9 539.4,164.5 538.6,165 537.8,165.5 537,165.9 536.2,166.2 535.4,166.4 534.6,166.6 533.8,166.6 533,166.5 532.2,166.3 531.4,166 530.6,165.6 529.8,165.1 529,164.6 528.2,163.9 527.4,163.2 526.6,162.4 525.8,161.5 525,160.5 524.2,159.5 523.4,158.5 522.6,157.4 521.8,156.3 521,155.1" stroke="#7e2f8e"/>
<polyline points="580.7,267.1 579.9,265.5 579.1,263.8 578.3,262.1 577.5,260.3 576.7,258.4 575.9,256.5 575.1,254.4 574.3,252.3 573.5,250.1 572.7,247.7 571.9,245.2 571.1,242.6 570.3,239.9 569.5,237 568.7,234 567.9,230.8 567.1,227.4 566.3,224 565.5,220.3 564.7,216.6 563.9,212.7 563.1,208.7 562.3,204.6 561.5,200.5 560.7,196.3 559.9,192.1 559.1,187.8 558.3,183.7 557.6,179.5 556.8,175.5 556,171.6 555.2,167.9 554.4,164.4 553.6,161 552.8,158 552,155.2 551.2,152.7 550.4,150.5 549.6,148.7 548.8,147.2 548,146 547.2,145.1 546.4,144.6 545.6,144.4 544.8,144.5 544,144.8 543.2,145.4 542.4,146.3 541.6,147.3 540.8,148.5 540,149.8 539.2,151.2 538.4,152.7 537.6,154.2 536.8,155.7 536,157.2 535.2,158.7 534.4,160 533.6,161.3 532.8,162.5 532,163.5 531.2,164.5 530.4,165.2 529.6,165.9 528.8,166.3 528,166.7 527.2,166.8 526.4,166.9 525.7,166.8 524.9,166.6 524.1,166.2 523.3,165.7 522.5,165.2 521.7,164.5 520.9,163.7 520.1,162.9 519.3,162 518.5,161 517.7,160 516.9,158.9" stroke="#edb120"/>
<polyline points="576.5,270.9 575.7,269.2 574.9,267.4 574.1,265.6 573.3,263.6 572.5,261.6 571.7,259.5 570.9,257.3 570.1,254.9 569.3,252.4 568.5,249.8 567.8,247 567,244 566.2,240.8 565.4,237.5 564.6,234 563.8,230.3 563,226.3 562.2,222.2 561.4,217.9 560.6,213.5 559.8,208.9 559,204.1 558.2,199.2 557.4,194.2 556.6,189.2 555.8,184.1 555,179.1 554.2,174.1 553.4,169.1 552.6,164.3 551.8,159.7 551,155.2 550.2,151.1 549.4,147.2 548.6,143.6 547.8,140.4 547,137.6 546.2,135.2 545.4,133.2 544.6,131.6 543.8,130.5 543,129.8 542.2,129.5 541.4,129.6 540.6,130.1 539.8,131 539,132.1 538.2,133.6 537.4,135.3 536.6,137.3 535.9,139.4 535.1,141.6 534.3,143.9 533.5,146.3 532.7,148.6 531.9,151 531.1,153.2 530.3,155.4 529.5,157.5 528.7,159.4 527.9,161.1 527.1,162.7 526.3,164.1 525.5,165.3 524.7,166.4 523.9,167.2 523.1,167.8 522.3,168.3 521.5,168.5 520.7,168.6 519.9,168.6 519.1,168.4 518.3,168 517.5,167.5 516.7,167 515.9,166.3 515.1,165.5 514.3,164.6 513.5,163.7 512.7,162.7" stroke="#d95319"/>
<polyline points="572.4,274.8 571.6,273 570.8,271.2 570,269.3 569.2,267.3 568.4,265.2 567.6,263 566.8,260.6 566,258.1 565.2,255.4 564.4,252.6 563.6,249.6 562.8,246.4 562,242.9 561.2,239.3 560.4,235.5 559.6,231.4 558.8,227.1 558,222.6 557.2,217.9 556.4,213 555.6,207.9 554.8,202.6 554,197.2 553.2,191.7 552.4,186.1 551.6,180.5 550.8,174.9 550,169.3 549.2,163.9 548.4,158.6 547.6,153.4 546.8,148.6 546.1,144 545.3,139.7 544.5,135.8 543.7,132.3 542.9,129.3 542.1,126.7 541.3,124.6 540.5,123 539.7,121.9 538.9,121.3 538.1,121.2 537.3,121.5 536.5,122.3 535.7,123.5 534.9,125 534.1,126.9 533.3,129.1 532.5,131.5 531.7,134.1 530.9,136.9 530.1,139.7 529.3,142.6 528.5,145.5 527.7,148.4 526.9,151.2 526.1,153.9 525.3,156.5 524.5,158.9 523.7,161.1 522.9,163.1 522.1,164.9 521.3,166.5 520.5,167.8 519.7,169 518.9,169.9 518.1,170.6 517.3,171.1 516.5,171.4 515.7,171.6 514.9,171.5 514.2,171.3 513.4,171 512.6,170.5 511.8,169.9 511,169.2 510.2,168.4 509.4,167.5 508.6,166.6" stroke="#0072bd"/>
<polyline points="568.2,278.9 567.4,277.2 566.6,275.4 565.8,273.5 565,271.5 564.2,269.4 563.4,267.1 562.6,264.8 561.8,262.3 561,259.6 560.2,256.8 559.4,253.8 558.6,250.6 557.8,247.2 557,243.6 556.3,239.8 555.5,235.7 554.7,231.5 553.9,227 553.1,222.3 552.3,217.4 551.5,212.3 550.7,207.1 549.9,201.7 549.1,196.2 548.3,190.7 547.5,185.1 546.7,179.5 545.9,174 545.1,168.6 544.3,163.3 543.5,158.2 542.7,153.4 541.9,148.8 541.1,144.6 540.3,140.7 539.5,137.2 538.7,134.2 537.9,131.6 537.1,129.5 536.3,127.9 535.5,126.8 534.7,126.2 533.9,126.1 533.1,126.4 532.3,127.2 531.5,128.3 530.7,129.9 529.9,131.7 529.1,133.9 528.3,136.3 527.5,138.8 526.7,141.6 525.9,144.4 525.1,147.2 524.4,150.1 523.6,153 522.8,155.7 522,158.4 521.2,160.9 520.4,163.3 519.6,165.5 518.8,167.5 518,169.2 517.2,170.8 516.4,172.1 515.6,173.3 514.8,174.2 514,174.9 513.2,175.4 512.4,175.7 511.6,175.8 510.8,175.7 510,175.5 509.2,175.2 508.4,174.7 507.6,174.1 506.8,173.4 506,172.6 505.2,171.7 504.4,170.7" stroke="#a2142f"/>
<polyline points="564.1,283.4 563.3,281.8 562.5,280 561.7,278.2 560.9,276.3 560.1,274.4 559.3,272.3 558.5,270.2 557.7,267.9 556.9,265.5 556.1,262.9 555.3,260.2 554.5,257.3 553.7,254.3 552.9,251.1 552.1,247.8 551.3,244.2 550.5,240.5 549.7,236.6 548.9,232.5 548.1,228.3 547.3,223.9 546.5,219.4 545.7,214.8 544.9,210.1 544.1,205.3 543.3,200.5 542.5,195.7 541.7,191 540.9,186.3 540.1,181.7 539.3,177.3 538.5,173.1 537.7,169.2 536.9,165.5 536.1,162.1 535.3,159 534.6,156.3 533.8,153.9 533,152 532.2,150.4 531.4,149.3 530.6,148.5 529.8,148.2 529,148.2 528.2,148.5 527.4,149.2 526.6,150.2 525.8,151.5 525,153 524.2,154.7 523.4,156.5 522.6,158.5 521.8,160.5 521,162.6 520.2,164.7 519.4,166.8 518.6,168.8 517.8,170.7 517,172.5 516.2,174.2 515.4,175.7 514.6,177.1 513.8,178.3 513,179.3 512.2,180.1 511.4,180.8 510.6,181.3 509.8,181.6 509,181.8 508.2,181.8 507.4,181.6 506.6,181.3 505.8,180.9 505,180.3 504.2,179.7 503.4,179 502.7,178.1 501.9,177.2 501.1,176.3 500.3,175.2" stroke="#4dbeee"/>
<polyline points="559.9,288.2 559.1,286.7 558.3,285.1 557.5,283.5 556.7,281.9 555.9,280.2 555.1,278.4 554.3,276.6 553.5,274.7 552.7,272.8 551.9,270.7 551.1,268.6 550.3,266.4 549.5,264.1 548.7,261.8 547.9,259.3 547.1,256.7 546.3,254 545.5,251.2 544.8,248.3 544,245.3 543.2,242.3 542.4,239.1 541.6,235.9 540.8,232.7 540,229.4 539.2,226.1 538.4,222.8 537.6,219.6 536.8,216.3 536,213.2 535.2,210.1 534.4,207.2 533.6,204.3 532.8,201.7 532,199.1 531.2,196.8 530.4,194.7 529.6,192.8 528.8,191.1 528,189.6 527.2,188.4 526.4,187.4 525.6,186.6 524.8,186 524,185.6 523.2,185.4 522.4,185.4 521.6,185.5 520.8,185.8 520,186.1 519.2,186.6 518.4,187.1 517.6,187.7 516.8,188.3 516,188.8 515.2,189.4 514.4,190 513.6,190.4 512.9,190.9 512.1,191.2 511.3,191.5 510.5,191.7 509.7,191.8 508.9,191.8 508.1,191.6 507.3,191.4 506.5,191.1 505.7,190.7 504.9,190.2 504.1,189.6 503.3,188.9 502.5,188.2 501.7,187.3 500.9,186.4 500.1,185.5 499.3,184.5 498.5,183.4 497.7,182.3 496.9,181.2 496.1,180" stroke="#77ac30"/>
<polyline points="555.8,293.2 555,291.8 554.2,290.5 553.4,289.1 552.6,287.8 551.8,286.4 551,285.1 550.2,283.7 549.4,282.4 548.6,281 547.8,279.7 547,278.3 546.2,277 545.4,275.6 544.6,274.3 543.8,272.9 543,271.6 542.2,270.2 541.4,268.9 540.6,267.5 539.8,266.2 539,264.8 538.2,263.4 537.4,262.1 536.6,260.7 535.8,259.4 535,258 534.2,256.7 533.4,255.3 532.6,254 531.8,252.6 531,251.3 530.2,249.9 529.4,248.6 528.6,247.2 527.8,245.9 527,244.5 526.2,243.2 525.4,241.8 524.6,240.5 523.8,239.1 523.1,237.7 522.3,236.4 521.5,235 520.7,233.7 519.9,232.3 519.1,231 518.3,229.6 517.5,228.3 516.7,226.9 515.9,225.6 515.1,224.2 514.3,222.9 513.5,221.5 512.7,220.2 511.9,218.8 511.1,217.5 510.3,216.1 509.5,214.8 508.7,213.4 507.9,212 507.1,210.7 506.3,209.3 505.5,208 504.7,206.6 503.9,205.3 503.1,203.9 502.3,202.6 501.5,201.2 500.7,199.9 499.9,198.5 499.1,197.2 498.3,195.8 497.5,194.5 496.7,193.1 495.9,191.8 495.1,190.4 494.3,189.1 493.5,187.7 492.7,186.4 491.9,185" stroke="#7e2f8e"/>
<polyline points="551.6,298.2 550.8,297 550,295.9 549.2,294.8 548.4,293.7 547.6,292.7 546.8,291.8 546,290.9 545.2,290 544.4,289.3 543.6,288.6 542.8,288 542,287.5 541.2,287.1 540.4,286.8 539.6,286.6 538.8,286.4 538,286.4 537.2,286.5 536.4,286.7 535.6,287 534.8,287.3 534,287.8 533.3,288.2 532.5,288.8 531.7,289.4 530.9,289.9 530.1,290.5 529.3,291.1 528.5,291.6 527.7,292.1 526.9,292.4 526.1,292.7 525.3,292.8 524.5,292.8 523.7,292.6 522.9,292.2 522.1,291.6 521.3,290.8 520.5,289.8 519.7,288.6 518.9,287.1 518.1,285.4 517.3,283.5 516.5,281.4 515.7,279.1 514.9,276.5 514.1,273.9 513.3,271 512.5,268.1 511.7,265 510.9,261.9 510.1,258.6 509.3,255.4 508.5,252.1 507.7,248.8 506.9,245.5 506.1,242.3 505.3,239.1 504.5,235.9 503.7,232.9 502.9,229.9 502.1,227 501.4,224.2 500.6,221.5 499.8,218.9 499,216.4 498.2,214.1 497.4,211.8 496.6,209.6 495.8,207.5 495,205.4 494.2,203.5 493.4,201.6 492.6,199.8 491.8,198 491,196.3 490.2,194.7 489.4,193.1 488.6,191.5 487.8,190" stroke="#edb120"/>
<polyline points="547.4,303 546.6,301.9 545.8,301 545,300.1 544.2,299.2 543.5,298.5 542.7,297.9 541.9,297.3 541.1,296.9 540.3,296.6 539.5,296.4 538.7,296.4 537.9,296.6 537.1,296.9 536.3,297.4 535.5,298.1 534.7,298.9 533.9,299.9 533.1,301.1 532.3,302.5 531.5,304 530.7,305.7 529.9,307.5 529.1,309.4 528.3,311.4 527.5,313.5 526.7,315.6 525.9,317.7 525.1,319.7 524.3,321.7 523.5,323.5 522.7,325.2 521.9,326.7 521.1,328 520.3,329 519.5,329.7 518.7,330 517.9,330 517.1,329.7 516.3,328.9 515.5,327.8 514.7,326.2 513.9,324.3 513.1,321.9 512.3,319.2 511.6,316.1 510.8,312.7 510,309 509.2,305.1 508.4,300.9 507.6,296.5 506.8,291.9 506,287.2 505.2,282.5 504.4,277.7 503.6,272.9 502.8,268.1 502,263.4 501.2,258.8 500.4,254.3 499.6,249.9 498.8,245.7 498,241.6 497.2,237.7 496.4,234 495.6,230.4 494.8,227.1 494,223.9 493.2,220.9 492.4,218 491.6,215.3 490.8,212.7 490,210.3 489.2,208 488.4,205.9 487.6,203.8 486.8,201.9 486,200 485.2,198.2 484.4,196.4 483.6,194.8" stroke="#d95319"/>
<polyline points="543.3,307.5 542.5,306.5 541.7,305.6 540.9,304.8 540.1,304.1 539.3,303.5 538.5,303 537.7,302.7 536.9,302.5 536.1,302.4 535.3,302.5 534.5,302.8 533.7,303.3 532.9,304 532.1,304.9 531.3,306.1 530.5,307.4 529.7,309 528.9,310.7 528.1,312.7 527.3,314.9 526.5,317.3 525.7,319.8 524.9,322.5 524.1,325.2 523.3,328.1 522.5,331 521.8,333.8 521,336.6 520.2,339.4 519.4,341.9 518.6,344.3 517.8,346.5 517,348.3 516.2,349.9 515.4,351 514.6,351.8 513.8,352.1 513,352 512.2,351.4 511.4,350.3 510.6,348.7 509.8,346.6 509,344 508.2,341 507.4,337.5 506.6,333.6 505.8,329.4 505,324.8 504.2,320 503.4,314.9 502.6,309.6 501.8,304.2 501,298.7 500.2,293.1 499.4,287.5 498.6,282 497.8,276.5 497,271.1 496.2,265.9 495.4,260.8 494.6,255.9 493.8,251.2 493,246.7 492.2,242.5 491.4,238.4 490.6,234.6 489.9,231 489.1,227.6 488.3,224.4 487.5,221.4 486.7,218.6 485.9,215.9 485.1,213.4 484.3,211.1 483.5,208.8 482.7,206.7 481.9,204.7 481.1,202.8 480.3,201 479.5,199.3" stroke="#0072bd"/>
<polyline points="539.1,311.6 538.3,310.7 537.5,309.8 536.7,309 535.9,308.3 535.1,307.7 534.3,307.2 533.5,306.9 532.8,306.7 532,306.6 531.2,306.8 530.4,307.1 529.6,307.6 528.8,308.3 528,309.2 527.2,310.4 526.4,311.7 525.6,313.3 524.8,315.1 524,317.1 523.2,319.3 522.4,321.7 521.6,324.3 520.8,327 520,329.8 519.2,332.7 518.4,335.6 517.6,338.5 516.8,341.3 516,344.1 515.2,346.7 514.4,349.1 513.6,351.3 512.8,353.2 512,354.7 511.2,355.9 510.4,356.7 509.6,357 508.8,356.9 508,356.3 507.2,355.2 506.4,353.6 505.6,351.5 504.8,348.9 504,345.9 503.2,342.4 502.4,338.5 501.6,334.2 500.8,329.6 500.1,324.8 499.3,319.6 498.5,314.3 497.7,308.9 496.9,303.3 496.1,297.7 495.3,292.1 494.5,286.5 493.7,281 492.9,275.6 492.1,270.3 491.3,265.2 490.5,260.3 489.7,255.6 488.9,251.1 488.1,246.8 487.3,242.7 486.5,238.9 485.7,235.3 484.9,231.8 484.1,228.6 483.3,225.6 482.5,222.8 481.7,220.1 480.9,217.6 480.1,215.2 479.3,213 478.5,210.9 477.7,208.9 476.9,207 476.1,205.2 475.3,203.4" stroke="#a2142f"/>
<polyline points="535,315.5 534.2,314.5 533.4,313.6 532.6,312.7 531.8,311.9 531,311.2 530.2,310.7 529.4,310.2 528.6,309.8 527.8,309.6 527,309.6 526.2,309.7 525.4,309.9 524.6,310.4 523.8,311 523,311.8 522.2,312.9 521.4,314.1 520.6,315.5 519.8,317.1 519,318.8 518.2,320.7 517.4,322.8 516.6,325 515.8,327.2 515,329.6 514.2,331.9 513.4,334.3 512.6,336.6 511.8,338.8 511,340.9 510.3,342.9 509.5,344.6 508.7,346.1 507.9,347.2 507.1,348.1 506.3,348.6 505.5,348.7 504.7,348.4 503.9,347.7 503.1,346.6 502.3,345 501.5,343 500.7,340.6 499.9,337.8 499.1,334.6 498.3,331 497.5,327.1 496.7,323 495.9,318.5 495.1,313.9 494.3,309.1 493.5,304.1 492.7,299.1 491.9,294.1 491.1,289 490.3,284 489.5,279 488.7,274.1 487.9,269.3 487.1,264.7 486.3,260.3 485.5,256 484.7,251.9 483.9,247.9 483.1,244.2 482.3,240.7 481.5,237.4 480.7,234.2 479.9,231.2 479.1,228.4 478.4,225.8 477.6,223.3 476.8,220.9 476,218.7 475.2,216.6 474.4,214.6 473.6,212.6 472.8,210.8 472,209 471.2,207.3" stroke="#4dbeee"/>
<polyline points="530.8,319.3 530,318.2 529.2,317.2 528.4,316.2 527.6,315.3 526.8,314.5 526,313.7 525.2,313 524.4,312.5 523.6,312 522.8,311.6 522,311.4 521.2,311.3 520.5,311.4 519.7,311.5 518.9,311.9 518.1,312.3 517.3,313 516.5,313.7 515.7,314.7 514.9,315.7 514.1,316.9 513.3,318.2 512.5,319.5 511.7,321 510.9,322.5 510.1,324 509.3,325.5 508.5,327 507.7,328.4 506.9,329.7 506.1,330.9 505.3,331.9 504.5,332.8 503.7,333.4 502.9,333.7 502.1,333.8 501.3,333.6 500.5,333.1 499.7,332.2 498.9,331 498.1,329.5 497.3,327.7 496.5,325.5 495.7,323 494.9,320.2 494.1,317.2 493.3,313.8 492.5,310.3 491.7,306.6 490.9,302.7 490.1,298.7 489.3,294.5 488.6,290.4 487.8,286.1 487,281.9 486.2,277.7 485.4,273.6 484.6,269.5 483.8,265.5 483,261.6 482.2,257.9 481.4,254.2 480.6,250.8 479.8,247.4 479,244.2 478.2,241.2 477.4,238.3 476.6,235.6 475.8,233 475,230.5 474.2,228.1 473.4,225.9 472.6,223.8 471.8,221.7 471,219.8 470.2,217.9 469.4,216.1 468.6,214.4 467.8,212.7 467,211.1" stroke="#77ac30"/>
<polyline points="526.7,323.1 525.9,321.9 525.1,320.8 524.3,319.7 523.5,318.7 522.7,317.7 521.9,316.7 521.1,315.8 520.3,315 519.5,314.3 518.7,313.6 517.9,313.1 517.1,312.6 516.3,312.2 515.5,311.9 514.7,311.7 513.9,311.6 513.1,311.6 512.3,311.8 511.5,312 510.7,312.3 509.9,312.7 509.1,313.2 508.3,313.7 507.5,314.3 506.7,314.9 505.9,315.6 505.1,316.2 504.3,316.8 503.5,317.4 502.7,317.9 501.9,318.3 501.1,318.6 500.3,318.8 499.5,318.8 498.8,318.6 498,318.2 497.2,317.7 496.4,316.9 495.6,315.9 494.8,314.7 494,313.2 493.2,311.5 492.4,309.6 491.6,307.4 490.8,305.1 490,302.5 489.2,299.8 488.4,297 487.6,294 486.8,290.8 486,287.6 485.2,284.4 484.4,281 483.6,277.7 482.8,274.4 482,271 481.2,267.7 480.4,264.5 479.6,261.3 478.8,258.2 478,255.2 477.2,252.3 476.4,249.4 475.6,246.7 474.8,244.1 474,241.6 473.2,239.1 472.4,236.8 471.6,234.6 470.8,232.5 470,230.4 469.2,228.5 468.4,226.6 467.6,224.7 466.9,223 466.1,221.3 465.3,219.6 464.5,218 463.7,216.4 462.9,214.9" stroke="#7e2f8e"/>
<polyline points="522.5,326.9 521.7,325.7 520.9,324.5 520.1,323.3 519.3,322.1 518.5,321 517.7,319.9 516.9,318.8 516.1,317.8 515.3,316.9 514.5,315.9 513.7,315.1 512.9,314.3 512.1,313.5 511.3,312.8 510.5,312.2 509.8,311.7 509,311.2 508.2,310.8 507.4,310.4 506.6,310.1 505.8,309.8 505,309.6 504.2,309.5 503.4,309.3 502.6,309.2 501.8,309.1 501,309 500.2,308.9 499.4,308.7 498.6,308.5 497.8,308.3 497,308 496.2,307.6 495.4,307.1 494.6,306.5 493.8,305.7 493,304.9 492.2,303.9 491.4,302.7 490.6,301.5 489.8,300 489,298.5 488.2,296.8 487.4,294.9 486.6,292.9 485.8,290.8 485,288.6 484.2,286.3 483.4,283.9 482.6,281.5 481.8,279 481,276.4 480.2,273.8 479.4,271.2 478.6,268.6 477.8,266 477.1,263.5 476.3,260.9 475.5,258.4 474.7,256 473.9,253.6 473.1,251.2 472.3,249 471.5,246.8 470.7,244.6 469.9,242.5 469.1,240.5 468.3,238.5 467.5,236.6 466.7,234.8 465.9,233 465.1,231.3 464.3,229.6 463.5,227.9 462.7,226.3 461.9,224.8 461.1,223.2 460.3,221.7 459.5,220.2 458.7,218.7" stroke="#edb120"/>
<polyline points="518.4,330.9 517.6,329.6 516.8,328.3 516,327 515.2,325.8 514.4,324.6 513.6,323.4 512.8,322.2 512,321 511.2,319.9 510.4,318.8 509.6,317.7 508.8,316.7 508,315.7 507.2,314.7 506.4,313.7 505.6,312.8 504.8,312 504,311.2 503.2,310.4 502.4,309.6 501.6,308.9 500.8,308.2 500,307.5 499.2,306.9 498.4,306.2 497.6,305.6 496.8,304.9 496,304.3 495.2,303.6 494.4,302.9 493.6,302.2 492.8,301.4 492,300.6 491.2,299.8 490.4,298.8 489.6,297.8 488.8,296.8 488,295.6 487.3,294.4 486.5,293.1 485.7,291.7 484.9,290.2 484.1,288.6 483.3,287 482.5,285.3 481.7,283.5 480.9,281.7 480.1,279.8 479.3,277.9 478.5,275.9 477.7,273.9 476.9,271.8 476.1,269.8 475.3,267.7 474.5,265.6 473.7,263.6 472.9,261.5 472.1,259.5 471.3,257.5 470.5,255.5 469.7,253.6 468.9,251.7 468.1,249.8 467.3,247.9 466.5,246.1 465.7,244.4 464.9,242.6 464.1,240.9 463.3,239.3 462.5,237.6 461.7,236 460.9,234.5 460.1,232.9 459.3,231.4 458.5,229.9 457.7,228.4 456.9,226.9 456.1,225.5 455.4,224.1 454.6,222.7" stroke="#d95319"/>
<polyline points="514.2,334.9 513.4,333.5 512.6,332.2 511.8,330.9 511,329.6 510.2,328.3 509.4,327.1 508.6,325.8 507.8,324.5 507,323.3 506.2,322.1 505.4,320.9 504.6,319.7 503.8,318.5 503,317.4 502.2,316.2 501.4,315.1 500.6,314 499.8,312.9 499,311.9 498.2,310.8 497.5,309.8 496.7,308.8 495.9,307.8 495.1,306.8 494.3,305.8 493.5,304.8 492.7,303.8 491.9,302.9 491.1,301.9 490.3,300.9 489.5,299.8 488.7,298.8 487.9,297.7 487.1,296.6 486.3,295.5 485.5,294.3 484.7,293.1 483.9,291.9 483.1,290.6 482.3,289.2 481.5,287.9 480.7,286.4 479.9,285 479.1,283.5 478.3,282 477.5,280.4 476.7,278.8 475.9,277.1 475.1,275.5 474.3,273.8 473.5,272.1 472.7,270.4 471.9,268.7 471.1,267 470.3,265.2 469.5,263.5 468.7,261.8 467.9,260.1 467.1,258.4 466.3,256.7 465.6,255.1 464.8,253.4 464,251.8 463.2,250.2 462.4,248.6 461.6,247 460.8,245.5 460,243.9 459.2,242.4 458.4,240.9 457.6,239.5 456.8,238 456,236.5 455.2,235.1 454.4,233.7 453.6,232.2 452.8,230.8 452,229.4 451.2,228 450.4,226.7" stroke="#0072bd"/>
</g>
<g stroke="#262626" stroke-width="1.2" fill="none">
<path d="M450.5 344.4L450.5 108.6"/>
<path d="M450.4 344.4L514.2 452.6"/>
<path d="M514.2 452.6L597.3 369.6"/>
<path d="M450.4 344.4L447 338.6"/>
<path d="M450.4 226.5L447 220.7"/>
<path d="M450.4 108.6L447 102.8"/>
<path d="M514.2 452.6L509.7 457.1"/>
<path d="M482.3 398.5L477.8 403"/>
<path d="M450.4 344.4L445.9 348.9"/>
<path d="M514.2 452.6L517.6 458.4"/>
<path d="M555.8 411.1L559.2 416.9"/>
<path d="M597.3 369.6L600.7 375.4"/>
</g>
<g font-family="Liberation Sans, sans-serif" font-size="13.33" fill="#262626" stroke="#262626" stroke-width="0.25" opacity="0.999">
<text transform="translate(444.4 105.6) scale(1.06 1.09)" text-anchor="end">0.5</text>
<text transform="translate(444.4 223.6) scale(1.06 1.09)" text-anchor="end">0</text>
<text transform="translate(444.4 341.8) scale(1.06 1.09)" text-anchor="end">-0.5</text>
<text transform="translate(442.7 366) scale(1.06 1.09)" text-anchor="end">2</text>
<text transform="translate(474.5 420.9) scale(1.06 1.09)" text-anchor="end">0</text>
<text transform="translate(506.3 475) scale(1.06 1.09)" text-anchor="end">-2</text>
<text transform="translate(513 476) scale(1.06 1.09)" text-anchor="start">-2</text>
<text transform="translate(556.8 434.5) scale(1.06 1.09)" text-anchor="start">0</text>
<text transform="translate(599.2 392.6) scale(1.06 1.09)" text-anchor="start">2</text>
</g>
<g opacity="0.999">
<g transform="translate(-0.9 -0.9)" opacity="0.9"><text x="486.3" y="472.5" font-family="Liberation Sans, sans-serif" font-size="16" fill="#fff">CSDN</text><text x="537" y="472" font-family="Liberation Sans, sans-serif" font-size="14.5" fill="#fff">@</text><path d="M 559.5 458.3 L 559.5 460.3M 552 460.7 L 567 460.7M 555.2 463.4 L 563.8 463.4 L 563.8 467.5 L 555.2 467.5 ZM 559.5 467.5 L 559.5 474.8 L 557.5 473.9M 556.2 469.5 L 552.9 473.6M 562.8 469.5 L 566.1 473.6M 571.5 461.4 L 577.8 461.4M 574.6 458.6 L 574.6 464.1M 569.8 464.4 L 579.5 464.4M 578.8 459.7 L 570.2 468.8M 572.8 467.1 L 578.1 467.1 L 578.1 474.8 L 572.8 474.8 ZM 572.8 470.9 L 578.1 470.9M 580.8 459.3 L 580.8 475.3M 580.8 459.7 L 585.1 459.7 L 582.8 464.8 L 585.1 467.5 L 584.8 469.9 L 582.8 469.9M 596.1 458.1 L 596.1 474.2 L 593.9 474.6M 592.9 463.5 L 588.7 470.5M 599.4 463.5 L 603.6 469.5M 614.2 459.1 L 612.7 462M 607.9 462.6 L 618.7 462.6M 607.9 467.6 L 618.7 467.6M 607.9 472.7 L 618.7 472.7M 607.9 462.6 L 607.9 474.6M 618.7 462.6 L 618.7 474.6" stroke="#fff" stroke-width="1.2" fill="none"/></g>
<g opacity="0.72"><text x="486.3" y="472.5" font-family="Liberation Sans, sans-serif" font-size="16" fill="#777">CSDN</text><text x="537" y="472" font-family="Liberation Sans, sans-serif" font-size="14.5" fill="#777">@</text><path d="M 559.5 458.3 L 559.5 460.3M 552 460.7 L 567 460.7M 555.2 463.4 L 563.8 463.4 L 563.8 467.5 L 555.2 467.5 ZM 559.5 467.5 L 559.5 474.8 L 557.5 473.9M 556.2 469.5 L 552.9 473.6M 562.8 469.5 L 566.1 473.6M 571.5 461.4 L 577.8 461.4M 574.6 458.6 L 574.6 464.1M 569.8 464.4 L 579.5 464.4M 578.8 459.7 L 570.2 468.8M 572.8 467.1 L 578.1 467.1 L 578.1 474.8 L 572.8 474.8 ZM 572.8 470.9 L 578.1 470.9M 580.8 459.3 L 580.8 475.3M 580.8 459.7 L 585.1 459.7 L 582.8 464.8 L 585.1 467.5 L 584.8 469.9 L 582.8 469.9M 596.1 458.1 L 596.1 474.2 L 593.9 474.6M 592.9 463.5 L 588.7 470.5M 599.4 463.5 L 603.6 469.5M 614.2 459.1 L 612.7 462M 607.9 462.6 L 618.7 462.6M 607.9 467.6 L 618.7 467.6M 607.9 472.7 L 618.7 472.7M 607.9 462.6 L 607.9 474.6M 618.7 462.6 L 618.7 474.6" stroke="#777" stroke-width="1.2" fill="none"/></g>
</g>
</svg></body></html>
